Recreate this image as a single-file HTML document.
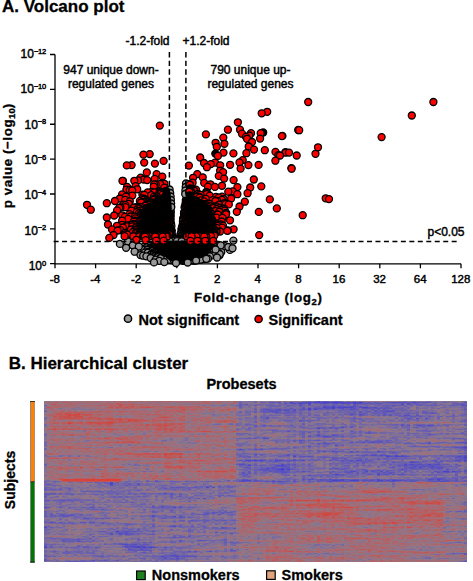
<!DOCTYPE html>
<html><head><meta charset="utf-8"><style>
html,body{margin:0;padding:0;background:#fff;overflow:hidden}
svg{display:block}
text{font-family:"Liberation Sans",sans-serif;fill:#000}
.r{stroke:#000;stroke-width:0.45px}
.b{font-weight:bold;stroke:#000;stroke-width:0.3px}
</style></head><body>
<svg width="473" height="581" viewBox="0 0 473 581">
<rect width="473" height="581" fill="#fff"/>
<text class="b" x="2" y="12.2" font-size="17">A. Volcano plot</text>
<path d="M55 54.5V263.8H461" fill="none" stroke="#000" stroke-width="1.3"/><path d="M50 54.5H55M50 89.37H55M50 124.24H55M50 159.11H55M50 193.98H55M50 228.85H55M50 263.72H55M55 263.8V268.3M95.6 263.8V268.3M136.2 263.8V268.3M176.8 263.8V268.3M217.4 263.8V268.3M258 263.8V268.3M298.6 263.8V268.3M339.2 263.8V268.3M379.8 263.8V268.3M420.4 263.8V268.3M461 263.8V268.3" stroke="#000" stroke-width="1.3" fill="none"/>
<g fill="#999999" stroke="#000" stroke-width="1.3"><circle cx="184.2" cy="212.1" r="3.5"/><circle cx="170.3" cy="212.2" r="3.5"/><circle cx="185.3" cy="212.2" r="3.5"/><circle cx="169.6" cy="212.3" r="3.5"/><circle cx="170.6" cy="212.3" r="3.5"/><circle cx="184.9" cy="212.3" r="3.5"/><circle cx="184.6" cy="212.4" r="3.5"/><circle cx="185.1" cy="212.7" r="3.5"/><circle cx="169.3" cy="213.5" r="3.5"/><circle cx="185" cy="213.6" r="3.5"/><circle cx="184.1" cy="213.6" r="3.5"/><circle cx="184" cy="213.6" r="3.5"/><circle cx="184.2" cy="214.1" r="3.5"/><circle cx="170.6" cy="214.4" r="3.5"/><circle cx="186.1" cy="214.6" r="3.5"/><circle cx="185.3" cy="214.8" r="3.5"/><circle cx="184.7" cy="215" r="3.5"/><circle cx="169.4" cy="215.5" r="3.5"/><circle cx="169.7" cy="215.9" r="3.5"/><circle cx="185.6" cy="215.9" r="3.5"/><circle cx="170.1" cy="216.1" r="3.5"/><circle cx="184.3" cy="216.3" r="3.5"/><circle cx="170.4" cy="216.4" r="3.5"/><circle cx="170.3" cy="216.5" r="3.5"/><circle cx="169.4" cy="216.8" r="3.5"/><circle cx="184.9" cy="217" r="3.5"/><circle cx="169.5" cy="217.1" r="3.5"/><circle cx="184.1" cy="217.2" r="3.5"/><circle cx="185.8" cy="217.7" r="3.5"/><circle cx="185" cy="217.9" r="3.5"/><circle cx="183.2" cy="218.4" r="3.5"/><circle cx="184" cy="218.6" r="3.5"/><circle cx="170.4" cy="218.7" r="3.5"/><circle cx="169.6" cy="218.9" r="3.5"/><circle cx="183.2" cy="219" r="3.5"/><circle cx="185.4" cy="219.3" r="3.5"/><circle cx="183.9" cy="219.3" r="3.5"/><circle cx="184.7" cy="219.4" r="3.5"/><circle cx="170.4" cy="219.4" r="3.5"/><circle cx="184.1" cy="219.7" r="3.5"/><circle cx="184.3" cy="219.7" r="3.5"/><circle cx="170.2" cy="220.3" r="3.5"/><circle cx="185.5" cy="220.3" r="3.5"/><circle cx="184.2" cy="221" r="3.5"/><circle cx="184.5" cy="221.1" r="3.5"/><circle cx="186.1" cy="221.2" r="3.5"/><circle cx="170.1" cy="221.5" r="3.5"/><circle cx="182.9" cy="221.5" r="3.5"/><circle cx="184.8" cy="222" r="3.5"/><circle cx="170.3" cy="222.4" r="3.5"/><circle cx="183.7" cy="223" r="3.5"/><circle cx="185.8" cy="223.4" r="3.5"/><circle cx="184.3" cy="223.5" r="3.5"/><circle cx="170.9" cy="223.5" r="3.5"/><circle cx="170.1" cy="223.6" r="3.5"/><circle cx="183" cy="223.9" r="3.5"/><circle cx="183.9" cy="223.9" r="3.5"/><circle cx="171.1" cy="224.1" r="3.5"/><circle cx="170.6" cy="224.2" r="3.5"/><circle cx="183.6" cy="224.7" r="3.5"/><circle cx="183.8" cy="224.8" r="3.5"/><circle cx="182.8" cy="224.8" r="3.5"/><circle cx="170.5" cy="224.9" r="3.5"/><circle cx="183.5" cy="225.1" r="3.5"/><circle cx="183.9" cy="225.3" r="3.5"/><circle cx="185.9" cy="225.5" r="3.5"/><circle cx="182.7" cy="226.1" r="3.5"/><circle cx="169.9" cy="226.2" r="3.5"/><circle cx="171.4" cy="226.2" r="3.5"/><circle cx="183.7" cy="226.4" r="3.5"/><circle cx="169.6" cy="226.8" r="3.5"/><circle cx="182.2" cy="227" r="3.5"/><circle cx="169.9" cy="227.1" r="3.5"/><circle cx="183.7" cy="227.2" r="3.5"/><circle cx="183" cy="227.3" r="3.5"/><circle cx="170.1" cy="227.5" r="3.5"/><circle cx="181.9" cy="227.8" r="3.5"/><circle cx="183.7" cy="227.9" r="3.5"/><circle cx="185.6" cy="228.6" r="3.5"/><circle cx="184" cy="228.7" r="3.5"/><circle cx="183.5" cy="228.7" r="3.5"/><circle cx="184.7" cy="228.9" r="3.5"/><circle cx="182.6" cy="228.9" r="3.5"/><circle cx="169.8" cy="229.1" r="3.5"/><circle cx="170.5" cy="229.1" r="3.5"/><circle cx="182.2" cy="229.2" r="3.5"/><circle cx="184.3" cy="229.5" r="3.5"/><circle cx="181.4" cy="229.5" r="3.5"/><circle cx="182.1" cy="229.6" r="3.5"/><circle cx="184" cy="229.7" r="3.5"/><circle cx="169.7" cy="229.9" r="3.5"/><circle cx="170.2" cy="230" r="3.5"/><circle cx="184.2" cy="230.1" r="3.5"/><circle cx="182.6" cy="230.1" r="3.5"/><circle cx="170.8" cy="230.3" r="3.5"/><circle cx="170.1" cy="230.5" r="3.5"/><circle cx="171.8" cy="230.8" r="3.5"/><circle cx="182.4" cy="230.9" r="3.5"/><circle cx="171.2" cy="231.2" r="3.5"/><circle cx="183.6" cy="231.3" r="3.5"/><circle cx="183.2" cy="231.5" r="3.5"/><circle cx="182.2" cy="231.6" r="3.5"/><circle cx="182.4" cy="231.7" r="3.5"/><circle cx="170.9" cy="231.9" r="3.5"/><circle cx="170.2" cy="232" r="3.5"/><circle cx="182.1" cy="232" r="3.5"/><circle cx="183.1" cy="232.2" r="3.5"/><circle cx="183.7" cy="232.2" r="3.5"/><circle cx="183.7" cy="232.3" r="3.5"/><circle cx="181.5" cy="232.4" r="3.5"/><circle cx="184.1" cy="232.5" r="3.5"/><circle cx="184.7" cy="233.1" r="3.5"/><circle cx="181.3" cy="233.3" r="3.5"/><circle cx="184.3" cy="233.3" r="3.5"/><circle cx="170.9" cy="233.4" r="3.5"/><circle cx="185" cy="233.5" r="3.5"/><circle cx="182.5" cy="233.5" r="3.5"/><circle cx="183.1" cy="233.8" r="3.5"/><circle cx="185.4" cy="233.9" r="3.5"/><circle cx="171.5" cy="233.9" r="3.5"/><circle cx="180.8" cy="234.1" r="3.5"/><circle cx="182.7" cy="234.2" r="3.5"/><circle cx="182.3" cy="234.2" r="3.5"/><circle cx="170" cy="234.2" r="3.5"/><circle cx="180.5" cy="234.4" r="3.5"/><circle cx="169.4" cy="234.5" r="3.5"/><circle cx="171.9" cy="235" r="3.5"/><circle cx="186" cy="235.2" r="3.5"/><circle cx="171.8" cy="235.3" r="3.5"/><circle cx="181.7" cy="235.3" r="3.5"/><circle cx="184.4" cy="235.7" r="3.5"/><circle cx="181.5" cy="235.7" r="3.5"/><circle cx="182.2" cy="235.7" r="3.5"/><circle cx="184" cy="235.9" r="3.5"/><circle cx="184" cy="236.1" r="3.5"/><circle cx="181.1" cy="236.2" r="3.5"/><circle cx="186" cy="236.3" r="3.5"/><circle cx="180.4" cy="236.7" r="3.5"/><circle cx="170.8" cy="236.7" r="3.5"/><circle cx="170.4" cy="236.7" r="3.5"/><circle cx="180.6" cy="236.7" r="3.5"/><circle cx="169.8" cy="236.7" r="3.5"/><circle cx="185.1" cy="237" r="3.5"/><circle cx="171.9" cy="237" r="3.5"/><circle cx="169.5" cy="237.1" r="3.5"/><circle cx="180.3" cy="237.1" r="3.5"/><circle cx="180.2" cy="237.3" r="3.5"/><circle cx="172.2" cy="237.7" r="3.5"/><circle cx="185.2" cy="237.8" r="3.5"/><circle cx="169.5" cy="237.8" r="3.5"/><circle cx="183.6" cy="237.9" r="3.5"/><circle cx="184" cy="237.9" r="3.5"/><circle cx="185.1" cy="238.1" r="3.5"/><circle cx="169.5" cy="238.2" r="3.5"/><circle cx="184.8" cy="238.3" r="3.5"/><circle cx="173.5" cy="238.3" r="3.5"/><circle cx="173.1" cy="238.4" r="3.5"/><circle cx="171.7" cy="238.4" r="3.5"/><circle cx="184.5" cy="238.4" r="3.5"/><circle cx="179.8" cy="238.5" r="3.5"/><circle cx="184.3" cy="238.5" r="3.5"/><circle cx="184.7" cy="238.5" r="3.5"/><circle cx="169.8" cy="238.6" r="3.5"/><circle cx="184.8" cy="238.8" r="3.5"/><circle cx="181.1" cy="238.8" r="3.5"/><circle cx="178.8" cy="238.9" r="3.5"/><circle cx="181.3" cy="239" r="3.5"/><circle cx="179.8" cy="239" r="3.5"/><circle cx="169.7" cy="239" r="3.5"/><circle cx="171.3" cy="239.2" r="3.5"/><circle cx="174.9" cy="239.2" r="3.5"/><circle cx="178.2" cy="239.4" r="3.5"/><circle cx="171.2" cy="239.4" r="3.5"/><circle cx="177.7" cy="239.6" r="3.5"/><circle cx="182.2" cy="239.6" r="3.5"/><circle cx="175.5" cy="239.7" r="3.5"/><circle cx="173.9" cy="239.7" r="3.5"/><circle cx="177.5" cy="239.9" r="3.5"/><circle cx="176.8" cy="240.1" r="3.5"/><circle cx="183.4" cy="240.1" r="3.5"/><circle cx="184.1" cy="240.2" r="3.5"/><circle cx="178.1" cy="240.2" r="3.5"/><circle cx="175.7" cy="240.3" r="3.5"/><circle cx="175.3" cy="240.3" r="3.5"/><circle cx="175.9" cy="240.4" r="3.5"/><circle cx="175.9" cy="240.5" r="3.5"/><circle cx="185" cy="240.5" r="3.5"/><circle cx="181.7" cy="240.5" r="3.5"/><circle cx="180.9" cy="240.7" r="3.5"/><circle cx="179" cy="240.7" r="3.5"/><circle cx="182" cy="240.8" r="3.5"/><circle cx="177.5" cy="240.9" r="3.5"/><circle cx="179.2" cy="240.9" r="3.5"/><circle cx="172.6" cy="241" r="3.5"/><circle cx="185.4" cy="241" r="3.5"/><circle cx="181.6" cy="241" r="3.5"/><circle cx="184" cy="241" r="3.5"/><circle cx="177" cy="241.1" r="3.5"/><circle cx="184.9" cy="241.2" r="3.5"/><circle cx="169.6" cy="241.2" r="3.5"/><circle cx="181.6" cy="241.3" r="3.5"/><circle cx="185.7" cy="211.8" r="3.5"/><circle cx="185.8" cy="210.2" r="3.5"/><circle cx="185.8" cy="209.2" r="3.5"/><circle cx="185.7" cy="209.2" r="3.5"/><circle cx="186" cy="206.6" r="3.5"/><circle cx="169.5" cy="211.4" r="3.5"/><circle cx="169.6" cy="207.7" r="3.5"/><circle cx="186.1" cy="202.7" r="3.5"/><circle cx="185.7" cy="205.9" r="3.5"/><circle cx="184.7" cy="211.9" r="3.5"/><circle cx="169.9" cy="208.1" r="3.5"/><circle cx="185.8" cy="203.4" r="3.5"/><circle cx="169.5" cy="204.4" r="3.5"/><circle cx="185.7" cy="203.3" r="3.5"/><circle cx="169.8" cy="205.7" r="3.5"/><circle cx="170.1" cy="209.8" r="3.5"/><circle cx="185" cy="208.3" r="3.5"/><circle cx="185" cy="207.8" r="3.5"/><circle cx="185.8" cy="200.3" r="3.5"/><circle cx="169.8" cy="203.8" r="3.5"/><circle cx="170.3" cy="206.5" r="3.5"/><circle cx="170.3" cy="206.7" r="3.5"/><circle cx="184.7" cy="207.8" r="3.5"/><circle cx="170.6" cy="210.9" r="3.5"/><circle cx="184.8" cy="206.4" r="3.5"/><circle cx="149.6" cy="245.4" r="3.5"/><circle cx="151.7" cy="245.2" r="3.5"/><circle cx="198.8" cy="245.6" r="3.5"/><circle cx="186.3" cy="245.6" r="3.5"/><circle cx="181.4" cy="244.9" r="3.5"/><circle cx="128.6" cy="244.9" r="3.5"/><circle cx="176" cy="245" r="3.5"/><circle cx="187" cy="245.6" r="3.5"/><circle cx="160.9" cy="245.5" r="3.5"/><circle cx="159" cy="245.7" r="3.5"/><circle cx="206.1" cy="245.4" r="3.5"/><circle cx="210.8" cy="245.4" r="3.5"/><circle cx="196.4" cy="245.4" r="3.5"/><circle cx="179.7" cy="245.2" r="3.5"/><circle cx="171.2" cy="244.8" r="3.5"/><circle cx="174.4" cy="245.3" r="3.5"/><circle cx="155.1" cy="244.8" r="3.5"/><circle cx="166.8" cy="245.5" r="3.5"/><circle cx="174.3" cy="245.5" r="3.5"/><circle cx="219.4" cy="245.1" r="3.5"/><circle cx="165.5" cy="245" r="3.5"/><circle cx="169.2" cy="245" r="3.5"/><circle cx="177.5" cy="246.7" r="3.5"/><circle cx="181.3" cy="245.1" r="3.5"/><circle cx="190.8" cy="245.4" r="3.5"/><circle cx="161.6" cy="244.9" r="3.5"/><circle cx="190.5" cy="244.9" r="3.5"/><circle cx="171.6" cy="245.7" r="3.5"/><circle cx="178.4" cy="245.7" r="3.5"/><circle cx="183.3" cy="245.3" r="3.5"/><circle cx="199.2" cy="246.3" r="3.5"/><circle cx="137.7" cy="245.9" r="3.5"/><circle cx="171.7" cy="246.3" r="3.5"/><circle cx="154.4" cy="245.7" r="3.5"/><circle cx="177.3" cy="245" r="3.5"/><circle cx="198.9" cy="245.3" r="3.5"/><circle cx="165" cy="246.3" r="3.5"/><circle cx="177.4" cy="245.9" r="3.5"/><circle cx="152" cy="245.7" r="3.5"/><circle cx="159.6" cy="245" r="3.5"/><circle cx="165.4" cy="245.9" r="3.5"/><circle cx="183.1" cy="246.4" r="3.5"/><circle cx="175.7" cy="245.1" r="3.5"/><circle cx="174.9" cy="246.6" r="3.5"/><circle cx="166.4" cy="246.2" r="3.5"/><circle cx="168.2" cy="244.9" r="3.5"/><circle cx="185.7" cy="246.7" r="3.5"/><circle cx="195.5" cy="245.9" r="3.5"/><circle cx="152.3" cy="246" r="3.5"/><circle cx="151.7" cy="246.2" r="3.5"/><circle cx="179.4" cy="245" r="3.5"/><circle cx="184.3" cy="245.4" r="3.5"/><circle cx="158.2" cy="246" r="3.5"/><circle cx="180.3" cy="245.5" r="3.5"/><circle cx="183.3" cy="245.6" r="3.5"/><circle cx="194.2" cy="247" r="3.5"/><circle cx="196.8" cy="245.3" r="3.5"/><circle cx="172.8" cy="245.5" r="3.5"/><circle cx="187.4" cy="245.9" r="3.5"/><circle cx="163.3" cy="245.3" r="3.5"/><circle cx="184.8" cy="245.2" r="3.5"/><circle cx="181.6" cy="245.5" r="3.5"/><circle cx="198" cy="247.3" r="3.5"/><circle cx="207.7" cy="246.1" r="3.5"/><circle cx="161.6" cy="245.2" r="3.5"/><circle cx="162.2" cy="245.7" r="3.5"/><circle cx="175.3" cy="245.2" r="3.5"/><circle cx="203.6" cy="245.6" r="3.5"/><circle cx="179.6" cy="246.2" r="3.5"/><circle cx="159.7" cy="246.6" r="3.5"/><circle cx="148.2" cy="246.1" r="3.5"/><circle cx="183.1" cy="245.6" r="3.5"/><circle cx="170.3" cy="246" r="3.5"/><circle cx="180.6" cy="245.7" r="3.5"/><circle cx="170.4" cy="246.9" r="3.5"/><circle cx="189.4" cy="245.2" r="3.5"/><circle cx="176.2" cy="247.9" r="3.5"/><circle cx="150.3" cy="246.5" r="3.5"/><circle cx="172.4" cy="245" r="3.5"/><circle cx="161.8" cy="246.8" r="3.5"/><circle cx="167.5" cy="245.6" r="3.5"/><circle cx="172" cy="246.5" r="3.5"/><circle cx="183.7" cy="246.7" r="3.5"/><circle cx="159.4" cy="246.6" r="3.5"/><circle cx="207.8" cy="247.1" r="3.5"/><circle cx="169.1" cy="246.3" r="3.5"/><circle cx="175.2" cy="245.3" r="3.5"/><circle cx="186" cy="247" r="3.5"/><circle cx="174.6" cy="247" r="3.5"/><circle cx="167.6" cy="247.4" r="3.5"/><circle cx="206.8" cy="246.8" r="3.5"/><circle cx="193.2" cy="245.2" r="3.5"/><circle cx="159.5" cy="247.2" r="3.5"/><circle cx="163.1" cy="246" r="3.5"/><circle cx="138.2" cy="246.6" r="3.5"/><circle cx="204.3" cy="248.6" r="3.5"/><circle cx="193.9" cy="247" r="3.5"/><circle cx="173.1" cy="246.1" r="3.5"/><circle cx="156.9" cy="246.3" r="3.5"/><circle cx="177.5" cy="246" r="3.5"/><circle cx="173.6" cy="244.9" r="3.5"/><circle cx="160.9" cy="246.9" r="3.5"/><circle cx="151.7" cy="245.5" r="3.5"/><circle cx="174.1" cy="247" r="3.5"/><circle cx="166.5" cy="245" r="3.5"/><circle cx="164.5" cy="248.9" r="3.5"/><circle cx="170.5" cy="245.2" r="3.5"/><circle cx="182.7" cy="245.2" r="3.5"/><circle cx="189.1" cy="246" r="3.5"/><circle cx="202.7" cy="246" r="3.5"/><circle cx="181.5" cy="246" r="3.5"/><circle cx="192.4" cy="248" r="3.5"/><circle cx="161.4" cy="246.4" r="3.5"/><circle cx="152.8" cy="246.9" r="3.5"/><circle cx="195.3" cy="246" r="3.5"/><circle cx="203" cy="245.3" r="3.5"/><circle cx="172.9" cy="246.8" r="3.5"/><circle cx="157.9" cy="246.4" r="3.5"/><circle cx="208.9" cy="246.8" r="3.5"/><circle cx="154.7" cy="246.6" r="3.5"/><circle cx="163.5" cy="246.9" r="3.5"/><circle cx="182.9" cy="247.3" r="3.5"/><circle cx="173.4" cy="246.4" r="3.5"/><circle cx="154.5" cy="244.9" r="3.5"/><circle cx="152.7" cy="246.3" r="3.5"/><circle cx="192.1" cy="246.5" r="3.5"/><circle cx="176.3" cy="246.5" r="3.5"/><circle cx="183.5" cy="246.1" r="3.5"/><circle cx="187.7" cy="247.5" r="3.5"/><circle cx="182.9" cy="246.6" r="3.5"/><circle cx="187.9" cy="246.1" r="3.5"/><circle cx="174.6" cy="246" r="3.5"/><circle cx="188" cy="247" r="3.5"/><circle cx="153.2" cy="246.7" r="3.5"/><circle cx="180.3" cy="247.7" r="3.5"/><circle cx="173.6" cy="247.4" r="3.5"/><circle cx="171.4" cy="245.5" r="3.5"/><circle cx="161.1" cy="245.9" r="3.5"/><circle cx="172.6" cy="246.1" r="3.5"/><circle cx="192.2" cy="246.8" r="3.5"/><circle cx="180.3" cy="247.9" r="3.5"/><circle cx="165" cy="245.9" r="3.5"/><circle cx="222.2" cy="247" r="3.5"/><circle cx="175" cy="247.3" r="3.5"/><circle cx="175.1" cy="246.3" r="3.5"/><circle cx="155.5" cy="245.9" r="3.5"/><circle cx="182.3" cy="247" r="3.5"/><circle cx="189.8" cy="246.6" r="3.5"/><circle cx="194" cy="245.6" r="3.5"/><circle cx="152.9" cy="247.7" r="3.5"/><circle cx="177.2" cy="246.1" r="3.5"/><circle cx="195.8" cy="246.8" r="3.5"/><circle cx="179.8" cy="246.5" r="3.5"/><circle cx="204.7" cy="246.2" r="3.5"/><circle cx="171.9" cy="248" r="3.5"/><circle cx="183.7" cy="246.7" r="3.5"/><circle cx="176.1" cy="245.9" r="3.5"/><circle cx="213.6" cy="247.6" r="3.5"/><circle cx="171.4" cy="247.7" r="3.5"/><circle cx="182.3" cy="246.9" r="3.5"/><circle cx="162.8" cy="246.5" r="3.5"/><circle cx="194.5" cy="245.6" r="3.5"/><circle cx="203" cy="247.9" r="3.5"/><circle cx="139.6" cy="247.6" r="3.5"/><circle cx="179.6" cy="246.4" r="3.5"/><circle cx="162.4" cy="247.6" r="3.5"/><circle cx="161.2" cy="249.3" r="3.5"/><circle cx="174.4" cy="245.3" r="3.5"/><circle cx="151.1" cy="247" r="3.5"/><circle cx="177.3" cy="247.7" r="3.5"/><circle cx="168.2" cy="246.6" r="3.5"/><circle cx="175.2" cy="248" r="3.5"/><circle cx="178.8" cy="247.8" r="3.5"/><circle cx="182.9" cy="247.3" r="3.5"/><circle cx="174.6" cy="248.9" r="3.5"/><circle cx="182.8" cy="247.5" r="3.5"/><circle cx="160.1" cy="248.9" r="3.5"/><circle cx="161.7" cy="246.6" r="3.5"/><circle cx="173.3" cy="247.2" r="3.5"/><circle cx="199.8" cy="248.2" r="3.5"/><circle cx="201.3" cy="247.9" r="3.5"/><circle cx="165.3" cy="246.1" r="3.5"/><circle cx="153.1" cy="248" r="3.5"/><circle cx="225" cy="246.2" r="3.5"/><circle cx="161.2" cy="246.4" r="3.5"/><circle cx="229.9" cy="249.9" r="3.5"/><circle cx="190.1" cy="249.6" r="3.5"/><circle cx="170" cy="247" r="3.5"/><circle cx="189.3" cy="247.6" r="3.5"/><circle cx="201.3" cy="246" r="3.5"/><circle cx="172.5" cy="247.7" r="3.5"/><circle cx="167.2" cy="247.8" r="3.5"/><circle cx="188.8" cy="246.6" r="3.5"/><circle cx="191.2" cy="247.3" r="3.5"/><circle cx="177.6" cy="246.1" r="3.5"/><circle cx="159.7" cy="248.6" r="3.5"/><circle cx="151.5" cy="246.5" r="3.5"/><circle cx="187.5" cy="246.4" r="3.5"/><circle cx="181.4" cy="247.8" r="3.5"/><circle cx="187" cy="247.1" r="3.5"/><circle cx="164" cy="247.7" r="3.5"/><circle cx="209" cy="247.9" r="3.5"/><circle cx="167.2" cy="249" r="3.5"/><circle cx="180.7" cy="248.5" r="3.5"/><circle cx="200.1" cy="246.6" r="3.5"/><circle cx="168.8" cy="246.8" r="3.5"/><circle cx="173.9" cy="247.9" r="3.5"/><circle cx="166.7" cy="247.9" r="3.5"/><circle cx="182.6" cy="246.8" r="3.5"/><circle cx="161.1" cy="248.2" r="3.5"/><circle cx="191.1" cy="247.4" r="3.5"/><circle cx="174" cy="246.9" r="3.5"/><circle cx="171.4" cy="245.7" r="3.5"/><circle cx="167" cy="245.9" r="3.5"/><circle cx="160.8" cy="249.6" r="3.5"/><circle cx="169.3" cy="247.4" r="3.5"/><circle cx="171.5" cy="248.4" r="3.5"/><circle cx="168.9" cy="246.7" r="3.5"/><circle cx="144" cy="246.9" r="3.5"/><circle cx="209.2" cy="247.6" r="3.5"/><circle cx="157.5" cy="249" r="3.5"/><circle cx="169.6" cy="247.1" r="3.5"/><circle cx="186.5" cy="248.2" r="3.5"/><circle cx="213.9" cy="246.2" r="3.5"/><circle cx="209.1" cy="247.1" r="3.5"/><circle cx="203.8" cy="249.1" r="3.5"/><circle cx="203.2" cy="249.2" r="3.5"/><circle cx="171.2" cy="247.1" r="3.5"/><circle cx="194.7" cy="247.1" r="3.5"/><circle cx="181.6" cy="248.3" r="3.5"/><circle cx="161.1" cy="248.3" r="3.5"/><circle cx="207.4" cy="249" r="3.5"/><circle cx="182.1" cy="248.5" r="3.5"/><circle cx="188.2" cy="248" r="3.5"/><circle cx="191.2" cy="247.8" r="3.5"/><circle cx="164.7" cy="245.8" r="3.5"/><circle cx="170.8" cy="244.9" r="3.5"/><circle cx="147.5" cy="248.9" r="3.5"/><circle cx="164.4" cy="247.7" r="3.5"/><circle cx="172.5" cy="249.3" r="3.5"/><circle cx="181" cy="245.6" r="3.5"/><circle cx="178.6" cy="249.6" r="3.5"/><circle cx="173.1" cy="246.9" r="3.5"/><circle cx="200.1" cy="247.3" r="3.5"/><circle cx="186.3" cy="248.8" r="3.5"/><circle cx="170.1" cy="248.5" r="3.5"/><circle cx="190.9" cy="248" r="3.5"/><circle cx="194.1" cy="248.2" r="3.5"/><circle cx="180" cy="247.6" r="3.5"/><circle cx="200.3" cy="247.4" r="3.5"/><circle cx="190.5" cy="248.4" r="3.5"/><circle cx="152" cy="247.4" r="3.5"/><circle cx="186.9" cy="248.1" r="3.5"/><circle cx="160.1" cy="247.9" r="3.5"/><circle cx="202.4" cy="248" r="3.5"/><circle cx="166" cy="249" r="3.5"/><circle cx="190.2" cy="248.2" r="3.5"/><circle cx="174.8" cy="247.5" r="3.5"/><circle cx="183.5" cy="248.1" r="3.5"/><circle cx="193.5" cy="247.5" r="3.5"/><circle cx="182.7" cy="247.9" r="3.5"/><circle cx="167.9" cy="248.5" r="3.5"/><circle cx="176.4" cy="248.7" r="3.5"/><circle cx="177.9" cy="248.4" r="3.5"/><circle cx="164.6" cy="249.7" r="3.5"/><circle cx="165.1" cy="249" r="3.5"/><circle cx="170.1" cy="248.4" r="3.5"/><circle cx="164" cy="249.1" r="3.5"/><circle cx="162.3" cy="248" r="3.5"/><circle cx="194.2" cy="246.1" r="3.5"/><circle cx="162.8" cy="249.1" r="3.5"/><circle cx="159.1" cy="248.7" r="3.5"/><circle cx="160.1" cy="247.9" r="3.5"/><circle cx="185" cy="248.9" r="3.5"/><circle cx="149.6" cy="245.9" r="3.5"/><circle cx="166.6" cy="249.3" r="3.5"/><circle cx="202.9" cy="248.6" r="3.5"/><circle cx="185.8" cy="247.4" r="3.5"/><circle cx="193.7" cy="249.4" r="3.5"/><circle cx="179.7" cy="247.7" r="3.5"/><circle cx="146" cy="248.6" r="3.5"/><circle cx="179" cy="249.3" r="3.5"/><circle cx="146.5" cy="247.4" r="3.5"/><circle cx="197.4" cy="249.1" r="3.5"/><circle cx="141" cy="248.9" r="3.5"/><circle cx="183.3" cy="249.1" r="3.5"/><circle cx="192.5" cy="247.4" r="3.5"/><circle cx="201.8" cy="248.8" r="3.5"/><circle cx="186.6" cy="248.1" r="3.5"/><circle cx="193.8" cy="248.2" r="3.5"/><circle cx="158.8" cy="248.8" r="3.5"/><circle cx="197.7" cy="249.7" r="3.5"/><circle cx="177.8" cy="248.6" r="3.5"/><circle cx="161.1" cy="246.5" r="3.5"/><circle cx="161.1" cy="250.8" r="3.5"/><circle cx="193.4" cy="247.7" r="3.5"/><circle cx="168" cy="248.8" r="3.5"/><circle cx="187.5" cy="248.3" r="3.5"/><circle cx="150.8" cy="247.5" r="3.5"/><circle cx="193.2" cy="246.6" r="3.5"/><circle cx="160.8" cy="248.6" r="3.5"/><circle cx="180" cy="248.2" r="3.5"/><circle cx="169.3" cy="250.1" r="3.5"/><circle cx="181.5" cy="248.6" r="3.5"/><circle cx="197.2" cy="248.9" r="3.5"/><circle cx="190.2" cy="249.2" r="3.5"/><circle cx="182" cy="249.7" r="3.5"/><circle cx="174.2" cy="248" r="3.5"/><circle cx="187.4" cy="250.9" r="3.5"/><circle cx="149.3" cy="248.7" r="3.5"/><circle cx="160.9" cy="247.8" r="3.5"/><circle cx="197.3" cy="249" r="3.5"/><circle cx="184.2" cy="247.3" r="3.5"/><circle cx="181.8" cy="249.5" r="3.5"/><circle cx="158.6" cy="248.8" r="3.5"/><circle cx="203.4" cy="248.9" r="3.5"/><circle cx="183.5" cy="248.9" r="3.5"/><circle cx="164.8" cy="249.7" r="3.5"/><circle cx="202.2" cy="250.1" r="3.5"/><circle cx="186.7" cy="248.6" r="3.5"/><circle cx="197.9" cy="248.1" r="3.5"/><circle cx="166.1" cy="247.8" r="3.5"/><circle cx="179.2" cy="250.1" r="3.5"/><circle cx="174.5" cy="250.1" r="3.5"/><circle cx="170.2" cy="249.5" r="3.5"/><circle cx="171.3" cy="248.7" r="3.5"/><circle cx="176.5" cy="250.3" r="3.5"/><circle cx="173.3" cy="249.5" r="3.5"/><circle cx="174.4" cy="248.6" r="3.5"/><circle cx="179.1" cy="250.2" r="3.5"/><circle cx="168.4" cy="248.8" r="3.5"/><circle cx="166.4" cy="248.9" r="3.5"/><circle cx="185.1" cy="247.2" r="3.5"/><circle cx="193.3" cy="251.1" r="3.5"/><circle cx="183.2" cy="250.5" r="3.5"/><circle cx="171.5" cy="249.1" r="3.5"/><circle cx="193" cy="248.9" r="3.5"/><circle cx="150.6" cy="248.2" r="3.5"/><circle cx="194.3" cy="250.2" r="3.5"/><circle cx="168.9" cy="248.3" r="3.5"/><circle cx="171.6" cy="249.6" r="3.5"/><circle cx="169.1" cy="250.9" r="3.5"/><circle cx="162" cy="248.2" r="3.5"/><circle cx="186.5" cy="246.8" r="3.5"/><circle cx="192.2" cy="250.2" r="3.5"/><circle cx="183.5" cy="249.4" r="3.5"/><circle cx="167.3" cy="249.3" r="3.5"/><circle cx="165.1" cy="250.2" r="3.5"/><circle cx="167.7" cy="250" r="3.5"/><circle cx="184.6" cy="248.1" r="3.5"/><circle cx="173.2" cy="249.6" r="3.5"/><circle cx="156.9" cy="248.6" r="3.5"/><circle cx="182.2" cy="250.1" r="3.5"/><circle cx="158.9" cy="249.1" r="3.5"/><circle cx="198.2" cy="250.9" r="3.5"/><circle cx="181.7" cy="247.4" r="3.5"/><circle cx="137.9" cy="249.9" r="3.5"/><circle cx="194.3" cy="248.7" r="3.5"/><circle cx="154.1" cy="250" r="3.5"/><circle cx="165.8" cy="250.3" r="3.5"/><circle cx="187.6" cy="249.3" r="3.5"/><circle cx="188.9" cy="250" r="3.5"/><circle cx="190" cy="248.6" r="3.5"/><circle cx="148.6" cy="250.1" r="3.5"/><circle cx="168.6" cy="248.4" r="3.5"/><circle cx="173.3" cy="250.7" r="3.5"/><circle cx="185.2" cy="247.3" r="3.5"/><circle cx="174.8" cy="250.5" r="3.5"/><circle cx="172.3" cy="248.4" r="3.5"/><circle cx="184" cy="251.2" r="3.5"/><circle cx="176.2" cy="251.9" r="3.5"/><circle cx="195.7" cy="250.1" r="3.5"/><circle cx="139.1" cy="248.9" r="3.5"/><circle cx="181" cy="249.2" r="3.5"/><circle cx="151.4" cy="249" r="3.5"/><circle cx="170.1" cy="248.6" r="3.5"/><circle cx="180.5" cy="251" r="3.5"/><circle cx="178.3" cy="247.9" r="3.5"/><circle cx="177.3" cy="248.9" r="3.5"/><circle cx="171.4" cy="249.6" r="3.5"/><circle cx="179.8" cy="247.7" r="3.5"/><circle cx="163.6" cy="250.7" r="3.5"/><circle cx="164.8" cy="247.7" r="3.5"/><circle cx="189.3" cy="249.8" r="3.5"/><circle cx="181.2" cy="250.8" r="3.5"/><circle cx="199.3" cy="249.9" r="3.5"/><circle cx="181.3" cy="249.6" r="3.5"/><circle cx="182.3" cy="250.3" r="3.5"/><circle cx="181.3" cy="249.7" r="3.5"/><circle cx="184.5" cy="250.5" r="3.5"/><circle cx="187.9" cy="249.9" r="3.5"/><circle cx="172.2" cy="249.8" r="3.5"/><circle cx="189.2" cy="249.5" r="3.5"/><circle cx="189.7" cy="249.7" r="3.5"/><circle cx="209.7" cy="249.6" r="3.5"/><circle cx="201" cy="249.4" r="3.5"/><circle cx="192.9" cy="250.8" r="3.5"/><circle cx="187.7" cy="249.4" r="3.5"/><circle cx="189.3" cy="249.1" r="3.5"/><circle cx="182.5" cy="250.5" r="3.5"/><circle cx="196.8" cy="251.7" r="3.5"/><circle cx="162.4" cy="250.4" r="3.5"/><circle cx="175.1" cy="249.3" r="3.5"/><circle cx="186.3" cy="249.5" r="3.5"/><circle cx="172.4" cy="250.6" r="3.5"/><circle cx="196" cy="250.1" r="3.5"/><circle cx="162.5" cy="247.4" r="3.5"/><circle cx="162.6" cy="249.8" r="3.5"/><circle cx="174" cy="250.7" r="3.5"/><circle cx="192.6" cy="250.6" r="3.5"/><circle cx="192.9" cy="248.9" r="3.5"/><circle cx="149.4" cy="251.2" r="3.5"/><circle cx="173" cy="250.5" r="3.5"/><circle cx="163.2" cy="250.7" r="3.5"/><circle cx="179" cy="250.3" r="3.5"/><circle cx="161.9" cy="250.1" r="3.5"/><circle cx="206.1" cy="249" r="3.5"/><circle cx="191.5" cy="249.3" r="3.5"/><circle cx="184.5" cy="248.6" r="3.5"/><circle cx="186.6" cy="251.2" r="3.5"/><circle cx="164.2" cy="249.4" r="3.5"/><circle cx="155.1" cy="250.7" r="3.5"/><circle cx="175.2" cy="249.8" r="3.5"/><circle cx="184.6" cy="251.9" r="3.5"/><circle cx="162.9" cy="249.5" r="3.5"/><circle cx="167.8" cy="251.1" r="3.5"/><circle cx="174.6" cy="250.2" r="3.5"/><circle cx="169.5" cy="249.1" r="3.5"/><circle cx="158.9" cy="251.5" r="3.5"/><circle cx="136.5" cy="249.3" r="3.5"/><circle cx="183.2" cy="252.2" r="3.5"/><circle cx="194.6" cy="249.3" r="3.5"/><circle cx="191.6" cy="249.4" r="3.5"/><circle cx="195.1" cy="250.4" r="3.5"/><circle cx="149.7" cy="250.9" r="3.5"/><circle cx="151" cy="251.8" r="3.5"/><circle cx="181.5" cy="251.6" r="3.5"/><circle cx="157.4" cy="251.7" r="3.5"/><circle cx="193.1" cy="250" r="3.5"/><circle cx="200.5" cy="248.7" r="3.5"/><circle cx="156.4" cy="251" r="3.5"/><circle cx="147.8" cy="252.7" r="3.5"/><circle cx="151" cy="250" r="3.5"/><circle cx="151.3" cy="250.8" r="3.5"/><circle cx="184.9" cy="250.8" r="3.5"/><circle cx="163.6" cy="251.4" r="3.5"/><circle cx="190.2" cy="250.3" r="3.5"/><circle cx="162.6" cy="248.8" r="3.5"/><circle cx="212.4" cy="251.4" r="3.5"/><circle cx="194.5" cy="250" r="3.5"/><circle cx="138.4" cy="250" r="3.5"/><circle cx="214.2" cy="252.7" r="3.5"/><circle cx="170" cy="249.4" r="3.5"/><circle cx="144.5" cy="249.4" r="3.5"/><circle cx="163.2" cy="249.7" r="3.5"/><circle cx="179.4" cy="248.8" r="3.5"/><circle cx="213.4" cy="250.5" r="3.5"/><circle cx="177.3" cy="250.8" r="3.5"/><circle cx="167.6" cy="251" r="3.5"/><circle cx="192.4" cy="248.5" r="3.5"/><circle cx="159.7" cy="250.5" r="3.5"/><circle cx="216.8" cy="248.5" r="3.5"/><circle cx="179.8" cy="251.2" r="3.5"/><circle cx="175.6" cy="250" r="3.5"/><circle cx="153.7" cy="251.4" r="3.5"/><circle cx="153.6" cy="252.1" r="3.5"/><circle cx="169.9" cy="250.8" r="3.5"/><circle cx="200.6" cy="249.6" r="3.5"/><circle cx="200.3" cy="251.3" r="3.5"/><circle cx="187.4" cy="251.1" r="3.5"/><circle cx="144.2" cy="249.8" r="3.5"/><circle cx="193.4" cy="251.5" r="3.5"/><circle cx="188.7" cy="250.8" r="3.5"/><circle cx="157.4" cy="250.6" r="3.5"/><circle cx="174.2" cy="249.8" r="3.5"/><circle cx="169.8" cy="250.8" r="3.5"/><circle cx="191.3" cy="250.3" r="3.5"/><circle cx="174.2" cy="250.6" r="3.5"/><circle cx="170.6" cy="250.6" r="3.5"/><circle cx="158.8" cy="251" r="3.5"/><circle cx="188" cy="250.9" r="3.5"/><circle cx="175.9" cy="252" r="3.5"/><circle cx="148.2" cy="251.5" r="3.5"/><circle cx="205" cy="251.5" r="3.5"/><circle cx="173.2" cy="250.7" r="3.5"/><circle cx="166.5" cy="249.7" r="3.5"/><circle cx="190.9" cy="251.5" r="3.5"/><circle cx="177.5" cy="250.3" r="3.5"/><circle cx="177.9" cy="251.3" r="3.5"/><circle cx="190.1" cy="251.5" r="3.5"/><circle cx="175" cy="250.5" r="3.5"/><circle cx="184.7" cy="250.3" r="3.5"/><circle cx="191.2" cy="250.3" r="3.5"/><circle cx="151.5" cy="251.3" r="3.5"/><circle cx="189.6" cy="252.5" r="3.5"/><circle cx="187.7" cy="251.2" r="3.5"/><circle cx="183.9" cy="251.3" r="3.5"/><circle cx="162" cy="251.1" r="3.5"/><circle cx="203.2" cy="250.7" r="3.5"/><circle cx="192.3" cy="252.4" r="3.5"/><circle cx="188.1" cy="249.4" r="3.5"/><circle cx="149.4" cy="252.6" r="3.5"/><circle cx="173.2" cy="249.9" r="3.5"/><circle cx="161.2" cy="251.7" r="3.5"/><circle cx="182.6" cy="251" r="3.5"/><circle cx="182.1" cy="250.4" r="3.5"/><circle cx="187.6" cy="250" r="3.5"/><circle cx="190.2" cy="251.1" r="3.5"/><circle cx="185.5" cy="249.5" r="3.5"/><circle cx="153.2" cy="249.5" r="3.5"/><circle cx="165.6" cy="250" r="3.5"/><circle cx="168.7" cy="251.5" r="3.5"/><circle cx="168.5" cy="251.5" r="3.5"/><circle cx="184.6" cy="251.4" r="3.5"/><circle cx="171.9" cy="249.7" r="3.5"/><circle cx="174.4" cy="249.9" r="3.5"/><circle cx="175.8" cy="251.6" r="3.5"/><circle cx="167.4" cy="251" r="3.5"/><circle cx="206.5" cy="251.5" r="3.5"/><circle cx="155.1" cy="253.4" r="3.5"/><circle cx="209" cy="250.9" r="3.5"/><circle cx="169.4" cy="252.3" r="3.5"/><circle cx="149.3" cy="253.5" r="3.5"/><circle cx="159" cy="251.2" r="3.5"/><circle cx="150.3" cy="251.4" r="3.5"/><circle cx="184.5" cy="251.9" r="3.5"/><circle cx="168.9" cy="252.3" r="3.5"/><circle cx="166.7" cy="251.2" r="3.5"/><circle cx="163.3" cy="251.1" r="3.5"/><circle cx="182.6" cy="252.9" r="3.5"/><circle cx="191.7" cy="251.3" r="3.5"/><circle cx="195" cy="252.9" r="3.5"/><circle cx="167.7" cy="251" r="3.5"/><circle cx="149.3" cy="251.4" r="3.5"/><circle cx="178.9" cy="251.7" r="3.5"/><circle cx="161.7" cy="251" r="3.5"/><circle cx="171.7" cy="252.6" r="3.5"/><circle cx="184.5" cy="250.9" r="3.5"/><circle cx="205.2" cy="251.7" r="3.5"/><circle cx="208.1" cy="252.1" r="3.5"/><circle cx="175.9" cy="252" r="3.5"/><circle cx="147.3" cy="250" r="3.5"/><circle cx="159.4" cy="251.7" r="3.5"/><circle cx="186.5" cy="250.2" r="3.5"/><circle cx="171.2" cy="252.4" r="3.5"/><circle cx="186.2" cy="252" r="3.5"/><circle cx="178.4" cy="252.4" r="3.5"/><circle cx="153.5" cy="250.7" r="3.5"/><circle cx="178.2" cy="251.3" r="3.5"/><circle cx="193.9" cy="250.1" r="3.5"/><circle cx="180.2" cy="250.8" r="3.5"/><circle cx="187.6" cy="253.1" r="3.5"/><circle cx="184.5" cy="253.4" r="3.5"/><circle cx="198.2" cy="252.3" r="3.5"/><circle cx="160.7" cy="251.5" r="3.5"/><circle cx="169.6" cy="253.5" r="3.5"/><circle cx="214" cy="252" r="3.5"/><circle cx="176.7" cy="251.4" r="3.5"/><circle cx="196.6" cy="251.6" r="3.5"/><circle cx="166.6" cy="251.3" r="3.5"/><circle cx="179" cy="251.7" r="3.5"/><circle cx="168.5" cy="251.8" r="3.5"/><circle cx="196.5" cy="250.9" r="3.5"/><circle cx="173.2" cy="252.7" r="3.5"/><circle cx="178.6" cy="249.7" r="3.5"/><circle cx="191.4" cy="252.3" r="3.5"/><circle cx="198.2" cy="250.6" r="3.5"/><circle cx="170.8" cy="251.7" r="3.5"/><circle cx="191.6" cy="251.8" r="3.5"/><circle cx="159.3" cy="251.6" r="3.5"/><circle cx="204.3" cy="250.8" r="3.5"/><circle cx="187.8" cy="251.5" r="3.5"/><circle cx="162.8" cy="254" r="3.5"/><circle cx="198.3" cy="250.5" r="3.5"/><circle cx="177.6" cy="252.2" r="3.5"/><circle cx="205.5" cy="251.6" r="3.5"/><circle cx="180.3" cy="253" r="3.5"/><circle cx="168.2" cy="251.4" r="3.5"/><circle cx="198.6" cy="252.4" r="3.5"/><circle cx="171.1" cy="251.8" r="3.5"/><circle cx="166.7" cy="252.7" r="3.5"/><circle cx="194.7" cy="251" r="3.5"/><circle cx="181.1" cy="251.5" r="3.5"/><circle cx="169.4" cy="251.8" r="3.5"/><circle cx="183.9" cy="251.4" r="3.5"/><circle cx="156.1" cy="252" r="3.5"/><circle cx="177.1" cy="252.6" r="3.5"/><circle cx="176.3" cy="252.9" r="3.5"/><circle cx="163.2" cy="251" r="3.5"/><circle cx="188" cy="253.6" r="3.5"/><circle cx="173.8" cy="250.7" r="3.5"/><circle cx="175.6" cy="252.8" r="3.5"/><circle cx="187.3" cy="252.7" r="3.5"/><circle cx="171.7" cy="252.1" r="3.5"/><circle cx="176.5" cy="253.1" r="3.5"/><circle cx="157.8" cy="251.8" r="3.5"/><circle cx="165" cy="254.7" r="3.5"/><circle cx="146.1" cy="252.4" r="3.5"/><circle cx="190.3" cy="252.1" r="3.5"/><circle cx="221.3" cy="252.1" r="3.5"/><circle cx="167.1" cy="251.2" r="3.5"/><circle cx="175.1" cy="251.6" r="3.5"/><circle cx="190.6" cy="249.4" r="3.5"/><circle cx="178.4" cy="253.3" r="3.5"/><circle cx="196.6" cy="249.7" r="3.5"/><circle cx="174.3" cy="252.2" r="3.5"/><circle cx="183.8" cy="252.2" r="3.5"/><circle cx="156.1" cy="252.7" r="3.5"/><circle cx="171.6" cy="252.6" r="3.5"/><circle cx="180.8" cy="252.6" r="3.5"/><circle cx="187.3" cy="253.3" r="3.5"/><circle cx="217" cy="252" r="3.5"/><circle cx="162.3" cy="252.1" r="3.5"/><circle cx="154.3" cy="253" r="3.5"/><circle cx="182.5" cy="253.3" r="3.5"/><circle cx="180.5" cy="251.7" r="3.5"/><circle cx="164.7" cy="251.5" r="3.5"/><circle cx="164.9" cy="252.9" r="3.5"/><circle cx="211.6" cy="251.1" r="3.5"/><circle cx="172.5" cy="252.6" r="3.5"/><circle cx="154.6" cy="252.3" r="3.5"/><circle cx="151.6" cy="253.3" r="3.5"/><circle cx="197.9" cy="255.3" r="3.5"/><circle cx="185.9" cy="253.2" r="3.5"/><circle cx="167.8" cy="253.2" r="3.5"/><circle cx="173.7" cy="253" r="3.5"/><circle cx="174.1" cy="253.7" r="3.5"/><circle cx="152.1" cy="252.9" r="3.5"/><circle cx="165.6" cy="253.7" r="3.5"/><circle cx="155" cy="252.7" r="3.5"/><circle cx="178.8" cy="253.1" r="3.5"/><circle cx="183.4" cy="253.6" r="3.5"/><circle cx="175.1" cy="253" r="3.5"/><circle cx="195.6" cy="252.2" r="3.5"/><circle cx="180.7" cy="253.3" r="3.5"/><circle cx="151.7" cy="251.2" r="3.5"/><circle cx="155.8" cy="253.4" r="3.5"/><circle cx="148.2" cy="252.3" r="3.5"/><circle cx="148.9" cy="251.8" r="3.5"/><circle cx="167.2" cy="251.6" r="3.5"/><circle cx="173.8" cy="252.7" r="3.5"/><circle cx="173.4" cy="253.2" r="3.5"/><circle cx="176.9" cy="252.2" r="3.5"/><circle cx="191.3" cy="254.9" r="3.5"/><circle cx="165.7" cy="251" r="3.5"/><circle cx="172.3" cy="254.5" r="3.5"/><circle cx="190.3" cy="254.2" r="3.5"/><circle cx="165.8" cy="253.6" r="3.5"/><circle cx="164.7" cy="252.2" r="3.5"/><circle cx="208.2" cy="254.1" r="3.5"/><circle cx="166.5" cy="250.5" r="3.5"/><circle cx="144.8" cy="252.6" r="3.5"/><circle cx="170.2" cy="252.4" r="3.5"/><circle cx="155" cy="252.5" r="3.5"/><circle cx="204.5" cy="253.7" r="3.5"/><circle cx="147.9" cy="253" r="3.5"/><circle cx="157.9" cy="254.2" r="3.5"/><circle cx="178.3" cy="253.1" r="3.5"/><circle cx="174.5" cy="253.5" r="3.5"/><circle cx="176" cy="252.3" r="3.5"/><circle cx="187.8" cy="253.6" r="3.5"/><circle cx="163.8" cy="252.9" r="3.5"/><circle cx="179.3" cy="251.8" r="3.5"/><circle cx="177.4" cy="253.5" r="3.5"/><circle cx="180" cy="252.3" r="3.5"/><circle cx="186.3" cy="254.9" r="3.5"/><circle cx="181.3" cy="252" r="3.5"/><circle cx="172.8" cy="253.3" r="3.5"/><circle cx="180" cy="254" r="3.5"/><circle cx="168.9" cy="254.2" r="3.5"/><circle cx="183" cy="255.8" r="3.5"/><circle cx="201.7" cy="253.4" r="3.5"/><circle cx="175.9" cy="253.8" r="3.5"/><circle cx="159.6" cy="252.8" r="3.5"/><circle cx="198.3" cy="251.4" r="3.5"/><circle cx="175.1" cy="251.9" r="3.5"/><circle cx="174.1" cy="251" r="3.5"/><circle cx="169.2" cy="250.9" r="3.5"/><circle cx="179.6" cy="254.3" r="3.5"/><circle cx="169.4" cy="253.4" r="3.5"/><circle cx="157.1" cy="253.3" r="3.5"/><circle cx="168.7" cy="254.8" r="3.5"/><circle cx="195.6" cy="252.6" r="3.5"/><circle cx="186.5" cy="254.4" r="3.5"/><circle cx="180.8" cy="254" r="3.5"/><circle cx="172" cy="253.6" r="3.5"/><circle cx="186.9" cy="254.3" r="3.5"/><circle cx="184" cy="254.2" r="3.5"/><circle cx="147.8" cy="252.9" r="3.5"/><circle cx="164.1" cy="252.8" r="3.5"/><circle cx="175.2" cy="254.5" r="3.5"/><circle cx="197.5" cy="252.6" r="3.5"/><circle cx="197.8" cy="254.1" r="3.5"/><circle cx="199.9" cy="254.8" r="3.5"/><circle cx="152" cy="255.1" r="3.5"/><circle cx="152.1" cy="253.9" r="3.5"/><circle cx="187.8" cy="253.1" r="3.5"/><circle cx="189.8" cy="253" r="3.5"/><circle cx="175.1" cy="253.7" r="3.5"/><circle cx="199.7" cy="252.7" r="3.5"/><circle cx="165.1" cy="253" r="3.5"/><circle cx="199.7" cy="252.5" r="3.5"/><circle cx="156.7" cy="255.1" r="3.5"/><circle cx="179.2" cy="254.1" r="3.5"/><circle cx="165.2" cy="254.5" r="3.5"/><circle cx="163.3" cy="254.3" r="3.5"/><circle cx="203.9" cy="253.6" r="3.5"/><circle cx="175.3" cy="254.2" r="3.5"/><circle cx="188.1" cy="253.6" r="3.5"/><circle cx="173.9" cy="254.8" r="3.5"/><circle cx="167.9" cy="256" r="3.5"/><circle cx="169.3" cy="253.7" r="3.5"/><circle cx="189.1" cy="254" r="3.5"/><circle cx="200.4" cy="254.9" r="3.5"/><circle cx="179.6" cy="252.9" r="3.5"/><circle cx="180.5" cy="253.6" r="3.5"/><circle cx="170.6" cy="254.4" r="3.5"/><circle cx="182.9" cy="254.8" r="3.5"/><circle cx="166.4" cy="254.7" r="3.5"/><circle cx="187.4" cy="253.2" r="3.5"/><circle cx="162" cy="254" r="3.5"/><circle cx="158.5" cy="253.5" r="3.5"/><circle cx="181.8" cy="254.7" r="3.5"/><circle cx="171" cy="254.6" r="3.5"/><circle cx="181.4" cy="254.3" r="3.5"/><circle cx="181.8" cy="254.6" r="3.5"/><circle cx="189.8" cy="253.9" r="3.5"/><circle cx="183.9" cy="255.8" r="3.5"/><circle cx="159.3" cy="252.9" r="3.5"/><circle cx="182.8" cy="254.6" r="3.5"/><circle cx="195.9" cy="255.1" r="3.5"/><circle cx="192" cy="252.5" r="3.5"/><circle cx="167.6" cy="253.5" r="3.5"/><circle cx="188.3" cy="253.5" r="3.5"/><circle cx="176.2" cy="252.7" r="3.5"/><circle cx="186.6" cy="253.9" r="3.5"/><circle cx="189.5" cy="253.7" r="3.5"/><circle cx="185.9" cy="255" r="3.5"/><circle cx="181.3" cy="254.3" r="3.5"/><circle cx="171" cy="253.2" r="3.5"/><circle cx="192.3" cy="255.2" r="3.5"/><circle cx="155" cy="255.1" r="3.5"/><circle cx="182.6" cy="253.6" r="3.5"/><circle cx="168.6" cy="253.3" r="3.5"/><circle cx="200.6" cy="253.7" r="3.5"/><circle cx="165.2" cy="255.2" r="3.5"/><circle cx="177.4" cy="254.2" r="3.5"/><circle cx="199" cy="255.8" r="3.5"/><circle cx="168.7" cy="252.8" r="3.5"/><circle cx="160.8" cy="253.2" r="3.5"/><circle cx="202.9" cy="253.3" r="3.5"/><circle cx="184.4" cy="253.8" r="3.5"/><circle cx="166.2" cy="253.7" r="3.5"/><circle cx="150.6" cy="254.6" r="3.5"/><circle cx="157.4" cy="254.5" r="3.5"/><circle cx="172.7" cy="254.5" r="3.5"/><circle cx="174.5" cy="254.6" r="3.5"/><circle cx="197.4" cy="254.6" r="3.5"/><circle cx="195.1" cy="253.5" r="3.5"/><circle cx="178.5" cy="253.4" r="3.5"/><circle cx="178.4" cy="255.7" r="3.5"/><circle cx="167.5" cy="253.9" r="3.5"/><circle cx="163.4" cy="254.1" r="3.5"/><circle cx="165.5" cy="254.5" r="3.5"/><circle cx="218.2" cy="253.9" r="3.5"/><circle cx="181.8" cy="252.4" r="3.5"/><circle cx="208" cy="256.2" r="3.5"/><circle cx="159.6" cy="254.8" r="3.5"/><circle cx="179.1" cy="255.2" r="3.5"/><circle cx="156.6" cy="251.8" r="3.5"/><circle cx="164" cy="254.7" r="3.5"/><circle cx="188.8" cy="253.8" r="3.5"/><circle cx="171.2" cy="255.5" r="3.5"/><circle cx="166.2" cy="253.5" r="3.5"/><circle cx="172.4" cy="254.6" r="3.5"/><circle cx="188.3" cy="253.7" r="3.5"/><circle cx="164.8" cy="254.4" r="3.5"/><circle cx="172.7" cy="254.7" r="3.5"/><circle cx="167.1" cy="255.2" r="3.5"/><circle cx="168.4" cy="253.9" r="3.5"/><circle cx="165.6" cy="254.8" r="3.5"/><circle cx="190.8" cy="255.3" r="3.5"/><circle cx="176.6" cy="250.7" r="3.5"/><circle cx="169.6" cy="255.9" r="3.5"/><circle cx="164.7" cy="254.1" r="3.5"/><circle cx="194.1" cy="255.7" r="3.5"/><circle cx="185.2" cy="255.8" r="3.5"/><circle cx="170.1" cy="255.5" r="3.5"/><circle cx="160.2" cy="254.4" r="3.5"/><circle cx="178" cy="255.6" r="3.5"/><circle cx="193.7" cy="253.5" r="3.5"/><circle cx="172.9" cy="254.5" r="3.5"/><circle cx="155.7" cy="254.4" r="3.5"/><circle cx="151.2" cy="254.4" r="3.5"/><circle cx="203.2" cy="254.6" r="3.5"/><circle cx="192.8" cy="255.2" r="3.5"/><circle cx="184.5" cy="256.7" r="3.5"/><circle cx="208.5" cy="255.6" r="3.5"/><circle cx="155.1" cy="255" r="3.5"/><circle cx="195.1" cy="253.8" r="3.5"/><circle cx="194.1" cy="256.3" r="3.5"/><circle cx="192.2" cy="253.6" r="3.5"/><circle cx="166.5" cy="256.3" r="3.5"/><circle cx="168.1" cy="254.6" r="3.5"/><circle cx="183.9" cy="255" r="3.5"/><circle cx="163.5" cy="256.2" r="3.5"/><circle cx="154.9" cy="255.1" r="3.5"/><circle cx="162.1" cy="256" r="3.5"/><circle cx="205.8" cy="254.5" r="3.5"/><circle cx="184.6" cy="255.9" r="3.5"/><circle cx="193.7" cy="254.1" r="3.5"/><circle cx="175.9" cy="256.3" r="3.5"/><circle cx="155.8" cy="255.4" r="3.5"/><circle cx="205.6" cy="256.3" r="3.5"/><circle cx="188.3" cy="256.1" r="3.5"/><circle cx="173.4" cy="255.9" r="3.5"/><circle cx="195.1" cy="255.9" r="3.5"/><circle cx="194.2" cy="255" r="3.5"/><circle cx="197.8" cy="253.9" r="3.5"/><circle cx="187" cy="254.4" r="3.5"/><circle cx="207.1" cy="255.2" r="3.5"/><circle cx="179.4" cy="256.5" r="3.5"/><circle cx="168.9" cy="255" r="3.5"/><circle cx="179.5" cy="254.2" r="3.5"/><circle cx="175.9" cy="255.5" r="3.5"/><circle cx="196.5" cy="255.7" r="3.5"/><circle cx="151.6" cy="254.5" r="3.5"/><circle cx="160" cy="255.8" r="3.5"/><circle cx="184.4" cy="255.8" r="3.5"/><circle cx="166" cy="255.2" r="3.5"/><circle cx="157.2" cy="256.2" r="3.5"/><circle cx="194.4" cy="256.5" r="3.5"/><circle cx="165.3" cy="256.4" r="3.5"/><circle cx="175.9" cy="255.2" r="3.5"/><circle cx="194.9" cy="255.7" r="3.5"/><circle cx="200" cy="254.6" r="3.5"/><circle cx="176.3" cy="255.2" r="3.5"/><circle cx="219.5" cy="255.4" r="3.5"/><circle cx="162.9" cy="255.6" r="3.5"/><circle cx="206.3" cy="255.6" r="3.5"/><circle cx="177.8" cy="256.3" r="3.5"/><circle cx="194.2" cy="254.9" r="3.5"/><circle cx="187.8" cy="256" r="3.5"/><circle cx="177.2" cy="255.3" r="3.5"/><circle cx="192.4" cy="255.9" r="3.5"/><circle cx="201" cy="255.9" r="3.5"/><circle cx="159.4" cy="257.2" r="3.5"/><circle cx="187.9" cy="255.9" r="3.5"/><circle cx="152.8" cy="255.4" r="3.5"/><circle cx="201.6" cy="255.3" r="3.5"/><circle cx="179.9" cy="255.7" r="3.5"/><circle cx="179.2" cy="254.1" r="3.5"/><circle cx="163.3" cy="254.4" r="3.5"/><circle cx="213.4" cy="254.8" r="3.5"/><circle cx="188.8" cy="255" r="3.5"/><circle cx="203.2" cy="257" r="3.5"/><circle cx="214.5" cy="255.1" r="3.5"/><circle cx="154" cy="254.5" r="3.5"/><circle cx="172.9" cy="254.9" r="3.5"/><circle cx="181.1" cy="254.4" r="3.5"/><circle cx="160.3" cy="257.2" r="3.5"/><circle cx="187.6" cy="254.4" r="3.5"/><circle cx="199.7" cy="255.4" r="3.5"/><circle cx="175.2" cy="255.7" r="3.5"/><circle cx="184.6" cy="256.9" r="3.5"/><circle cx="187.9" cy="256.6" r="3.5"/><circle cx="166.2" cy="255.1" r="3.5"/><circle cx="162" cy="253.9" r="3.5"/><circle cx="182.9" cy="255.1" r="3.5"/><circle cx="165.8" cy="256.7" r="3.5"/><circle cx="199.5" cy="254.6" r="3.5"/><circle cx="158.3" cy="254.7" r="3.5"/><circle cx="180.8" cy="255.7" r="3.5"/><circle cx="199.8" cy="257.1" r="3.5"/><circle cx="159.9" cy="255.6" r="3.5"/><circle cx="160" cy="255.2" r="3.5"/><circle cx="181.7" cy="256.4" r="3.5"/><circle cx="191.3" cy="257.6" r="3.5"/><circle cx="168.3" cy="257.3" r="3.5"/><circle cx="192.1" cy="254.8" r="3.5"/><circle cx="197.9" cy="256.2" r="3.5"/><circle cx="175.6" cy="256.5" r="3.5"/><circle cx="190.8" cy="257.4" r="3.5"/><circle cx="191.9" cy="256.1" r="3.5"/><circle cx="204.6" cy="255.2" r="3.5"/><circle cx="161.4" cy="256.5" r="3.5"/><circle cx="179.2" cy="257" r="3.5"/><circle cx="191" cy="256.2" r="3.5"/><circle cx="167.9" cy="257" r="3.5"/><circle cx="168.1" cy="257.3" r="3.5"/><circle cx="196.4" cy="256.5" r="3.5"/><circle cx="204.1" cy="257.6" r="3.5"/><circle cx="186.2" cy="255" r="3.5"/><circle cx="186.7" cy="255.9" r="3.5"/><circle cx="185.2" cy="256.1" r="3.5"/><circle cx="177.4" cy="256.7" r="3.5"/><circle cx="187.8" cy="256.7" r="3.5"/><circle cx="155.2" cy="255.3" r="3.5"/><circle cx="176.3" cy="256.5" r="3.5"/><circle cx="205.9" cy="256.3" r="3.5"/><circle cx="192.3" cy="255.1" r="3.5"/><circle cx="180.7" cy="256.7" r="3.5"/><circle cx="196.2" cy="256.7" r="3.5"/><circle cx="194.6" cy="256.4" r="3.5"/><circle cx="176.6" cy="257" r="3.5"/><circle cx="195.4" cy="259" r="3.5"/><circle cx="162.3" cy="256.7" r="3.5"/><circle cx="173.9" cy="256.8" r="3.5"/><circle cx="199.6" cy="256.8" r="3.5"/><circle cx="161.2" cy="255.9" r="3.5"/><circle cx="177.6" cy="255.4" r="3.5"/><circle cx="177.4" cy="255.7" r="3.5"/><circle cx="171.5" cy="256.7" r="3.5"/><circle cx="165.9" cy="257.3" r="3.5"/><circle cx="175.2" cy="257.2" r="3.5"/><circle cx="182.6" cy="256.2" r="3.5"/><circle cx="183.2" cy="257.7" r="3.5"/><circle cx="160.1" cy="257.1" r="3.5"/><circle cx="182.9" cy="256.9" r="3.5"/><circle cx="219.7" cy="254" r="3.5"/><circle cx="155.5" cy="256" r="3.5"/><circle cx="201.5" cy="257.9" r="3.5"/><circle cx="186.7" cy="256.7" r="3.5"/><circle cx="182" cy="257.5" r="3.5"/><circle cx="190.1" cy="257.2" r="3.5"/><circle cx="164.4" cy="257.2" r="3.5"/><circle cx="162.7" cy="256.5" r="3.5"/><circle cx="198.9" cy="257.9" r="3.5"/><circle cx="182.4" cy="255.3" r="3.5"/><circle cx="189.5" cy="255.4" r="3.5"/><circle cx="172.7" cy="255.3" r="3.5"/><circle cx="165.3" cy="255.7" r="3.5"/><circle cx="191.1" cy="257.2" r="3.5"/><circle cx="164.1" cy="258.3" r="3.5"/><circle cx="172.8" cy="258.3" r="3.5"/><circle cx="206.9" cy="255.5" r="3.5"/><circle cx="157" cy="256.6" r="3.5"/><circle cx="160" cy="256.5" r="3.5"/><circle cx="170.3" cy="257.4" r="3.5"/><circle cx="165.6" cy="256.2" r="3.5"/><circle cx="188.8" cy="257.9" r="3.5"/><circle cx="161.7" cy="255.7" r="3.5"/><circle cx="195" cy="254.2" r="3.5"/><circle cx="183" cy="256" r="3.5"/><circle cx="185.6" cy="257.1" r="3.5"/><circle cx="209.9" cy="256.4" r="3.5"/><circle cx="187.9" cy="257" r="3.5"/><circle cx="175.1" cy="256.1" r="3.5"/><circle cx="182.1" cy="257.9" r="3.5"/><circle cx="171.7" cy="257.4" r="3.5"/><circle cx="172.3" cy="258.5" r="3.5"/><circle cx="181.2" cy="257.4" r="3.5"/><circle cx="195.5" cy="256.6" r="3.5"/><circle cx="178.5" cy="255.9" r="3.5"/><circle cx="185.2" cy="254.6" r="3.5"/><circle cx="185.8" cy="255.4" r="3.5"/><circle cx="164.7" cy="254.9" r="3.5"/><circle cx="178.2" cy="257.9" r="3.5"/><circle cx="165.7" cy="255.7" r="3.5"/><circle cx="183.2" cy="259" r="3.5"/><circle cx="193.7" cy="259.4" r="3.5"/><circle cx="186.2" cy="257.6" r="3.5"/><circle cx="161.5" cy="256.7" r="3.5"/><circle cx="194" cy="256" r="3.5"/><circle cx="208" cy="258.6" r="3.5"/><circle cx="190.8" cy="255.9" r="3.5"/><circle cx="158.1" cy="257" r="3.5"/><circle cx="179.5" cy="259.4" r="3.5"/><circle cx="163.3" cy="257" r="3.5"/><circle cx="181.1" cy="256.6" r="3.5"/><circle cx="182.1" cy="258.9" r="3.5"/><circle cx="189.3" cy="258.8" r="3.5"/><circle cx="172" cy="257.8" r="3.5"/><circle cx="165.8" cy="258.9" r="3.5"/><circle cx="204.5" cy="257" r="3.5"/><circle cx="199.4" cy="257.8" r="3.5"/><circle cx="187.7" cy="255.6" r="3.5"/><circle cx="183.4" cy="257.7" r="3.5"/><circle cx="164.6" cy="257.7" r="3.5"/><circle cx="183.1" cy="256.8" r="3.5"/><circle cx="196.1" cy="257.5" r="3.5"/><circle cx="173.5" cy="257.9" r="3.5"/><circle cx="159.8" cy="257.5" r="3.5"/><circle cx="186.6" cy="258.7" r="3.5"/><circle cx="165.9" cy="258.6" r="3.5"/><circle cx="159.5" cy="256" r="3.5"/><circle cx="171.5" cy="256.5" r="3.5"/><circle cx="190.8" cy="260.2" r="3.5"/><circle cx="171.8" cy="256.8" r="3.5"/><circle cx="161.4" cy="256.5" r="3.5"/><circle cx="171.8" cy="258.5" r="3.5"/><circle cx="184.5" cy="256.2" r="3.5"/><circle cx="183.4" cy="257.3" r="3.5"/><circle cx="167.4" cy="257.2" r="3.5"/><circle cx="193.2" cy="256.4" r="3.5"/><circle cx="175.8" cy="257.6" r="3.5"/><circle cx="189" cy="258.9" r="3.5"/><circle cx="194.1" cy="258.1" r="3.5"/><circle cx="170.7" cy="258.5" r="3.5"/><circle cx="204.6" cy="259.1" r="3.5"/><circle cx="179.5" cy="257.4" r="3.5"/><circle cx="186.4" cy="259.5" r="3.5"/><circle cx="166.5" cy="258.2" r="3.5"/><circle cx="164.1" cy="258.7" r="3.5"/><circle cx="196.2" cy="257.4" r="3.5"/><circle cx="164.7" cy="259.2" r="3.5"/><circle cx="170.8" cy="259.5" r="3.5"/><circle cx="189.1" cy="257" r="3.5"/><circle cx="170" cy="258.5" r="3.5"/><circle cx="163.7" cy="256.7" r="3.5"/><circle cx="186.5" cy="257.7" r="3.5"/><circle cx="170.1" cy="256.6" r="3.5"/><circle cx="196" cy="256.4" r="3.5"/><circle cx="186.3" cy="258" r="3.5"/><circle cx="179.8" cy="257.5" r="3.5"/><circle cx="181.7" cy="257" r="3.5"/><circle cx="179.6" cy="257.2" r="3.5"/><circle cx="165.1" cy="258.9" r="3.5"/><circle cx="184.7" cy="258.4" r="3.5"/><circle cx="188.4" cy="258.3" r="3.5"/><circle cx="171.2" cy="256.8" r="3.5"/><circle cx="177.6" cy="258.6" r="3.5"/><circle cx="198.1" cy="258.2" r="3.5"/><circle cx="178.1" cy="258.9" r="3.5"/><circle cx="198.7" cy="258.7" r="3.5"/><circle cx="196.3" cy="259.6" r="3.5"/><circle cx="169.2" cy="259" r="3.5"/><circle cx="183.7" cy="259.4" r="3.5"/><circle cx="172.5" cy="257.6" r="3.5"/><circle cx="192.5" cy="258.1" r="3.5"/><circle cx="194.2" cy="259.6" r="3.5"/><circle cx="166.2" cy="259.2" r="3.5"/><circle cx="195.1" cy="257.5" r="3.5"/><circle cx="171.2" cy="259.1" r="3.5"/><circle cx="169.2" cy="257.2" r="3.5"/><circle cx="174.4" cy="258.8" r="3.5"/><circle cx="183.3" cy="260.8" r="3.5"/><circle cx="171.9" cy="258.5" r="3.5"/><circle cx="201.3" cy="257.7" r="3.5"/><circle cx="181.9" cy="259.7" r="3.5"/><circle cx="193.1" cy="259" r="3.5"/><circle cx="198" cy="258.6" r="3.5"/><circle cx="191" cy="257.5" r="3.5"/><circle cx="199.1" cy="257.5" r="3.5"/><circle cx="177.2" cy="258" r="3.5"/><circle cx="177.8" cy="259.4" r="3.5"/><circle cx="175.2" cy="257.9" r="3.5"/><circle cx="175.6" cy="257.6" r="3.5"/><circle cx="188.1" cy="257.6" r="3.5"/><circle cx="188.7" cy="257.7" r="3.5"/><circle cx="202.7" cy="258" r="3.5"/><circle cx="187.2" cy="259.3" r="3.5"/><circle cx="191.7" cy="258.1" r="3.5"/><circle cx="195" cy="257.8" r="3.5"/><circle cx="198.5" cy="259.4" r="3.5"/><circle cx="196" cy="259.7" r="3.5"/><circle cx="165.9" cy="257.6" r="3.5"/><circle cx="180.3" cy="257.3" r="3.5"/><circle cx="177.2" cy="258.8" r="3.5"/><circle cx="196.2" cy="258.9" r="3.5"/><circle cx="185" cy="259" r="3.5"/><circle cx="166.5" cy="257.9" r="3.5"/><circle cx="196.9" cy="259.2" r="3.5"/><circle cx="186.3" cy="257.6" r="3.5"/><circle cx="194.8" cy="259" r="3.5"/><circle cx="178.4" cy="256.1" r="3.5"/><circle cx="193.1" cy="258.7" r="3.5"/><circle cx="171.1" cy="256.7" r="3.5"/><circle cx="192.3" cy="258.2" r="3.5"/><circle cx="180.8" cy="258.8" r="3.5"/><circle cx="188.1" cy="260" r="3.5"/><circle cx="158.1" cy="257" r="3.5"/><circle cx="166.4" cy="256.6" r="3.5"/><circle cx="175.1" cy="259.2" r="3.5"/><circle cx="160.5" cy="257.8" r="3.5"/><circle cx="185.6" cy="259.5" r="3.5"/><circle cx="194.5" cy="259.5" r="3.5"/><circle cx="162.2" cy="257.5" r="3.5"/><circle cx="174.3" cy="259.5" r="3.5"/><circle cx="172.2" cy="258.1" r="3.5"/><circle cx="163.2" cy="258.6" r="3.5"/><circle cx="186.6" cy="259.5" r="3.5"/><circle cx="195.1" cy="259.4" r="3.5"/><circle cx="184" cy="258.6" r="3.5"/><circle cx="177.2" cy="259.1" r="3.5"/><circle cx="201.8" cy="259.2" r="3.5"/><circle cx="181.9" cy="257.9" r="3.5"/><circle cx="199.3" cy="258.1" r="3.5"/><circle cx="182.4" cy="257.8" r="3.5"/><circle cx="173.5" cy="259.9" r="3.5"/><circle cx="184.4" cy="258.7" r="3.5"/><circle cx="192.9" cy="260.1" r="3.5"/><circle cx="171.3" cy="256.9" r="3.5"/><circle cx="173" cy="259.2" r="3.5"/><circle cx="179.1" cy="259.6" r="3.5"/><circle cx="180.8" cy="259" r="3.5"/><circle cx="189.2" cy="258.4" r="3.5"/><circle cx="179.6" cy="258.8" r="3.5"/><circle cx="192.5" cy="258.7" r="3.5"/><circle cx="182.5" cy="258.4" r="3.5"/><circle cx="182.6" cy="259" r="3.5"/><circle cx="177.4" cy="259" r="3.5"/><circle cx="164.9" cy="259.3" r="3.5"/><circle cx="165.1" cy="258.4" r="3.5"/><circle cx="186.6" cy="259.6" r="3.5"/><circle cx="164.7" cy="257.9" r="3.5"/><circle cx="181.4" cy="258.6" r="3.5"/><circle cx="168.8" cy="259.4" r="3.5"/><circle cx="175.1" cy="259.2" r="3.5"/><circle cx="201.8" cy="259" r="3.5"/><circle cx="192.5" cy="259" r="3.5"/><circle cx="169.4" cy="258.9" r="3.5"/><circle cx="193.5" cy="257.8" r="3.5"/><circle cx="176.4" cy="259.7" r="3.5"/><circle cx="184.1" cy="259.9" r="3.5"/><circle cx="177.8" cy="260.2" r="3.5"/><circle cx="176" cy="259.4" r="3.5"/><circle cx="177.3" cy="259.3" r="3.5"/><circle cx="184.4" cy="260.7" r="3.5"/><circle cx="195.1" cy="260" r="3.5"/><circle cx="169.9" cy="259.5" r="3.5"/><circle cx="186.5" cy="260.4" r="3.5"/><circle cx="168.7" cy="259.8" r="3.5"/><circle cx="192.5" cy="257.6" r="3.5"/><circle cx="172.3" cy="259" r="3.5"/><circle cx="193.3" cy="259.9" r="3.5"/><circle cx="161" cy="258.1" r="3.5"/><circle cx="189.5" cy="258.7" r="3.5"/><circle cx="188.9" cy="259.6" r="3.5"/><circle cx="187.6" cy="260.3" r="3.5"/><circle cx="186.1" cy="260.6" r="3.5"/><circle cx="172.2" cy="258.8" r="3.5"/><circle cx="167.9" cy="259" r="3.5"/><circle cx="183.1" cy="260.2" r="3.5"/><circle cx="185.1" cy="260.2" r="3.5"/><circle cx="191.2" cy="258" r="3.5"/><circle cx="173" cy="260.4" r="3.5"/><circle cx="198.3" cy="259.9" r="3.5"/><circle cx="185" cy="260.7" r="3.5"/><circle cx="170.3" cy="259.9" r="3.5"/><circle cx="201.2" cy="258.5" r="3.5"/><circle cx="186.3" cy="258.6" r="3.5"/><circle cx="168.6" cy="258.9" r="3.5"/><circle cx="178.9" cy="259.8" r="3.5"/><circle cx="184.3" cy="260" r="3.5"/><circle cx="192.8" cy="258.9" r="3.5"/><circle cx="175.4" cy="259.2" r="3.5"/><circle cx="169.1" cy="258.5" r="3.5"/><circle cx="182.5" cy="259.9" r="3.5"/><circle cx="178.5" cy="258.1" r="3.5"/><circle cx="178.6" cy="260" r="3.5"/><circle cx="199.2" cy="258.4" r="3.5"/><circle cx="197.6" cy="259.7" r="3.5"/><circle cx="174.8" cy="260.6" r="3.5"/><circle cx="194.2" cy="258.7" r="3.5"/><circle cx="200.6" cy="259.6" r="3.5"/><circle cx="182.9" cy="260.1" r="3.5"/><circle cx="173.7" cy="259.3" r="3.5"/><circle cx="170" cy="259.4" r="3.5"/><circle cx="180.9" cy="259.7" r="3.5"/><circle cx="171.4" cy="260" r="3.5"/><circle cx="176.4" cy="260.7" r="3.5"/><circle cx="192.5" cy="259.3" r="3.5"/><circle cx="175" cy="259.3" r="3.5"/><circle cx="185.5" cy="260.3" r="3.5"/><circle cx="167.3" cy="258.8" r="3.5"/><circle cx="175.9" cy="259.4" r="3.5"/><circle cx="193.8" cy="260.4" r="3.5"/><circle cx="188.2" cy="259.4" r="3.5"/><circle cx="174.4" cy="260.5" r="3.5"/><circle cx="176.8" cy="260.8" r="3.5"/><circle cx="180.8" cy="260" r="3.5"/><circle cx="184.4" cy="260.4" r="3.5"/><circle cx="177.3" cy="260.2" r="3.5"/><circle cx="181.9" cy="258.8" r="3.5"/><circle cx="193.2" cy="260.5" r="3.5"/><circle cx="183.4" cy="259.1" r="3.5"/><circle cx="177.7" cy="259.2" r="3.5"/><circle cx="177.3" cy="260.4" r="3.5"/><circle cx="190.7" cy="259.9" r="3.5"/><circle cx="175.1" cy="260.2" r="3.5"/><circle cx="185.3" cy="259.5" r="3.5"/><circle cx="177.2" cy="259.3" r="3.5"/><circle cx="169.3" cy="259.7" r="3.5"/><circle cx="195.1" cy="260.3" r="3.5"/><circle cx="176.9" cy="260.3" r="3.5"/><circle cx="194.8" cy="258.8" r="3.5"/><circle cx="187.3" cy="260.2" r="3.5"/><circle cx="186.6" cy="259.4" r="3.5"/><circle cx="175.4" cy="260.7" r="3.5"/><circle cx="187.9" cy="258.9" r="3.5"/><circle cx="186.3" cy="260.1" r="3.5"/><circle cx="186.8" cy="259.9" r="3.5"/><circle cx="176.5" cy="260.5" r="3.5"/><circle cx="188.1" cy="260.4" r="3.5"/><circle cx="174" cy="260.3" r="3.5"/><circle cx="191.1" cy="260.1" r="3.5"/></g><g fill="#000"><circle cx="171.1" cy="251.8" r="4.1"/><circle cx="179.2" cy="250.7" r="4.1"/><circle cx="167.9" cy="251.7" r="4.1"/><circle cx="163.6" cy="250.3" r="4.1"/><circle cx="164.3" cy="252.5" r="4.1"/><circle cx="205.8" cy="244.6" r="4.1"/><circle cx="166.1" cy="244.6" r="4.1"/><circle cx="169.8" cy="250.7" r="4.1"/><circle cx="194.2" cy="245.3" r="4.1"/><circle cx="163.7" cy="250.4" r="4.1"/><circle cx="203.4" cy="251.5" r="4.1"/><circle cx="203.2" cy="247.6" r="4.1"/><circle cx="190" cy="257.2" r="4.1"/><circle cx="173" cy="246.8" r="4.1"/><circle cx="193.9" cy="252.2" r="4.1"/><circle cx="186.9" cy="251.5" r="4.1"/><circle cx="185.3" cy="255.4" r="4.1"/><circle cx="198.2" cy="248.7" r="4.1"/><circle cx="205.8" cy="250.1" r="4.1"/><circle cx="202.5" cy="244.6" r="4.1"/><circle cx="193.1" cy="248.6" r="4.1"/><circle cx="174.9" cy="255.9" r="4.1"/><circle cx="198.3" cy="245.8" r="4.1"/><circle cx="190.3" cy="255.5" r="4.1"/><circle cx="165.3" cy="244.9" r="4.1"/><circle cx="199.4" cy="246.7" r="4.1"/><circle cx="193.8" cy="247.2" r="4.1"/><circle cx="161.6" cy="245" r="4.1"/><circle cx="174.8" cy="249" r="4.1"/><circle cx="165.6" cy="250.4" r="4.1"/><circle cx="195.1" cy="248.9" r="4.1"/><circle cx="184.3" cy="253.6" r="4.1"/><circle cx="166.5" cy="247.2" r="4.1"/><circle cx="197.5" cy="246.1" r="4.1"/><circle cx="175.8" cy="248.4" r="4.1"/><circle cx="180.3" cy="254.3" r="4.1"/><circle cx="167.8" cy="252.4" r="4.1"/><circle cx="176.2" cy="255.3" r="4.1"/><circle cx="197.2" cy="247.6" r="4.1"/><circle cx="199.7" cy="253.3" r="4.1"/><circle cx="176.4" cy="255.7" r="4.1"/><circle cx="161.3" cy="245.3" r="4.1"/><circle cx="195.6" cy="252.2" r="4.1"/><circle cx="167.7" cy="245.5" r="4.1"/><circle cx="179.2" cy="252.2" r="4.1"/><circle cx="197.9" cy="252.2" r="4.1"/><circle cx="198.4" cy="248.8" r="4.1"/><circle cx="160.3" cy="244.5" r="4.1"/><circle cx="179.1" cy="256.8" r="4.1"/><circle cx="203.4" cy="249.8" r="4.1"/><circle cx="186.4" cy="249.1" r="4.1"/><circle cx="171.1" cy="249.2" r="4.1"/><circle cx="190.7" cy="256.4" r="4.1"/><circle cx="205.5" cy="245.6" r="4.1"/><circle cx="177.4" cy="246.5" r="4.1"/><circle cx="184" cy="246.8" r="4.1"/><circle cx="208.1" cy="247.2" r="4.1"/><circle cx="204.4" cy="249.9" r="4.1"/><circle cx="193.5" cy="255" r="4.1"/><circle cx="180.8" cy="255.5" r="4.1"/><circle cx="193" cy="248.7" r="4.1"/><circle cx="171.5" cy="252.7" r="4.1"/><circle cx="173.5" cy="248" r="4.1"/><circle cx="206.1" cy="247.1" r="4.1"/><circle cx="196.6" cy="253.8" r="4.1"/><circle cx="158.2" cy="246.5" r="4.1"/><circle cx="162.7" cy="251" r="4.1"/><circle cx="182.6" cy="244.7" r="4.1"/><circle cx="200" cy="251.6" r="4.1"/><circle cx="195.4" cy="255.1" r="4.1"/><circle cx="189.7" cy="249.1" r="4.1"/><circle cx="161.8" cy="247" r="4.1"/><circle cx="179.7" cy="256.9" r="4.1"/><circle cx="202.4" cy="248.4" r="4.1"/><circle cx="172.6" cy="256.6" r="4.1"/><circle cx="168.7" cy="251.3" r="4.1"/><circle cx="196.3" cy="252.9" r="4.1"/><circle cx="174.2" cy="248.3" r="4.1"/><circle cx="185.5" cy="245.8" r="4.1"/><circle cx="189" cy="252.1" r="4.1"/><circle cx="203" cy="249.7" r="4.1"/><circle cx="172.5" cy="250.4" r="4.1"/><circle cx="169.1" cy="252.3" r="4.1"/><circle cx="165.4" cy="249.1" r="4.1"/><circle cx="176.4" cy="251" r="4.1"/><circle cx="175.3" cy="249.1" r="4.1"/><circle cx="199.7" cy="254.2" r="4.1"/><circle cx="186.1" cy="248" r="4.1"/><circle cx="187.2" cy="246.2" r="4.1"/><circle cx="195.8" cy="254.4" r="4.1"/><circle cx="184.4" cy="246.1" r="4.1"/><circle cx="194.6" cy="245.9" r="4.1"/><circle cx="188.4" cy="255.7" r="4.1"/><circle cx="198.2" cy="245.6" r="4.1"/><circle cx="192.8" cy="251.9" r="4.1"/><circle cx="195" cy="249.9" r="4.1"/><circle cx="194.1" cy="249.5" r="4.1"/><circle cx="200.7" cy="246.4" r="4.1"/><circle cx="192.6" cy="249.8" r="4.1"/><circle cx="177.7" cy="245.4" r="4.1"/><circle cx="171.6" cy="247.5" r="4.1"/><circle cx="195" cy="248.7" r="4.1"/><circle cx="202.4" cy="252.6" r="4.1"/><circle cx="198.3" cy="251.5" r="4.1"/><circle cx="194.3" cy="251" r="4.1"/><circle cx="189.6" cy="248.6" r="4.1"/><circle cx="165.7" cy="252.6" r="4.1"/><circle cx="189.2" cy="252.7" r="4.1"/><circle cx="200.5" cy="250.2" r="4.1"/><circle cx="170.1" cy="252.6" r="4.1"/><circle cx="168.2" cy="253.3" r="4.1"/><circle cx="167" cy="245.4" r="4.1"/><circle cx="188.9" cy="247.9" r="4.1"/><circle cx="177.5" cy="254.7" r="4.1"/><circle cx="197.5" cy="250.6" r="4.1"/><circle cx="186.5" cy="247.9" r="4.1"/><circle cx="193.1" cy="252.2" r="4.1"/><circle cx="187.6" cy="248.5" r="4.1"/><circle cx="164.9" cy="250.4" r="4.1"/><circle cx="172.5" cy="247.9" r="4.1"/><circle cx="184.9" cy="246.9" r="4.1"/><circle cx="177.5" cy="252.9" r="4.1"/><circle cx="193.4" cy="249.7" r="4.1"/><circle cx="175.7" cy="245.1" r="4.1"/><circle cx="172.1" cy="251.9" r="4.1"/><circle cx="182.5" cy="253.7" r="4.1"/><circle cx="197" cy="252.9" r="4.1"/><circle cx="199.4" cy="254.2" r="4.1"/><circle cx="190.3" cy="247.2" r="4.1"/><circle cx="189.7" cy="257.2" r="4.1"/><circle cx="154.6" cy="244.5" r="4.1"/><circle cx="189.1" cy="251.6" r="4.1"/><circle cx="207.9" cy="245.5" r="4.1"/><circle cx="182" cy="246.4" r="4.1"/><circle cx="202" cy="249" r="4.1"/><circle cx="172.3" cy="257.3" r="4.1"/><circle cx="187.6" cy="250.8" r="4.1"/><circle cx="175" cy="250.4" r="4.1"/><circle cx="177.4" cy="257.6" r="4.1"/><circle cx="192.4" cy="254.4" r="4.1"/><circle cx="196.7" cy="251.8" r="4.1"/><circle cx="210.4" cy="244.8" r="4.1"/><circle cx="183.3" cy="255.6" r="4.1"/><circle cx="169.7" cy="255.3" r="4.1"/><circle cx="184.7" cy="249.7" r="4.1"/><circle cx="182.3" cy="245.6" r="4.1"/><circle cx="203.6" cy="248.2" r="4.1"/><circle cx="172.8" cy="249.8" r="4.1"/><circle cx="192.2" cy="245.2" r="4.1"/><circle cx="172" cy="257.1" r="4.1"/><circle cx="171.3" cy="249.9" r="4.1"/><circle cx="207.2" cy="248.2" r="4.1"/><circle cx="170.5" cy="245.2" r="4.1"/><circle cx="182.3" cy="249.5" r="4.1"/><circle cx="183.2" cy="253.4" r="4.1"/><circle cx="197.6" cy="248.1" r="4.1"/><circle cx="204.2" cy="248.1" r="4.1"/><circle cx="183" cy="254.3" r="4.1"/><circle cx="168.7" cy="252.4" r="4.1"/><circle cx="184.6" cy="255.7" r="4.1"/><circle cx="177.1" cy="246.1" r="4.1"/><circle cx="178.1" cy="250.2" r="4.1"/><circle cx="204" cy="246.4" r="4.1"/><circle cx="163.1" cy="246.6" r="4.1"/><circle cx="167.5" cy="251.9" r="4.1"/><circle cx="184.9" cy="245.4" r="4.1"/><circle cx="170.8" cy="254.7" r="4.1"/><circle cx="159.9" cy="245.8" r="4.1"/><circle cx="172.6" cy="249.1" r="4.1"/><circle cx="199.3" cy="249.3" r="4.1"/><circle cx="189.3" cy="255.6" r="4.1"/><circle cx="192.5" cy="252.1" r="4.1"/><circle cx="164.9" cy="246" r="4.1"/><circle cx="166.2" cy="245.5" r="4.1"/><circle cx="165.3" cy="248.3" r="4.1"/><circle cx="178.2" cy="257.9" r="4.1"/><circle cx="197.6" cy="251.8" r="4.1"/><circle cx="176.2" cy="250.4" r="4.1"/><circle cx="209.1" cy="246.2" r="4.1"/><circle cx="155.7" cy="245.3" r="4.1"/><circle cx="190.4" cy="251.1" r="4.1"/><circle cx="168.5" cy="251.5" r="4.1"/><circle cx="203.9" cy="248.6" r="4.1"/><circle cx="198.4" cy="248" r="4.1"/><circle cx="176.2" cy="255.5" r="4.1"/><circle cx="179.2" cy="250.4" r="4.1"/><circle cx="191.8" cy="256.1" r="4.1"/><circle cx="175.4" cy="248" r="4.1"/><circle cx="170.5" cy="255" r="4.1"/><circle cx="182.7" cy="257.5" r="4.1"/><circle cx="196.5" cy="254.3" r="4.1"/><circle cx="180.6" cy="257.2" r="4.1"/><circle cx="182.8" cy="256" r="4.1"/><circle cx="160.7" cy="248.9" r="4.1"/><circle cx="175" cy="256.9" r="4.1"/><circle cx="169.7" cy="255.1" r="4.1"/><circle cx="192.8" cy="253.2" r="4.1"/><circle cx="192.8" cy="246.9" r="4.1"/><circle cx="190.1" cy="245.7" r="4.1"/><circle cx="176.5" cy="252.3" r="4.1"/><circle cx="168.8" cy="248.7" r="4.1"/><circle cx="179.4" cy="254.5" r="4.1"/><circle cx="173" cy="250.2" r="4.1"/><circle cx="199.2" cy="249" r="4.1"/><circle cx="201.5" cy="247.6" r="4.1"/><circle cx="171.7" cy="247.3" r="4.1"/><circle cx="207.8" cy="247.7" r="4.1"/><circle cx="190.4" cy="245.7" r="4.1"/><circle cx="173.5" cy="245" r="4.1"/><circle cx="168.9" cy="247.4" r="4.1"/><circle cx="173.6" cy="245.8" r="4.1"/><circle cx="177.3" cy="252.2" r="4.1"/><circle cx="169.8" cy="246.8" r="4.1"/><circle cx="167.9" cy="249" r="4.1"/><circle cx="169.7" cy="252.1" r="4.1"/><circle cx="173.4" cy="245.6" r="4.1"/><circle cx="195.5" cy="255.6" r="4.1"/><circle cx="180" cy="252.8" r="4.1"/><circle cx="199.1" cy="254" r="4.1"/><circle cx="185.4" cy="256.1" r="4.1"/><circle cx="184.5" cy="245.9" r="4.1"/><circle cx="178.6" cy="253" r="4.1"/><circle cx="181.8" cy="248.2" r="4.1"/><circle cx="196" cy="246" r="4.1"/><circle cx="195.6" cy="248.2" r="4.1"/><circle cx="187.9" cy="253" r="4.1"/><circle cx="160.6" cy="248.2" r="4.1"/><circle cx="185.7" cy="247.2" r="4.1"/><circle cx="193.5" cy="250.5" r="4.1"/><circle cx="185.3" cy="254.7" r="4.1"/><circle cx="169.9" cy="247.3" r="4.1"/><circle cx="166.5" cy="250" r="4.1"/><circle cx="197.9" cy="253.9" r="4.1"/><circle cx="201" cy="250.5" r="4.1"/><circle cx="186.6" cy="249.9" r="4.1"/><circle cx="171.9" cy="246" r="4.1"/><circle cx="186.2" cy="257.2" r="4.1"/><circle cx="164.3" cy="251.1" r="4.1"/><circle cx="180" cy="255.5" r="4.1"/><circle cx="171.5" cy="250.5" r="4.1"/><circle cx="179.4" cy="254" r="4.1"/><circle cx="156.2" cy="246.1" r="4.1"/><circle cx="201.9" cy="246.4" r="4.1"/><circle cx="177.7" cy="256.6" r="4.1"/><circle cx="172.9" cy="246.6" r="4.1"/><circle cx="165.4" cy="250.7" r="4.1"/><circle cx="196.6" cy="248.3" r="4.1"/><circle cx="176.9" cy="254.9" r="4.1"/><circle cx="185.3" cy="251.9" r="4.1"/><circle cx="199.6" cy="245.1" r="4.1"/><circle cx="197" cy="251.3" r="4.1"/><circle cx="158.3" cy="246.3" r="4.1"/><circle cx="171.6" cy="253" r="4.1"/><circle cx="200.3" cy="245.1" r="4.1"/><circle cx="205.8" cy="248.5" r="4.1"/><circle cx="192.7" cy="251.8" r="4.1"/><circle cx="167.6" cy="245.6" r="4.1"/><circle cx="178.2" cy="256.1" r="4.1"/><circle cx="184.8" cy="254.8" r="4.1"/><circle cx="180.7" cy="255" r="4.1"/><circle cx="199.4" cy="254.2" r="4.1"/><circle cx="194.4" cy="254.5" r="4.1"/><circle cx="187" cy="248.2" r="4.1"/><circle cx="183.9" cy="248.4" r="4.1"/><circle cx="170.8" cy="252.7" r="4.1"/><circle cx="173" cy="251.2" r="4.1"/><circle cx="193.5" cy="245.2" r="4.1"/><circle cx="176.7" cy="257.4" r="4.1"/><circle cx="196.8" cy="254.6" r="4.1"/><circle cx="168.1" cy="248" r="4.1"/><circle cx="193.9" cy="254.7" r="4.1"/><circle cx="197" cy="254.1" r="4.1"/><circle cx="170.4" cy="246.4" r="4.1"/><circle cx="198.8" cy="252.7" r="4.1"/><circle cx="195.8" cy="253" r="4.1"/><circle cx="161.1" cy="246.6" r="4.1"/></g><g fill="#999999" stroke="#000" stroke-width="1.3"><circle cx="233.4" cy="240.6" r="3.5"/><circle cx="127.8" cy="241.4" r="3.5"/><circle cx="119.9" cy="243.9" r="3.5"/><circle cx="132.9" cy="245.3" r="3.5"/><circle cx="220.7" cy="245.3" r="3.5"/><circle cx="138.8" cy="246.6" r="3.5"/><circle cx="228.3" cy="247" r="3.5"/><circle cx="126.1" cy="247.8" r="3.5"/><circle cx="232.5" cy="248.3" r="3.5"/><circle cx="215.6" cy="249.5" r="3.5"/><circle cx="134.6" cy="251.7" r="3.5"/><circle cx="140.5" cy="255.1" r="3.5"/><circle cx="143.2" cy="255.7" r="3.5"/><circle cx="146.4" cy="256.3" r="3.5"/><circle cx="217" cy="257.5" r="3.5"/><circle cx="150.7" cy="258" r="3.5"/><circle cx="206.3" cy="258.8" r="3.5"/><circle cx="155.7" cy="259.7" r="3.5"/><circle cx="196.1" cy="260.5" r="3.5"/><circle cx="159.3" cy="260.8" r="3.5"/><circle cx="164.3" cy="262.1" r="3.5"/><circle cx="154" cy="262.4" r="3.5"/><circle cx="187.7" cy="262.5" r="3.5"/><circle cx="176" cy="263" r="3.5"/></g><g fill="#ff0000" stroke="#000" stroke-width="1.3"><circle cx="308.2" cy="102" r="3.5"/><circle cx="433.4" cy="102" r="3.5"/><circle cx="267.2" cy="111.8" r="3.5"/><circle cx="261.7" cy="113.3" r="3.5"/><circle cx="411.8" cy="115.5" r="3.5"/><circle cx="237.9" cy="122.3" r="3.5"/><circle cx="159.8" cy="125.6" r="3.5"/><circle cx="227.9" cy="129.7" r="3.5"/><circle cx="240" cy="129.7" r="3.5"/><circle cx="298.2" cy="130" r="3.5"/><circle cx="299.2" cy="130.2" r="3.5"/><circle cx="263.2" cy="132.5" r="3.5" fill="#000"/><circle cx="251" cy="133.2" r="3.5"/><circle cx="260.7" cy="133.2" r="3.5"/><circle cx="242" cy="133.7" r="3.5"/><circle cx="205.9" cy="134.4" r="3.5"/><circle cx="249.3" cy="135.5" r="3.5"/><circle cx="282.4" cy="135.9" r="3.5"/><circle cx="281.9" cy="136.1" r="3.5"/><circle cx="246" cy="136.9" r="3.5"/><circle cx="381.6" cy="137.1" r="3.5"/><circle cx="223.3" cy="137.6" r="3.5"/><circle cx="260.1" cy="138.6" r="3.5"/><circle cx="247" cy="138.8" r="3.5"/><circle cx="252" cy="142" r="3.5"/><circle cx="215.6" cy="142.8" r="3.5"/><circle cx="224.4" cy="143.8" r="3.5"/><circle cx="248.7" cy="146.5" r="3.5"/><circle cx="216.8" cy="146.8" r="3.5"/><circle cx="318" cy="147.3" r="3.5"/><circle cx="254" cy="149.6" r="3.5"/><circle cx="264.8" cy="150.2" r="3.5"/><circle cx="275.5" cy="151.9" r="3.5"/><circle cx="285.4" cy="152.2" r="3.5"/><circle cx="285.7" cy="152.6" r="3.5"/><circle cx="289" cy="152.6" r="3.5"/><circle cx="223.5" cy="152.6" r="3.5"/><circle cx="246.4" cy="153.2" r="3.5"/><circle cx="233.4" cy="153.4" r="3.5"/><circle cx="215.3" cy="153.6" r="3.5" fill="#000"/><circle cx="315.5" cy="153.8" r="3.5"/><circle cx="149.7" cy="154.1" r="3.5"/><circle cx="143.4" cy="154.6" r="3.5"/><circle cx="278.4" cy="155.2" r="3.5"/><circle cx="296.7" cy="155.5" r="3.5"/><circle cx="280" cy="155.5" r="3.5"/><circle cx="217.9" cy="155.9" r="3.5"/><circle cx="200.2" cy="157.5" r="3.5"/><circle cx="242.7" cy="160.1" r="3.5"/><circle cx="275.4" cy="160.7" r="3.5"/><circle cx="163.6" cy="160.9" r="3.5"/><circle cx="239.5" cy="162.4" r="3.5"/><circle cx="215" cy="162.6" r="3.5"/><circle cx="144.2" cy="162.6" r="3.5"/><circle cx="204" cy="163" r="3.5"/><circle cx="154.9" cy="163.6" r="3.5"/><circle cx="210.8" cy="164.1" r="3.5"/><circle cx="230.1" cy="164.8" r="3.5"/><circle cx="258.6" cy="164.9" r="3.5"/><circle cx="248.4" cy="165.1" r="3.5"/><circle cx="131.6" cy="165.1" r="3.5"/><circle cx="220.2" cy="165.3" r="3.5"/><circle cx="126.8" cy="165.4" r="3.5"/><circle cx="188.9" cy="165.6" r="3.5"/><circle cx="206.9" cy="167.2" r="3.5"/><circle cx="291.4" cy="168.1" r="3.5"/><circle cx="240.6" cy="168.6" r="3.5"/><circle cx="291.6" cy="168.7" r="3.5"/><circle cx="220.1" cy="170.6" r="3.5"/><circle cx="223.1" cy="172.2" r="3.5"/><circle cx="146.8" cy="172.4" r="3.5"/><circle cx="197.3" cy="174.1" r="3.5"/><circle cx="156.6" cy="174.1" r="3.5"/><circle cx="218.8" cy="175.9" r="3.5"/><circle cx="162.3" cy="176.6" r="3.5"/><circle cx="202.7" cy="177.3" r="3.5"/><circle cx="140.7" cy="177.7" r="3.5"/><circle cx="193.1" cy="177.8" r="3.5"/><circle cx="224.1" cy="178.6" r="3.5"/><circle cx="154.7" cy="178.9" r="3.5"/><circle cx="253.8" cy="179.5" r="3.5"/><circle cx="143.6" cy="179.5" r="3.5"/><circle cx="147.2" cy="180.1" r="3.5"/><circle cx="233.6" cy="180.1" r="3.5"/><circle cx="138" cy="180.4" r="3.5"/><circle cx="122.9" cy="180.8" r="3.5"/><circle cx="134.3" cy="180.8" r="3.5"/><circle cx="122.5" cy="180.9" r="3.5"/><circle cx="192.6" cy="182.7" r="3.5"/><circle cx="204.2" cy="182.9" r="3.5"/><circle cx="162.6" cy="183" r="3.5"/><circle cx="164.4" cy="183.8" r="3.5"/><circle cx="187.7" cy="184.1" r="3.5"/><circle cx="160.1" cy="184.2" r="3.5"/><circle cx="210.4" cy="184.3" r="3.5"/><circle cx="189.7" cy="184.3" r="3.5"/><circle cx="155.8" cy="184.4" r="3.5"/><circle cx="154.1" cy="184.4" r="3.5"/><circle cx="188.9" cy="185" r="3.5"/><circle cx="222" cy="185.8" r="3.5"/><circle cx="188.5" cy="186.1" r="3.5"/><circle cx="135.6" cy="186.1" r="3.5"/><circle cx="261.3" cy="186.4" r="3.5"/><circle cx="153.8" cy="186.6" r="3.5"/><circle cx="208" cy="186.7" r="3.5"/><circle cx="127.1" cy="186.9" r="3.5"/><circle cx="214.9" cy="186.9" r="3.5"/><circle cx="237.4" cy="187.1" r="3.5"/><circle cx="250.2" cy="187.5" r="3.5"/><circle cx="164.3" cy="187.7" r="3.5"/><circle cx="189.5" cy="187.9" r="3.5"/><circle cx="189.3" cy="188.8" r="3.5"/><circle cx="137.2" cy="189.3" r="3.5"/><circle cx="187.5" cy="189.4" r="3.5"/><circle cx="196" cy="189.6" r="3.5"/><circle cx="126.4" cy="189.6" r="3.5"/><circle cx="130.2" cy="190" r="3.5"/><circle cx="129.7" cy="190.1" r="3.5"/><circle cx="132.2" cy="190.5" r="3.5"/><circle cx="194" cy="190.6" r="3.5"/><circle cx="193.9" cy="190.7" r="3.5"/><circle cx="191" cy="190.9" r="3.5"/><circle cx="232.6" cy="191.3" r="3.5"/><circle cx="228.3" cy="191.7" r="3.5"/><circle cx="206.4" cy="191.8" r="3.5"/><circle cx="163.4" cy="191.8" r="3.5"/><circle cx="151.5" cy="192" r="3.5"/><circle cx="156.9" cy="192.2" r="3.5"/><circle cx="159.2" cy="192.2" r="3.5"/><circle cx="154.5" cy="192.4" r="3.5"/><circle cx="147.6" cy="192.4" r="3.5"/><circle cx="159.4" cy="192.5" r="3.5"/><circle cx="160.6" cy="192.5" r="3.5"/><circle cx="206.1" cy="192.8" r="3.5"/><circle cx="247.6" cy="193.2" r="3.5"/><circle cx="161.3" cy="193.5" r="3.5"/><circle cx="164.5" cy="193.5" r="3.5"/><circle cx="207.4" cy="193.5" r="3.5"/><circle cx="197.9" cy="193.8" r="3.5"/><circle cx="206.6" cy="194.1" r="3.5"/><circle cx="237.4" cy="194.2" r="3.5"/><circle cx="122.1" cy="194.4" r="3.5"/><circle cx="142.4" cy="194.6" r="3.5"/><circle cx="162.8" cy="194.7" r="3.5"/><circle cx="199.3" cy="194.7" r="3.5"/><circle cx="200.6" cy="194.8" r="3.5"/><circle cx="144.3" cy="194.9" r="3.5"/><circle cx="151.3" cy="195.2" r="3.5"/><circle cx="165.9" cy="195.2" r="3.5"/><circle cx="132.3" cy="195.6" r="3.5"/><circle cx="209.8" cy="195.7" r="3.5"/><circle cx="194.3" cy="196.5" r="3.5"/><circle cx="126" cy="196.5" r="3.5"/><circle cx="222" cy="196.7" r="3.5"/><circle cx="188.1" cy="196.7" r="3.5"/><circle cx="154" cy="196.7" r="3.5"/><circle cx="168.6" cy="196.7" r="3.5"/><circle cx="156.9" cy="196.7" r="3.5"/><circle cx="216" cy="196.8" r="3.5"/><circle cx="199.3" cy="196.8" r="3.5"/><circle cx="192.9" cy="197" r="3.5"/><circle cx="190.9" cy="197.1" r="3.5"/><circle cx="189.7" cy="197.1" r="3.5"/><circle cx="196.2" cy="197.2" r="3.5"/><circle cx="167.9" cy="197.4" r="3.5"/><circle cx="218.7" cy="197.6" r="3.5"/><circle cx="199.6" cy="197.7" r="3.5"/><circle cx="186.8" cy="197.8" r="3.5"/><circle cx="187.8" cy="197.9" r="3.5"/><circle cx="161.9" cy="198.3" r="3.5"/><circle cx="157.1" cy="198.3" r="3.5"/><circle cx="325.7" cy="198.3" r="3.5"/><circle cx="154.8" cy="198.4" r="3.5"/><circle cx="142.7" cy="198.4" r="3.5"/><circle cx="119.8" cy="198.5" r="3.5"/><circle cx="231.1" cy="198.5" r="3.5"/><circle cx="156.4" cy="198.7" r="3.5"/><circle cx="192.2" cy="198.8" r="3.5"/><circle cx="205.9" cy="198.8" r="3.5"/><circle cx="166.6" cy="198.9" r="3.5"/><circle cx="144.4" cy="199" r="3.5"/><circle cx="329" cy="199.1" r="3.5"/><circle cx="223.7" cy="199.1" r="3.5"/><circle cx="162.6" cy="199.2" r="3.5"/><circle cx="169" cy="199.2" r="3.5"/><circle cx="153.4" cy="199.3" r="3.5"/><circle cx="167.3" cy="199.3" r="3.5"/><circle cx="269.8" cy="199.4" r="3.5"/><circle cx="155.8" cy="199.5" r="3.5"/><circle cx="144.7" cy="199.8" r="3.5"/><circle cx="221.9" cy="199.9" r="3.5"/><circle cx="143.3" cy="199.9" r="3.5"/><circle cx="125.2" cy="199.9" r="3.5"/><circle cx="164.6" cy="200" r="3.5"/><circle cx="162.5" cy="200" r="3.5"/><circle cx="164.2" cy="200" r="3.5"/><circle cx="155.3" cy="200" r="3.5"/><circle cx="153.3" cy="200.1" r="3.5"/><circle cx="212.6" cy="200.1" r="3.5"/><circle cx="168.2" cy="200.1" r="3.5"/><circle cx="161.4" cy="200.3" r="3.5"/><circle cx="161.1" cy="200.3" r="3.5"/><circle cx="164.5" cy="200.3" r="3.5"/><circle cx="163.3" cy="200.3" r="3.5"/><circle cx="195.8" cy="200.3" r="3.5"/><circle cx="146.9" cy="200.4" r="3.5"/><circle cx="165.3" cy="200.4" r="3.5"/><circle cx="164" cy="200.4" r="3.5"/><circle cx="200.7" cy="200.4" r="3.5"/><circle cx="164.8" cy="200.5" r="3.5"/><circle cx="162.6" cy="200.6" r="3.5"/><circle cx="163.4" cy="200.6" r="3.5"/><circle cx="191.3" cy="200.7" r="3.5"/><circle cx="193.9" cy="200.7" r="3.5"/><circle cx="161.3" cy="200.7" r="3.5"/><circle cx="161" cy="200.8" r="3.5"/><circle cx="166.9" cy="200.8" r="3.5"/><circle cx="163.4" cy="200.8" r="3.5"/><circle cx="193.7" cy="200.9" r="3.5"/><circle cx="217.4" cy="200.9" r="3.5"/><circle cx="165.9" cy="200.9" r="3.5"/><circle cx="139.9" cy="200.9" r="3.5"/><circle cx="159.5" cy="201" r="3.5"/><circle cx="193.7" cy="201" r="3.5"/><circle cx="114.9" cy="201" r="3.5"/><circle cx="215.5" cy="201" r="3.5"/><circle cx="165.2" cy="201.1" r="3.5"/><circle cx="164.1" cy="201.1" r="3.5"/><circle cx="168.4" cy="201.2" r="3.5"/><circle cx="193" cy="201.2" r="3.5"/><circle cx="194.1" cy="201.2" r="3.5"/><circle cx="158.3" cy="201.2" r="3.5"/><circle cx="194.1" cy="201.3" r="3.5"/><circle cx="129.8" cy="201.3" r="3.5"/><circle cx="158.6" cy="201.3" r="3.5"/><circle cx="164.5" cy="201.3" r="3.5"/><circle cx="164.5" cy="201.3" r="3.5"/><circle cx="165.4" cy="201.3" r="3.5"/><circle cx="186.2" cy="201.4" r="3.5"/><circle cx="192.7" cy="201.4" r="3.5"/><circle cx="146.7" cy="201.4" r="3.5"/><circle cx="189.8" cy="201.4" r="3.5"/><circle cx="204.2" cy="201.4" r="3.5"/><circle cx="161" cy="201.4" r="3.5"/><circle cx="194.1" cy="201.4" r="3.5"/><circle cx="190.7" cy="201.5" r="3.5"/><circle cx="191.2" cy="201.5" r="3.5"/><circle cx="160.6" cy="201.6" r="3.5"/><circle cx="159.5" cy="201.6" r="3.5"/><circle cx="196.7" cy="201.7" r="3.5"/><circle cx="244.8" cy="201.7" r="3.5"/><circle cx="191.4" cy="201.7" r="3.5"/><circle cx="158.6" cy="201.8" r="3.5"/><circle cx="195.3" cy="201.8" r="3.5"/><circle cx="146" cy="201.8" r="3.5"/><circle cx="165.1" cy="201.8" r="3.5"/><circle cx="157.1" cy="201.8" r="3.5"/><circle cx="163.4" cy="201.9" r="3.5"/><circle cx="187.4" cy="201.9" r="3.5"/><circle cx="159.8" cy="201.9" r="3.5"/><circle cx="191.8" cy="201.9" r="3.5"/><circle cx="194" cy="201.9" r="3.5"/><circle cx="192.1" cy="202" r="3.5"/><circle cx="189" cy="202" r="3.5"/><circle cx="159.4" cy="202.1" r="3.5"/><circle cx="191.7" cy="202.1" r="3.5"/><circle cx="196.9" cy="202.1" r="3.5"/><circle cx="191.8" cy="202.1" r="3.5"/><circle cx="168.4" cy="202.2" r="3.5"/><circle cx="160.1" cy="202.2" r="3.5"/><circle cx="167.6" cy="202.2" r="3.5"/><circle cx="188.4" cy="202.2" r="3.5"/><circle cx="162" cy="202.2" r="3.5"/><circle cx="190.2" cy="202.2" r="3.5"/><circle cx="194.5" cy="202.3" r="3.5"/><circle cx="167.2" cy="202.3" r="3.5"/><circle cx="188" cy="202.3" r="3.5"/><circle cx="194.2" cy="202.3" r="3.5"/><circle cx="159.8" cy="202.4" r="3.5"/><circle cx="151.7" cy="202.4" r="3.5"/><circle cx="142.2" cy="202.4" r="3.5"/><circle cx="192.2" cy="202.4" r="3.5"/><circle cx="193" cy="202.4" r="3.5"/><circle cx="168.2" cy="202.4" r="3.5"/><circle cx="197.7" cy="202.4" r="3.5"/><circle cx="166" cy="202.4" r="3.5"/><circle cx="194.4" cy="202.4" r="3.5"/><circle cx="165.9" cy="202.4" r="3.5"/><circle cx="156.3" cy="202.4" r="3.5"/><circle cx="169" cy="202.4" r="3.5"/><circle cx="187.9" cy="202.4" r="3.5"/><circle cx="168.3" cy="202.5" r="3.5"/><circle cx="186.2" cy="202.5" r="3.5"/><circle cx="158.5" cy="202.5" r="3.5"/><circle cx="198.1" cy="202.5" r="3.5"/><circle cx="144.7" cy="202.5" r="3.5"/><circle cx="141.2" cy="202.5" r="3.5"/><circle cx="163.3" cy="202.5" r="3.5"/><circle cx="162.5" cy="202.6" r="3.5"/><circle cx="198.1" cy="202.6" r="3.5"/><circle cx="151.5" cy="202.6" r="3.5"/><circle cx="159.5" cy="202.6" r="3.5"/><circle cx="192.7" cy="202.6" r="3.5"/><circle cx="158.5" cy="202.6" r="3.5"/><circle cx="166.5" cy="202.7" r="3.5"/><circle cx="158.7" cy="202.7" r="3.5"/><circle cx="193.9" cy="202.7" r="3.5"/><circle cx="190.9" cy="202.7" r="3.5"/><circle cx="168.5" cy="202.7" r="3.5"/><circle cx="157.2" cy="202.7" r="3.5"/><circle cx="159.9" cy="202.7" r="3.5"/><circle cx="168.7" cy="202.8" r="3.5"/><circle cx="187.1" cy="202.8" r="3.5"/><circle cx="161.8" cy="202.8" r="3.5"/><circle cx="159" cy="202.8" r="3.5"/><circle cx="186.9" cy="202.8" r="3.5"/><circle cx="191.9" cy="202.8" r="3.5"/><circle cx="199.3" cy="202.8" r="3.5"/><circle cx="188.9" cy="202.9" r="3.5"/><circle cx="193.7" cy="202.9" r="3.5"/><circle cx="156" cy="202.9" r="3.5"/><circle cx="165.9" cy="202.9" r="3.5"/><circle cx="155.2" cy="202.9" r="3.5"/><circle cx="197.5" cy="202.9" r="3.5"/><circle cx="156.1" cy="202.9" r="3.5"/><circle cx="165.1" cy="202.9" r="3.5"/><circle cx="195.9" cy="203" r="3.5"/><circle cx="194.9" cy="203" r="3.5"/><circle cx="168.2" cy="203" r="3.5"/><circle cx="160.2" cy="203" r="3.5"/><circle cx="188.3" cy="203" r="3.5"/><circle cx="162.1" cy="203.1" r="3.5"/><circle cx="200.6" cy="203.1" r="3.5"/><circle cx="165.8" cy="203.1" r="3.5"/><circle cx="164.3" cy="203.1" r="3.5"/><circle cx="191.3" cy="203.1" r="3.5"/><circle cx="224.7" cy="203.1" r="3.5"/><circle cx="161.5" cy="203.1" r="3.5"/><circle cx="150.5" cy="203.2" r="3.5"/><circle cx="194.6" cy="203.2" r="3.5"/><circle cx="149.8" cy="203.2" r="3.5"/><circle cx="106.8" cy="203.2" r="3.5"/><circle cx="189" cy="203.2" r="3.5"/><circle cx="155.2" cy="203.2" r="3.5"/><circle cx="200.3" cy="203.2" r="3.5"/><circle cx="224.6" cy="203.3" r="3.5"/><circle cx="165.7" cy="203.3" r="3.5"/><circle cx="189.5" cy="203.3" r="3.5"/><circle cx="193.4" cy="203.4" r="3.5"/><circle cx="156.7" cy="203.4" r="3.5"/><circle cx="157.6" cy="203.4" r="3.5"/><circle cx="191.1" cy="203.4" r="3.5"/><circle cx="199.4" cy="203.4" r="3.5"/><circle cx="194" cy="203.4" r="3.5"/><circle cx="160.4" cy="203.5" r="3.5"/><circle cx="161.6" cy="203.5" r="3.5"/><circle cx="198.5" cy="203.6" r="3.5"/><circle cx="194.5" cy="203.6" r="3.5"/><circle cx="195.4" cy="203.6" r="3.5"/><circle cx="151.2" cy="203.6" r="3.5"/><circle cx="189.4" cy="203.6" r="3.5"/><circle cx="196.6" cy="203.6" r="3.5"/><circle cx="168.5" cy="203.6" r="3.5"/><circle cx="167.4" cy="203.7" r="3.5"/><circle cx="196.4" cy="203.7" r="3.5"/><circle cx="187.9" cy="203.7" r="3.5"/><circle cx="189.8" cy="203.7" r="3.5"/><circle cx="199.9" cy="203.8" r="3.5"/><circle cx="160.6" cy="203.8" r="3.5"/><circle cx="128.8" cy="203.8" r="3.5"/><circle cx="205.7" cy="203.8" r="3.5"/><circle cx="167.1" cy="203.8" r="3.5"/><circle cx="160.6" cy="203.8" r="3.5"/><circle cx="200.9" cy="203.8" r="3.5"/><circle cx="162.6" cy="203.9" r="3.5"/><circle cx="195.9" cy="203.9" r="3.5"/><circle cx="191.3" cy="203.9" r="3.5"/><circle cx="165.6" cy="203.9" r="3.5"/><circle cx="156" cy="203.9" r="3.5"/><circle cx="169.3" cy="203.9" r="3.5"/><circle cx="200.4" cy="203.9" r="3.5"/><circle cx="157.4" cy="203.9" r="3.5"/><circle cx="193.7" cy="203.9" r="3.5"/><circle cx="192.6" cy="203.9" r="3.5"/><circle cx="192.3" cy="203.9" r="3.5"/><circle cx="192.5" cy="203.9" r="3.5"/><circle cx="147.4" cy="204" r="3.5"/><circle cx="157.9" cy="204" r="3.5"/><circle cx="158.5" cy="204" r="3.5"/><circle cx="191.5" cy="204" r="3.5"/><circle cx="158.4" cy="204" r="3.5"/><circle cx="191.8" cy="204" r="3.5"/><circle cx="165.9" cy="204" r="3.5"/><circle cx="194.4" cy="204" r="3.5"/><circle cx="209.8" cy="204" r="3.5"/><circle cx="188" cy="204" r="3.5"/><circle cx="162.8" cy="204.1" r="3.5"/><circle cx="203.2" cy="204.1" r="3.5"/><circle cx="165.9" cy="204.1" r="3.5"/><circle cx="157.5" cy="204.1" r="3.5"/><circle cx="202.6" cy="204.1" r="3.5"/><circle cx="225.6" cy="204.2" r="3.5"/><circle cx="193.5" cy="204.2" r="3.5"/><circle cx="166" cy="204.2" r="3.5"/><circle cx="164.4" cy="204.2" r="3.5"/><circle cx="154.6" cy="204.2" r="3.5"/><circle cx="157.4" cy="204.2" r="3.5"/><circle cx="167.2" cy="204.3" r="3.5"/><circle cx="193.8" cy="204.3" r="3.5"/><circle cx="191.4" cy="204.3" r="3.5"/><circle cx="160.1" cy="204.3" r="3.5"/><circle cx="191" cy="204.3" r="3.5"/><circle cx="200.5" cy="204.3" r="3.5"/><circle cx="166.5" cy="204.4" r="3.5"/><circle cx="191" cy="204.4" r="3.5"/><circle cx="228.8" cy="204.4" r="3.5"/><circle cx="190.1" cy="204.4" r="3.5"/><circle cx="203.3" cy="204.4" r="3.5"/><circle cx="194.8" cy="204.5" r="3.5"/><circle cx="201.9" cy="204.5" r="3.5"/><circle cx="191" cy="204.5" r="3.5"/><circle cx="197.4" cy="204.5" r="3.5"/><circle cx="159.7" cy="204.5" r="3.5"/><circle cx="188.7" cy="204.6" r="3.5"/><circle cx="163.7" cy="204.6" r="3.5"/><circle cx="191.7" cy="204.6" r="3.5"/><circle cx="194.1" cy="204.6" r="3.5"/><circle cx="187.5" cy="204.7" r="3.5"/><circle cx="195.4" cy="204.7" r="3.5"/><circle cx="166.8" cy="204.7" r="3.5"/><circle cx="123.4" cy="204.7" r="3.5"/><circle cx="156" cy="204.7" r="3.5"/><circle cx="219" cy="204.7" r="3.5"/><circle cx="190.1" cy="204.8" r="3.5"/><circle cx="161.4" cy="204.8" r="3.5"/><circle cx="158.3" cy="204.8" r="3.5"/><circle cx="188.3" cy="204.8" r="3.5"/><circle cx="87" cy="204.8" r="3.5"/><circle cx="157.9" cy="204.8" r="3.5"/><circle cx="146" cy="204.8" r="3.5"/><circle cx="151.4" cy="204.8" r="3.5"/><circle cx="165.1" cy="204.8" r="3.5"/><circle cx="198.5" cy="204.9" r="3.5"/><circle cx="157.4" cy="204.9" r="3.5"/><circle cx="197.7" cy="204.9" r="3.5"/><circle cx="154.3" cy="204.9" r="3.5"/><circle cx="194.1" cy="204.9" r="3.5"/><circle cx="162.4" cy="204.9" r="3.5"/><circle cx="197.1" cy="205" r="3.5"/><circle cx="160.1" cy="205" r="3.5"/><circle cx="159.2" cy="205" r="3.5"/><circle cx="201.6" cy="205" r="3.5"/><circle cx="197" cy="205" r="3.5"/><circle cx="187.5" cy="205.1" r="3.5"/><circle cx="165.6" cy="205.1" r="3.5"/><circle cx="149.4" cy="205.1" r="3.5"/><circle cx="200.9" cy="205.1" r="3.5"/><circle cx="186.4" cy="205.1" r="3.5"/><circle cx="159.1" cy="205.1" r="3.5"/><circle cx="193.9" cy="205.1" r="3.5"/><circle cx="200.6" cy="205.1" r="3.5"/><circle cx="125.4" cy="205.1" r="3.5"/><circle cx="167.8" cy="205.1" r="3.5"/><circle cx="186.7" cy="205.2" r="3.5"/><circle cx="189.1" cy="205.2" r="3.5"/><circle cx="159.8" cy="205.2" r="3.5"/><circle cx="186.6" cy="205.2" r="3.5"/><circle cx="154.7" cy="205.2" r="3.5"/><circle cx="165.5" cy="205.2" r="3.5"/><circle cx="186.4" cy="205.2" r="3.5"/><circle cx="200.2" cy="205.2" r="3.5"/><circle cx="167.7" cy="205.2" r="3.5"/><circle cx="161" cy="205.3" r="3.5"/><circle cx="155.8" cy="205.3" r="3.5"/><circle cx="164" cy="205.3" r="3.5"/><circle cx="169.2" cy="205.3" r="3.5"/><circle cx="201.2" cy="205.4" r="3.5"/><circle cx="189.4" cy="205.4" r="3.5"/><circle cx="155.3" cy="205.4" r="3.5"/><circle cx="168.7" cy="205.4" r="3.5"/><circle cx="189.7" cy="205.4" r="3.5"/><circle cx="160.7" cy="205.4" r="3.5"/><circle cx="197.3" cy="205.4" r="3.5"/><circle cx="168.4" cy="205.5" r="3.5"/><circle cx="158.9" cy="205.5" r="3.5"/><circle cx="186.5" cy="205.5" r="3.5"/><circle cx="156.3" cy="205.5" r="3.5"/><circle cx="161.1" cy="205.5" r="3.5"/><circle cx="159.6" cy="205.5" r="3.5"/><circle cx="197" cy="205.6" r="3.5"/><circle cx="194.5" cy="205.6" r="3.5"/><circle cx="196.4" cy="205.6" r="3.5"/><circle cx="167" cy="205.6" r="3.5"/><circle cx="186.5" cy="205.6" r="3.5"/><circle cx="187.8" cy="205.6" r="3.5"/><circle cx="201.3" cy="205.6" r="3.5"/><circle cx="200" cy="205.6" r="3.5"/><circle cx="168.1" cy="205.6" r="3.5"/><circle cx="194.6" cy="205.6" r="3.5"/><circle cx="165.8" cy="205.6" r="3.5"/><circle cx="154.4" cy="205.7" r="3.5"/><circle cx="152.9" cy="205.7" r="3.5"/><circle cx="195.7" cy="205.7" r="3.5"/><circle cx="203.2" cy="205.7" r="3.5"/><circle cx="193.7" cy="205.7" r="3.5"/><circle cx="162.9" cy="205.7" r="3.5"/><circle cx="202.6" cy="205.7" r="3.5"/><circle cx="156" cy="205.7" r="3.5"/><circle cx="202.4" cy="205.7" r="3.5"/><circle cx="157.3" cy="205.8" r="3.5"/><circle cx="168" cy="205.8" r="3.5"/><circle cx="154.3" cy="205.8" r="3.5"/><circle cx="187.5" cy="205.8" r="3.5"/><circle cx="145.5" cy="205.9" r="3.5"/><circle cx="196.5" cy="205.9" r="3.5"/><circle cx="169.3" cy="205.9" r="3.5"/><circle cx="194.2" cy="205.9" r="3.5"/><circle cx="190.9" cy="205.9" r="3.5"/><circle cx="194.6" cy="205.9" r="3.5"/><circle cx="194.7" cy="205.9" r="3.5"/><circle cx="201.6" cy="205.9" r="3.5"/><circle cx="167.5" cy="205.9" r="3.5"/><circle cx="201.7" cy="206" r="3.5"/><circle cx="156.2" cy="206" r="3.5"/><circle cx="193.8" cy="206" r="3.5"/><circle cx="196" cy="206" r="3.5"/><circle cx="157.8" cy="206" r="3.5"/><circle cx="189" cy="206" r="3.5"/><circle cx="165.6" cy="206.1" r="3.5"/><circle cx="203.4" cy="206.1" r="3.5"/><circle cx="154.8" cy="206.1" r="3.5"/><circle cx="191.7" cy="206.1" r="3.5"/><circle cx="161.4" cy="206.1" r="3.5"/><circle cx="166.5" cy="206.2" r="3.5"/><circle cx="209.1" cy="206.2" r="3.5"/><circle cx="216.2" cy="206.2" r="3.5"/><circle cx="153.9" cy="206.2" r="3.5"/><circle cx="168.6" cy="206.2" r="3.5"/><circle cx="187.4" cy="206.2" r="3.5"/><circle cx="200.1" cy="206.2" r="3.5"/><circle cx="156.8" cy="206.3" r="3.5"/><circle cx="193.1" cy="206.3" r="3.5"/><circle cx="190.7" cy="206.3" r="3.5"/><circle cx="197.4" cy="206.3" r="3.5"/><circle cx="187.6" cy="206.3" r="3.5"/><circle cx="162.4" cy="206.3" r="3.5"/><circle cx="202.5" cy="206.3" r="3.5"/><circle cx="202.4" cy="206.4" r="3.5"/><circle cx="186.3" cy="206.4" r="3.5"/><circle cx="193.8" cy="206.4" r="3.5"/><circle cx="162.1" cy="206.4" r="3.5"/><circle cx="210.8" cy="206.4" r="3.5"/><circle cx="200.7" cy="206.4" r="3.5"/><circle cx="201.2" cy="206.5" r="3.5"/><circle cx="157.6" cy="206.5" r="3.5"/><circle cx="239.5" cy="206.5" r="3.5"/><circle cx="188.5" cy="206.5" r="3.5"/><circle cx="167.1" cy="206.5" r="3.5"/><circle cx="203.7" cy="206.6" r="3.5"/><circle cx="196" cy="206.6" r="3.5"/><circle cx="156.6" cy="206.6" r="3.5"/><circle cx="150.8" cy="206.6" r="3.5"/><circle cx="159.4" cy="206.6" r="3.5"/><circle cx="199.2" cy="206.6" r="3.5"/><circle cx="203.6" cy="206.6" r="3.5"/><circle cx="161.8" cy="206.6" r="3.5"/><circle cx="152.1" cy="206.6" r="3.5"/><circle cx="189.2" cy="206.7" r="3.5"/><circle cx="204.3" cy="206.7" r="3.5"/><circle cx="151" cy="206.7" r="3.5"/><circle cx="187.9" cy="206.7" r="3.5"/><circle cx="140.1" cy="206.8" r="3.5"/><circle cx="159.8" cy="206.8" r="3.5"/><circle cx="194.8" cy="206.8" r="3.5"/><circle cx="203.9" cy="206.8" r="3.5"/><circle cx="150.7" cy="206.8" r="3.5"/><circle cx="214.6" cy="206.9" r="3.5"/><circle cx="164.3" cy="206.9" r="3.5"/><circle cx="192" cy="206.9" r="3.5"/><circle cx="203.2" cy="206.9" r="3.5"/><circle cx="186.8" cy="206.9" r="3.5"/><circle cx="197.8" cy="206.9" r="3.5"/><circle cx="161.9" cy="206.9" r="3.5"/><circle cx="150.5" cy="206.9" r="3.5"/><circle cx="152.9" cy="206.9" r="3.5"/><circle cx="204.9" cy="206.9" r="3.5"/><circle cx="158.3" cy="206.9" r="3.5"/><circle cx="191.1" cy="207" r="3.5"/><circle cx="166.4" cy="207" r="3.5"/><circle cx="136.5" cy="207.1" r="3.5"/><circle cx="196.5" cy="207.1" r="3.5"/><circle cx="190.9" cy="207.1" r="3.5"/><circle cx="186.7" cy="207.1" r="3.5"/><circle cx="158.4" cy="207.1" r="3.5"/><circle cx="153" cy="207.1" r="3.5"/><circle cx="188.4" cy="207.1" r="3.5"/><circle cx="197.8" cy="207.2" r="3.5"/><circle cx="160" cy="207.2" r="3.5"/><circle cx="150.3" cy="207.2" r="3.5"/><circle cx="189.9" cy="207.2" r="3.5"/><circle cx="149" cy="207.2" r="3.5"/><circle cx="125.4" cy="207.2" r="3.5"/><circle cx="159.3" cy="207.2" r="3.5"/><circle cx="156.6" cy="207.2" r="3.5"/><circle cx="190.3" cy="207.2" r="3.5"/><circle cx="188.3" cy="207.3" r="3.5"/><circle cx="120.4" cy="207.3" r="3.5"/><circle cx="192.5" cy="207.3" r="3.5"/><circle cx="158.4" cy="207.3" r="3.5"/><circle cx="204.8" cy="207.3" r="3.5"/><circle cx="204.6" cy="207.3" r="3.5"/><circle cx="202.4" cy="207.3" r="3.5"/><circle cx="153.8" cy="207.3" r="3.5"/><circle cx="216.6" cy="207.3" r="3.5"/><circle cx="162.8" cy="207.3" r="3.5"/><circle cx="212.6" cy="207.4" r="3.5"/><circle cx="168.9" cy="207.4" r="3.5"/><circle cx="163.2" cy="207.4" r="3.5"/><circle cx="150.5" cy="207.4" r="3.5"/><circle cx="194.1" cy="207.4" r="3.5"/><circle cx="198.8" cy="207.4" r="3.5"/><circle cx="191.7" cy="207.5" r="3.5"/><circle cx="150.2" cy="207.5" r="3.5"/><circle cx="190.7" cy="207.5" r="3.5"/><circle cx="133.9" cy="207.5" r="3.5"/><circle cx="168.5" cy="207.5" r="3.5"/><circle cx="195.8" cy="207.6" r="3.5"/><circle cx="161.3" cy="207.6" r="3.5"/><circle cx="157.4" cy="207.6" r="3.5"/><circle cx="189" cy="207.6" r="3.5"/><circle cx="193.2" cy="207.6" r="3.5"/><circle cx="158.3" cy="207.6" r="3.5"/><circle cx="160.1" cy="207.6" r="3.5"/><circle cx="202.3" cy="207.6" r="3.5"/><circle cx="197" cy="207.6" r="3.5"/><circle cx="158.1" cy="207.6" r="3.5"/><circle cx="150.8" cy="207.7" r="3.5"/><circle cx="188.3" cy="207.7" r="3.5"/><circle cx="220.3" cy="207.7" r="3.5"/><circle cx="195.8" cy="207.7" r="3.5"/><circle cx="202" cy="207.7" r="3.5"/><circle cx="155.7" cy="207.7" r="3.5"/><circle cx="188.5" cy="207.7" r="3.5"/><circle cx="159.1" cy="207.8" r="3.5"/><circle cx="199" cy="207.8" r="3.5"/><circle cx="159.7" cy="207.8" r="3.5"/><circle cx="149.3" cy="207.8" r="3.5"/><circle cx="156.6" cy="207.8" r="3.5"/><circle cx="169.2" cy="207.8" r="3.5"/><circle cx="150.7" cy="207.8" r="3.5"/><circle cx="164.7" cy="207.8" r="3.5"/><circle cx="199.4" cy="207.9" r="3.5"/><circle cx="158.9" cy="207.9" r="3.5"/><circle cx="119.2" cy="207.9" r="3.5"/><circle cx="163.3" cy="207.9" r="3.5"/><circle cx="167.6" cy="207.9" r="3.5"/><circle cx="150.9" cy="207.9" r="3.5"/><circle cx="153.7" cy="207.9" r="3.5"/><circle cx="202.1" cy="207.9" r="3.5"/><circle cx="138.4" cy="207.9" r="3.5"/><circle cx="194.3" cy="207.9" r="3.5"/><circle cx="191.3" cy="208" r="3.5"/><circle cx="150.5" cy="208" r="3.5"/><circle cx="166.1" cy="208" r="3.5"/><circle cx="161.5" cy="208" r="3.5"/><circle cx="162.1" cy="208" r="3.5"/><circle cx="168.4" cy="208" r="3.5"/><circle cx="164.3" cy="208" r="3.5"/><circle cx="156.2" cy="208" r="3.5"/><circle cx="149.9" cy="208" r="3.5"/><circle cx="187.8" cy="208" r="3.5"/><circle cx="198.3" cy="208" r="3.5"/><circle cx="205.1" cy="208" r="3.5"/><circle cx="195.6" cy="208" r="3.5"/><circle cx="191" cy="208" r="3.5"/><circle cx="167.1" cy="208.1" r="3.5"/><circle cx="190" cy="208.1" r="3.5"/><circle cx="150.1" cy="208.1" r="3.5"/><circle cx="192.3" cy="208.1" r="3.5"/><circle cx="155.9" cy="208.1" r="3.5"/><circle cx="213.2" cy="208.1" r="3.5"/><circle cx="187.1" cy="208.1" r="3.5"/><circle cx="205.1" cy="208.2" r="3.5"/><circle cx="146" cy="208.2" r="3.5"/><circle cx="152.3" cy="208.2" r="3.5"/><circle cx="191.8" cy="208.2" r="3.5"/><circle cx="157.8" cy="208.2" r="3.5"/><circle cx="149.2" cy="208.3" r="3.5"/><circle cx="155.4" cy="208.3" r="3.5"/><circle cx="160.8" cy="208.3" r="3.5"/><circle cx="276.8" cy="208.4" r="3.5"/><circle cx="196.8" cy="208.4" r="3.5"/><circle cx="164" cy="208.4" r="3.5"/><circle cx="147.8" cy="208.4" r="3.5"/><circle cx="167.2" cy="208.5" r="3.5"/><circle cx="157" cy="208.5" r="3.5"/><circle cx="148.8" cy="208.5" r="3.5"/><circle cx="192.5" cy="208.5" r="3.5"/><circle cx="194.7" cy="208.5" r="3.5"/><circle cx="153.2" cy="208.5" r="3.5"/><circle cx="160.5" cy="208.5" r="3.5"/><circle cx="154.5" cy="208.5" r="3.5"/><circle cx="139.3" cy="208.6" r="3.5"/><circle cx="192.5" cy="208.6" r="3.5"/><circle cx="224.1" cy="208.6" r="3.5"/><circle cx="188.7" cy="208.6" r="3.5"/><circle cx="156.4" cy="208.6" r="3.5"/><circle cx="162.1" cy="208.6" r="3.5"/><circle cx="197.2" cy="208.7" r="3.5"/><circle cx="207.2" cy="208.7" r="3.5"/><circle cx="197.3" cy="208.7" r="3.5"/><circle cx="205.5" cy="208.7" r="3.5"/><circle cx="206" cy="208.7" r="3.5"/><circle cx="156.2" cy="208.8" r="3.5"/><circle cx="192.6" cy="208.8" r="3.5"/><circle cx="222.6" cy="208.8" r="3.5"/><circle cx="162.3" cy="208.8" r="3.5"/><circle cx="199.1" cy="208.8" r="3.5"/><circle cx="198.3" cy="208.8" r="3.5"/><circle cx="146.3" cy="208.9" r="3.5"/><circle cx="187.8" cy="208.9" r="3.5"/><circle cx="153" cy="208.9" r="3.5"/><circle cx="166.1" cy="208.9" r="3.5"/><circle cx="201.5" cy="208.9" r="3.5"/><circle cx="166.2" cy="208.9" r="3.5"/><circle cx="151.1" cy="208.9" r="3.5"/><circle cx="189.9" cy="208.9" r="3.5"/><circle cx="152.3" cy="209" r="3.5"/><circle cx="148.6" cy="209" r="3.5"/><circle cx="205.3" cy="209" r="3.5"/><circle cx="203.3" cy="209" r="3.5"/><circle cx="149.1" cy="209" r="3.5"/><circle cx="165.4" cy="209" r="3.5"/><circle cx="187.2" cy="209" r="3.5"/><circle cx="161" cy="209" r="3.5"/><circle cx="161.4" cy="209" r="3.5"/><circle cx="196.6" cy="209" r="3.5"/><circle cx="186.3" cy="209.1" r="3.5"/><circle cx="199" cy="209.1" r="3.5"/><circle cx="192.9" cy="209.1" r="3.5"/><circle cx="158.3" cy="209.1" r="3.5"/><circle cx="188.2" cy="209.1" r="3.5"/><circle cx="193.7" cy="209.2" r="3.5"/><circle cx="161.3" cy="209.2" r="3.5"/><circle cx="189.5" cy="209.2" r="3.5"/><circle cx="157.2" cy="209.2" r="3.5"/><circle cx="193.5" cy="209.2" r="3.5"/><circle cx="149" cy="209.2" r="3.5"/><circle cx="216.6" cy="209.2" r="3.5"/><circle cx="148.7" cy="209.3" r="3.5"/><circle cx="164.9" cy="209.3" r="3.5"/><circle cx="203.5" cy="209.3" r="3.5"/><circle cx="194.9" cy="209.3" r="3.5"/><circle cx="198.7" cy="209.3" r="3.5"/><circle cx="207.9" cy="209.3" r="3.5"/><circle cx="153.4" cy="209.3" r="3.5"/><circle cx="148.7" cy="209.4" r="3.5"/><circle cx="169" cy="209.4" r="3.5"/><circle cx="167.6" cy="209.4" r="3.5"/><circle cx="160.7" cy="209.4" r="3.5"/><circle cx="153.2" cy="209.5" r="3.5"/><circle cx="151.1" cy="209.5" r="3.5"/><circle cx="201.8" cy="209.5" r="3.5"/><circle cx="200.6" cy="209.5" r="3.5"/><circle cx="148.3" cy="209.5" r="3.5"/><circle cx="163.5" cy="209.5" r="3.5"/><circle cx="197.1" cy="209.5" r="3.5"/><circle cx="197.7" cy="209.5" r="3.5"/><circle cx="168.1" cy="209.6" r="3.5"/><circle cx="155.2" cy="209.6" r="3.5"/><circle cx="194.9" cy="209.6" r="3.5"/><circle cx="152.5" cy="209.6" r="3.5"/><circle cx="208.9" cy="209.6" r="3.5"/><circle cx="199.9" cy="209.6" r="3.5"/><circle cx="152.3" cy="209.6" r="3.5"/><circle cx="195.8" cy="209.6" r="3.5"/><circle cx="195.9" cy="209.6" r="3.5"/><circle cx="167.4" cy="209.6" r="3.5"/><circle cx="157.8" cy="209.7" r="3.5"/><circle cx="206.3" cy="209.7" r="3.5"/><circle cx="190.3" cy="209.7" r="3.5"/><circle cx="90.8" cy="209.7" r="3.5"/><circle cx="155.5" cy="209.7" r="3.5"/><circle cx="220.8" cy="209.8" r="3.5"/><circle cx="189.3" cy="209.8" r="3.5"/><circle cx="204.5" cy="209.8" r="3.5"/><circle cx="147.9" cy="209.8" r="3.5"/><circle cx="160" cy="209.8" r="3.5"/><circle cx="205.2" cy="209.8" r="3.5"/><circle cx="204.5" cy="209.8" r="3.5"/><circle cx="160.4" cy="209.8" r="3.5"/><circle cx="156.9" cy="209.8" r="3.5"/><circle cx="159.5" cy="209.8" r="3.5"/><circle cx="162.1" cy="209.9" r="3.5"/><circle cx="187.7" cy="209.9" r="3.5"/><circle cx="202.4" cy="209.9" r="3.5"/><circle cx="161.9" cy="209.9" r="3.5"/><circle cx="149.1" cy="209.9" r="3.5"/><circle cx="164.6" cy="209.9" r="3.5"/><circle cx="148.1" cy="209.9" r="3.5"/><circle cx="147.8" cy="209.9" r="3.5"/><circle cx="142.3" cy="209.9" r="3.5"/><circle cx="150.3" cy="210" r="3.5"/><circle cx="147.8" cy="210" r="3.5"/><circle cx="150.1" cy="210" r="3.5"/><circle cx="167.5" cy="210" r="3.5"/><circle cx="148.4" cy="210" r="3.5"/><circle cx="204.5" cy="210" r="3.5"/><circle cx="196.7" cy="210" r="3.5"/><circle cx="150.2" cy="210" r="3.5"/><circle cx="168.1" cy="210" r="3.5"/><circle cx="152.6" cy="210" r="3.5"/><circle cx="208.1" cy="210" r="3.5"/><circle cx="195.6" cy="210" r="3.5"/><circle cx="165.1" cy="210" r="3.5"/><circle cx="149.3" cy="210.1" r="3.5"/><circle cx="150.9" cy="210.1" r="3.5"/><circle cx="189.2" cy="210.1" r="3.5"/><circle cx="158.9" cy="210.1" r="3.5"/><circle cx="166.2" cy="210.1" r="3.5"/><circle cx="206.9" cy="210.1" r="3.5"/><circle cx="145.6" cy="210.1" r="3.5"/><circle cx="196.5" cy="210.2" r="3.5"/><circle cx="165" cy="210.2" r="3.5"/><circle cx="196.5" cy="210.2" r="3.5"/><circle cx="163.6" cy="210.2" r="3.5"/><circle cx="152.3" cy="210.2" r="3.5"/><circle cx="202.9" cy="210.2" r="3.5"/><circle cx="206.7" cy="210.2" r="3.5"/><circle cx="194.8" cy="210.3" r="3.5"/><circle cx="136" cy="210.3" r="3.5"/><circle cx="188.8" cy="210.3" r="3.5"/><circle cx="146.4" cy="210.3" r="3.5"/><circle cx="169.2" cy="210.4" r="3.5"/><circle cx="202.1" cy="210.4" r="3.5"/><circle cx="193.4" cy="210.4" r="3.5"/><circle cx="117.1" cy="210.4" r="3.5"/><circle cx="189.6" cy="210.4" r="3.5"/><circle cx="163.8" cy="210.4" r="3.5"/><circle cx="160.4" cy="210.4" r="3.5"/><circle cx="187" cy="210.4" r="3.5"/><circle cx="151.9" cy="210.4" r="3.5"/><circle cx="200.9" cy="210.4" r="3.5"/><circle cx="164" cy="210.4" r="3.5"/><circle cx="205.8" cy="210.4" r="3.5"/><circle cx="187.4" cy="210.4" r="3.5"/><circle cx="206.6" cy="210.5" r="3.5"/><circle cx="168.8" cy="210.5" r="3.5"/><circle cx="190.2" cy="210.5" r="3.5"/><circle cx="186.4" cy="210.5" r="3.5"/><circle cx="193.6" cy="210.5" r="3.5"/><circle cx="197.7" cy="210.5" r="3.5"/><circle cx="156.8" cy="210.5" r="3.5"/><circle cx="141" cy="210.5" r="3.5"/><circle cx="161.9" cy="210.5" r="3.5"/><circle cx="167.9" cy="210.6" r="3.5"/><circle cx="224.7" cy="210.6" r="3.5"/><circle cx="201.9" cy="210.6" r="3.5"/><circle cx="146" cy="210.6" r="3.5"/><circle cx="131.4" cy="210.6" r="3.5"/><circle cx="155.1" cy="210.6" r="3.5"/><circle cx="151" cy="210.6" r="3.5"/><circle cx="152.7" cy="210.6" r="3.5"/><circle cx="199.3" cy="210.7" r="3.5"/><circle cx="161.3" cy="210.7" r="3.5"/><circle cx="206.8" cy="210.7" r="3.5"/><circle cx="155.5" cy="210.7" r="3.5"/><circle cx="196.7" cy="210.7" r="3.5"/><circle cx="192.8" cy="210.7" r="3.5"/><circle cx="167.6" cy="210.7" r="3.5"/><circle cx="195.7" cy="210.8" r="3.5"/><circle cx="150.5" cy="210.9" r="3.5"/><circle cx="189.9" cy="210.9" r="3.5"/><circle cx="164" cy="210.9" r="3.5"/><circle cx="168.8" cy="210.9" r="3.5"/><circle cx="164.3" cy="210.9" r="3.5"/><circle cx="204.4" cy="210.9" r="3.5"/><circle cx="169.2" cy="210.9" r="3.5"/><circle cx="151.8" cy="211" r="3.5"/><circle cx="160.4" cy="211" r="3.5"/><circle cx="148.6" cy="211" r="3.5"/><circle cx="147.4" cy="211" r="3.5"/><circle cx="204.3" cy="211" r="3.5"/><circle cx="204.3" cy="211" r="3.5"/><circle cx="193.8" cy="211.1" r="3.5"/><circle cx="201.5" cy="211.1" r="3.5"/><circle cx="153.8" cy="211.1" r="3.5"/><circle cx="186.8" cy="211.1" r="3.5"/><circle cx="138.1" cy="211.1" r="3.5"/><circle cx="152.9" cy="211.1" r="3.5"/><circle cx="187.5" cy="211.1" r="3.5"/><circle cx="187.4" cy="211.1" r="3.5"/><circle cx="160.2" cy="211.1" r="3.5"/><circle cx="167.4" cy="211.1" r="3.5"/><circle cx="157.8" cy="211.1" r="3.5"/><circle cx="162.8" cy="211.1" r="3.5"/><circle cx="198.9" cy="211.1" r="3.5"/><circle cx="147.8" cy="211.1" r="3.5"/><circle cx="153" cy="211.1" r="3.5"/><circle cx="167.1" cy="211.2" r="3.5"/><circle cx="154.9" cy="211.2" r="3.5"/><circle cx="150.4" cy="211.2" r="3.5"/><circle cx="215.3" cy="211.2" r="3.5"/><circle cx="160.1" cy="211.2" r="3.5"/><circle cx="189.2" cy="211.2" r="3.5"/><circle cx="152.9" cy="211.3" r="3.5"/><circle cx="156.2" cy="211.3" r="3.5"/><circle cx="200.2" cy="211.3" r="3.5"/><circle cx="167.5" cy="211.3" r="3.5"/><circle cx="192.2" cy="211.3" r="3.5"/><circle cx="168" cy="211.3" r="3.5"/><circle cx="196.5" cy="211.3" r="3.5"/><circle cx="163.4" cy="211.4" r="3.5"/><circle cx="158.3" cy="211.4" r="3.5"/><circle cx="188" cy="211.4" r="3.5"/><circle cx="219.7" cy="211.4" r="3.5"/><circle cx="207.5" cy="211.4" r="3.5"/><circle cx="158.7" cy="211.4" r="3.5"/><circle cx="189.5" cy="211.4" r="3.5"/><circle cx="147.8" cy="211.4" r="3.5"/><circle cx="209.6" cy="211.4" r="3.5"/><circle cx="188.7" cy="211.5" r="3.5"/><circle cx="166.9" cy="211.5" r="3.5"/><circle cx="146.9" cy="211.5" r="3.5"/><circle cx="202.4" cy="211.5" r="3.5"/><circle cx="167.6" cy="211.5" r="3.5"/><circle cx="204" cy="211.5" r="3.5"/><circle cx="155.9" cy="211.6" r="3.5"/><circle cx="189.9" cy="211.6" r="3.5"/><circle cx="198.4" cy="211.6" r="3.5"/><circle cx="148.3" cy="211.6" r="3.5"/><circle cx="197.6" cy="211.6" r="3.5"/><circle cx="165.6" cy="211.6" r="3.5"/><circle cx="158.4" cy="211.7" r="3.5"/><circle cx="168.1" cy="211.7" r="3.5"/><circle cx="200.5" cy="211.7" r="3.5"/><circle cx="151.2" cy="211.7" r="3.5"/><circle cx="187.4" cy="211.7" r="3.5"/><circle cx="148.3" cy="211.7" r="3.5"/><circle cx="168.5" cy="211.7" r="3.5"/><circle cx="146.5" cy="211.8" r="3.5"/><circle cx="192.5" cy="211.8" r="3.5"/><circle cx="146.8" cy="211.8" r="3.5"/><circle cx="157.8" cy="211.8" r="3.5"/><circle cx="207.4" cy="211.8" r="3.5"/><circle cx="236.8" cy="211.8" r="3.5"/><circle cx="190" cy="211.8" r="3.5"/><circle cx="199.9" cy="211.8" r="3.5"/><circle cx="151.1" cy="211.8" r="3.5"/><circle cx="197" cy="211.8" r="3.5"/><circle cx="188.4" cy="211.8" r="3.5"/><circle cx="153.7" cy="211.8" r="3.5"/><circle cx="188.9" cy="211.8" r="3.5"/><circle cx="166.5" cy="211.8" r="3.5"/><circle cx="158.4" cy="211.9" r="3.5"/><circle cx="201.4" cy="211.9" r="3.5"/><circle cx="152.1" cy="211.9" r="3.5"/><circle cx="167.2" cy="211.9" r="3.5"/><circle cx="198.7" cy="211.9" r="3.5"/><circle cx="188.3" cy="211.9" r="3.5"/><circle cx="159.9" cy="211.9" r="3.5"/><circle cx="163.5" cy="211.9" r="3.5"/><circle cx="258.8" cy="211.9" r="3.5"/><circle cx="186.9" cy="211.9" r="3.5"/><circle cx="219.1" cy="211.9" r="3.5"/><circle cx="153.2" cy="212" r="3.5"/><circle cx="168.9" cy="212" r="3.5"/><circle cx="208" cy="212" r="3.5"/><circle cx="190.5" cy="212" r="3.5"/><circle cx="148.7" cy="212" r="3.5"/><circle cx="145.1" cy="212" r="3.5"/><circle cx="208.6" cy="212.1" r="3.5"/><circle cx="206.9" cy="212.1" r="3.5"/><circle cx="169.1" cy="212.1" r="3.5"/><circle cx="159.6" cy="212.1" r="3.5"/><circle cx="136.9" cy="212.1" r="3.5"/><circle cx="169.2" cy="212.1" r="3.5"/><circle cx="196.8" cy="212.1" r="3.5"/><circle cx="208" cy="212.1" r="3.5"/><circle cx="144.4" cy="212.1" r="3.5"/><circle cx="160" cy="212.2" r="3.5"/><circle cx="190.4" cy="212.2" r="3.5"/><circle cx="210.2" cy="212.2" r="3.5"/><circle cx="149.2" cy="212.2" r="3.5"/><circle cx="146.5" cy="212.2" r="3.5"/><circle cx="169.3" cy="212.2" r="3.5"/><circle cx="200.6" cy="212.2" r="3.5"/><circle cx="152.4" cy="212.2" r="3.5"/><circle cx="159.1" cy="212.2" r="3.5"/><circle cx="204.3" cy="212.3" r="3.5"/><circle cx="149.3" cy="212.3" r="3.5"/><circle cx="167.4" cy="212.3" r="3.5"/><circle cx="204.3" cy="212.3" r="3.5"/><circle cx="190.1" cy="212.3" r="3.5"/><circle cx="188.6" cy="212.3" r="3.5"/><circle cx="146" cy="212.3" r="3.5"/><circle cx="193.6" cy="212.3" r="3.5"/><circle cx="197.5" cy="212.3" r="3.5"/><circle cx="202.5" cy="212.4" r="3.5"/><circle cx="192.2" cy="212.4" r="3.5"/><circle cx="165.7" cy="212.4" r="3.5"/><circle cx="194.8" cy="212.4" r="3.5"/><circle cx="207.9" cy="212.4" r="3.5"/><circle cx="159" cy="212.5" r="3.5"/><circle cx="157.3" cy="212.5" r="3.5"/><circle cx="148" cy="212.5" r="3.5"/><circle cx="153.4" cy="212.5" r="3.5"/><circle cx="208" cy="212.5" r="3.5"/><circle cx="207.1" cy="212.5" r="3.5"/><circle cx="200.9" cy="212.6" r="3.5"/><circle cx="191.1" cy="212.6" r="3.5"/><circle cx="154" cy="212.6" r="3.5"/><circle cx="163.2" cy="212.6" r="3.5"/><circle cx="200.3" cy="212.6" r="3.5"/><circle cx="163.8" cy="212.6" r="3.5"/><circle cx="207.2" cy="212.6" r="3.5"/><circle cx="166.9" cy="212.6" r="3.5"/><circle cx="162.3" cy="212.6" r="3.5"/><circle cx="201.8" cy="212.6" r="3.5"/><circle cx="189.7" cy="212.7" r="3.5"/><circle cx="150.8" cy="212.7" r="3.5"/><circle cx="201.4" cy="212.7" r="3.5"/><circle cx="203.4" cy="212.7" r="3.5"/><circle cx="162.6" cy="212.7" r="3.5"/><circle cx="151.1" cy="212.7" r="3.5"/><circle cx="153.7" cy="212.7" r="3.5"/><circle cx="151.7" cy="212.7" r="3.5"/><circle cx="186.5" cy="212.8" r="3.5"/><circle cx="189.5" cy="212.8" r="3.5"/><circle cx="197.3" cy="212.8" r="3.5"/><circle cx="145.7" cy="212.8" r="3.5"/><circle cx="189.4" cy="212.8" r="3.5"/><circle cx="155.2" cy="212.8" r="3.5"/><circle cx="200.9" cy="212.8" r="3.5"/><circle cx="164.2" cy="212.8" r="3.5"/><circle cx="188.9" cy="212.8" r="3.5"/><circle cx="201.9" cy="212.8" r="3.5"/><circle cx="208.4" cy="212.8" r="3.5"/><circle cx="155.7" cy="212.9" r="3.5"/><circle cx="191.7" cy="212.9" r="3.5"/><circle cx="204.8" cy="212.9" r="3.5"/><circle cx="207" cy="212.9" r="3.5"/><circle cx="139.3" cy="212.9" r="3.5"/><circle cx="186.7" cy="212.9" r="3.5"/><circle cx="160.6" cy="212.9" r="3.5"/><circle cx="156.9" cy="212.9" r="3.5"/><circle cx="166.6" cy="212.9" r="3.5"/><circle cx="167.7" cy="212.9" r="3.5"/><circle cx="150" cy="212.9" r="3.5"/><circle cx="158.1" cy="212.9" r="3.5"/><circle cx="159.8" cy="212.9" r="3.5"/><circle cx="186.2" cy="212.9" r="3.5"/><circle cx="151" cy="212.9" r="3.5"/><circle cx="205.2" cy="213" r="3.5"/><circle cx="203.2" cy="213" r="3.5"/><circle cx="203.6" cy="213" r="3.5"/><circle cx="150.6" cy="213" r="3.5"/><circle cx="193.2" cy="213" r="3.5"/><circle cx="155.4" cy="213" r="3.5"/><circle cx="201" cy="213" r="3.5"/><circle cx="188" cy="213" r="3.5"/><circle cx="164.4" cy="213" r="3.5"/><circle cx="163.1" cy="213" r="3.5"/><circle cx="226.2" cy="213" r="3.5"/><circle cx="158.3" cy="213" r="3.5"/><circle cx="162.5" cy="213" r="3.5"/><circle cx="202.2" cy="213" r="3.5"/><circle cx="201.5" cy="213.1" r="3.5"/><circle cx="160.7" cy="213.1" r="3.5"/><circle cx="160.6" cy="213.1" r="3.5"/><circle cx="139.1" cy="213.1" r="3.5"/><circle cx="202.5" cy="213.1" r="3.5"/><circle cx="187.4" cy="213.1" r="3.5"/><circle cx="149.4" cy="213.1" r="3.5"/><circle cx="209.1" cy="213.1" r="3.5"/><circle cx="157.8" cy="213.2" r="3.5"/><circle cx="156.7" cy="213.2" r="3.5"/><circle cx="206.6" cy="213.2" r="3.5"/><circle cx="192.4" cy="213.2" r="3.5"/><circle cx="165.8" cy="213.2" r="3.5"/><circle cx="190.8" cy="213.2" r="3.5"/><circle cx="202.1" cy="213.3" r="3.5"/><circle cx="154.4" cy="213.3" r="3.5"/><circle cx="162.2" cy="213.3" r="3.5"/><circle cx="198" cy="213.3" r="3.5"/><circle cx="162.5" cy="213.3" r="3.5"/><circle cx="191.1" cy="213.3" r="3.5"/><circle cx="189.3" cy="213.4" r="3.5"/><circle cx="158.8" cy="213.4" r="3.5"/><circle cx="148.7" cy="213.4" r="3.5"/><circle cx="159.4" cy="213.4" r="3.5"/><circle cx="145.6" cy="213.4" r="3.5"/><circle cx="167.3" cy="213.4" r="3.5"/><circle cx="147.2" cy="213.4" r="3.5"/><circle cx="147.4" cy="213.5" r="3.5"/><circle cx="162.9" cy="213.5" r="3.5"/><circle cx="204.2" cy="213.5" r="3.5"/><circle cx="152.9" cy="213.5" r="3.5"/><circle cx="145" cy="213.5" r="3.5"/><circle cx="193.1" cy="213.5" r="3.5"/><circle cx="168.6" cy="213.5" r="3.5"/><circle cx="187.6" cy="213.5" r="3.5"/><circle cx="144.6" cy="213.5" r="3.5"/><circle cx="197.2" cy="213.5" r="3.5"/><circle cx="150.4" cy="213.6" r="3.5"/><circle cx="210" cy="213.6" r="3.5"/><circle cx="157.8" cy="213.6" r="3.5"/><circle cx="161" cy="213.6" r="3.5"/><circle cx="207.4" cy="213.7" r="3.5"/><circle cx="167.6" cy="213.7" r="3.5"/><circle cx="207.1" cy="213.7" r="3.5"/><circle cx="190.8" cy="213.7" r="3.5"/><circle cx="157.1" cy="213.7" r="3.5"/><circle cx="195.1" cy="213.8" r="3.5"/><circle cx="146.2" cy="213.8" r="3.5"/><circle cx="191.9" cy="213.8" r="3.5"/><circle cx="194.8" cy="213.8" r="3.5"/><circle cx="205.1" cy="213.8" r="3.5"/><circle cx="145" cy="213.8" r="3.5"/><circle cx="168.5" cy="213.8" r="3.5"/><circle cx="168.9" cy="213.8" r="3.5"/><circle cx="156" cy="213.8" r="3.5"/><circle cx="159.5" cy="213.9" r="3.5"/><circle cx="208.2" cy="213.9" r="3.5"/><circle cx="169.1" cy="213.9" r="3.5"/><circle cx="202" cy="213.9" r="3.5"/><circle cx="150.6" cy="213.9" r="3.5"/><circle cx="144.3" cy="213.9" r="3.5"/><circle cx="203.6" cy="213.9" r="3.5"/><circle cx="143.7" cy="213.9" r="3.5"/><circle cx="150.2" cy="213.9" r="3.5"/><circle cx="190.2" cy="213.9" r="3.5"/><circle cx="163.8" cy="214" r="3.5"/><circle cx="149.8" cy="214" r="3.5"/><circle cx="194" cy="214" r="3.5"/><circle cx="152.4" cy="214" r="3.5"/><circle cx="140.8" cy="214" r="3.5"/><circle cx="151.6" cy="214" r="3.5"/><circle cx="194" cy="214.1" r="3.5"/><circle cx="165.6" cy="214.1" r="3.5"/><circle cx="156.2" cy="214.1" r="3.5"/><circle cx="167.5" cy="214.1" r="3.5"/><circle cx="190" cy="214.1" r="3.5"/><circle cx="197.8" cy="214.1" r="3.5"/><circle cx="158.1" cy="214.1" r="3.5"/><circle cx="146.7" cy="214.1" r="3.5"/><circle cx="203.1" cy="214.1" r="3.5"/><circle cx="208.3" cy="214.1" r="3.5"/><circle cx="204.8" cy="214.1" r="3.5"/><circle cx="153" cy="214.1" r="3.5"/><circle cx="188.9" cy="214.2" r="3.5"/><circle cx="206" cy="214.2" r="3.5"/><circle cx="224.8" cy="214.2" r="3.5"/><circle cx="206.4" cy="214.2" r="3.5"/><circle cx="204.1" cy="214.2" r="3.5"/><circle cx="169.3" cy="214.2" r="3.5"/><circle cx="155.2" cy="214.2" r="3.5"/><circle cx="146.7" cy="214.2" r="3.5"/><circle cx="188.4" cy="214.2" r="3.5"/><circle cx="202.2" cy="214.2" r="3.5"/><circle cx="129.4" cy="214.2" r="3.5"/><circle cx="226" cy="214.3" r="3.5"/><circle cx="166.8" cy="214.3" r="3.5"/><circle cx="197.1" cy="214.3" r="3.5"/><circle cx="160" cy="214.3" r="3.5"/><circle cx="165.9" cy="214.3" r="3.5"/><circle cx="191.4" cy="214.3" r="3.5"/><circle cx="195.4" cy="214.3" r="3.5"/><circle cx="196.1" cy="214.3" r="3.5"/><circle cx="189.4" cy="214.4" r="3.5"/><circle cx="165.4" cy="214.4" r="3.5"/><circle cx="163.3" cy="214.4" r="3.5"/><circle cx="212.5" cy="214.4" r="3.5"/><circle cx="217.4" cy="214.4" r="3.5"/><circle cx="161.8" cy="214.4" r="3.5"/><circle cx="159.4" cy="214.4" r="3.5"/><circle cx="166.9" cy="214.4" r="3.5"/><circle cx="188.3" cy="214.5" r="3.5"/><circle cx="188.5" cy="214.5" r="3.5"/><circle cx="204.5" cy="214.5" r="3.5"/><circle cx="199.8" cy="214.5" r="3.5"/><circle cx="159.5" cy="214.5" r="3.5"/><circle cx="204.7" cy="214.5" r="3.5"/><circle cx="194.3" cy="214.6" r="3.5"/><circle cx="155.9" cy="214.6" r="3.5"/><circle cx="194.8" cy="214.6" r="3.5"/><circle cx="191.9" cy="214.6" r="3.5"/><circle cx="202.4" cy="214.6" r="3.5"/><circle cx="169.1" cy="214.6" r="3.5"/><circle cx="157.8" cy="214.6" r="3.5"/><circle cx="206" cy="214.6" r="3.5"/><circle cx="153.1" cy="214.6" r="3.5"/><circle cx="204.4" cy="214.6" r="3.5"/><circle cx="159.3" cy="214.6" r="3.5"/><circle cx="142.9" cy="214.6" r="3.5"/><circle cx="162.3" cy="214.6" r="3.5"/><circle cx="155.8" cy="214.6" r="3.5"/><circle cx="144.9" cy="214.7" r="3.5"/><circle cx="197.9" cy="214.7" r="3.5"/><circle cx="189.8" cy="214.7" r="3.5"/><circle cx="149.9" cy="214.7" r="3.5"/><circle cx="207.4" cy="214.7" r="3.5"/><circle cx="144.5" cy="214.7" r="3.5"/><circle cx="193.9" cy="214.7" r="3.5"/><circle cx="200.7" cy="214.7" r="3.5"/><circle cx="217.9" cy="214.7" r="3.5"/><circle cx="186.7" cy="214.7" r="3.5"/><circle cx="161.4" cy="214.8" r="3.5"/><circle cx="190.7" cy="214.8" r="3.5"/><circle cx="159" cy="214.8" r="3.5"/><circle cx="198.8" cy="214.8" r="3.5"/><circle cx="187.5" cy="214.8" r="3.5"/><circle cx="155" cy="214.8" r="3.5"/><circle cx="165.1" cy="214.8" r="3.5"/><circle cx="209.2" cy="214.8" r="3.5"/><circle cx="192" cy="214.8" r="3.5"/><circle cx="197.9" cy="214.8" r="3.5"/><circle cx="156.1" cy="214.9" r="3.5"/><circle cx="208.2" cy="214.9" r="3.5"/><circle cx="187" cy="214.9" r="3.5"/><circle cx="167.6" cy="214.9" r="3.5"/><circle cx="166.2" cy="214.9" r="3.5"/><circle cx="163.6" cy="214.9" r="3.5"/><circle cx="190" cy="214.9" r="3.5"/><circle cx="197.3" cy="214.9" r="3.5"/><circle cx="164.2" cy="214.9" r="3.5"/><circle cx="193" cy="214.9" r="3.5"/><circle cx="168.8" cy="214.9" r="3.5"/><circle cx="167.9" cy="214.9" r="3.5"/><circle cx="199.8" cy="215" r="3.5"/><circle cx="150.7" cy="215" r="3.5"/><circle cx="166.5" cy="215" r="3.5"/><circle cx="168.6" cy="215" r="3.5"/><circle cx="155.3" cy="215" r="3.5"/><circle cx="161.7" cy="215" r="3.5"/><circle cx="150.1" cy="215" r="3.5"/><circle cx="166.2" cy="215.1" r="3.5"/><circle cx="156.9" cy="215.1" r="3.5"/><circle cx="152.1" cy="215.1" r="3.5"/><circle cx="189.3" cy="215.1" r="3.5"/><circle cx="210.4" cy="215.1" r="3.5"/><circle cx="166.6" cy="215.2" r="3.5"/><circle cx="144.2" cy="215.2" r="3.5"/><circle cx="302.7" cy="215.2" r="3.5"/><circle cx="198.3" cy="215.2" r="3.5"/><circle cx="162.4" cy="215.2" r="3.5"/><circle cx="201.7" cy="215.2" r="3.5"/><circle cx="140.3" cy="215.2" r="3.5"/><circle cx="143" cy="215.3" r="3.5"/><circle cx="166.4" cy="215.3" r="3.5"/><circle cx="156.3" cy="215.3" r="3.5"/><circle cx="164.3" cy="215.3" r="3.5"/><circle cx="122.1" cy="215.3" r="3.5"/><circle cx="187.9" cy="215.3" r="3.5"/><circle cx="199" cy="215.3" r="3.5"/><circle cx="148.5" cy="215.3" r="3.5"/><circle cx="144.3" cy="215.3" r="3.5"/><circle cx="162.1" cy="215.4" r="3.5"/><circle cx="164.2" cy="215.4" r="3.5"/><circle cx="209.2" cy="215.4" r="3.5"/><circle cx="200.6" cy="215.4" r="3.5"/><circle cx="152.1" cy="215.4" r="3.5"/><circle cx="203.2" cy="215.4" r="3.5"/><circle cx="160" cy="215.4" r="3.5"/><circle cx="193.1" cy="215.4" r="3.5"/><circle cx="201.3" cy="215.4" r="3.5"/><circle cx="150.2" cy="215.4" r="3.5"/><circle cx="206.9" cy="215.4" r="3.5"/><circle cx="162.9" cy="215.4" r="3.5"/><circle cx="152.6" cy="215.5" r="3.5"/><circle cx="150.1" cy="215.5" r="3.5"/><circle cx="146.5" cy="215.5" r="3.5"/><circle cx="114.2" cy="215.5" r="3.5"/><circle cx="206.6" cy="215.5" r="3.5"/><circle cx="151" cy="215.5" r="3.5"/><circle cx="161.4" cy="215.5" r="3.5"/><circle cx="186.4" cy="215.5" r="3.5"/><circle cx="160.7" cy="215.6" r="3.5"/><circle cx="165" cy="215.6" r="3.5"/><circle cx="207.4" cy="215.6" r="3.5"/><circle cx="154.8" cy="215.6" r="3.5"/><circle cx="205.8" cy="215.6" r="3.5"/><circle cx="195.1" cy="215.6" r="3.5"/><circle cx="189.5" cy="215.6" r="3.5"/><circle cx="192.7" cy="215.7" r="3.5"/><circle cx="205.9" cy="215.7" r="3.5"/><circle cx="209.1" cy="215.7" r="3.5"/><circle cx="145.9" cy="215.8" r="3.5"/><circle cx="167.7" cy="215.8" r="3.5"/><circle cx="143.9" cy="215.8" r="3.5"/><circle cx="188.8" cy="215.8" r="3.5"/><circle cx="210" cy="215.8" r="3.5"/><circle cx="166.1" cy="215.8" r="3.5"/><circle cx="199.7" cy="215.8" r="3.5"/><circle cx="153.5" cy="215.8" r="3.5"/><circle cx="202" cy="215.9" r="3.5"/><circle cx="142.6" cy="215.9" r="3.5"/><circle cx="141.1" cy="215.9" r="3.5"/><circle cx="154.8" cy="215.9" r="3.5"/><circle cx="158.7" cy="215.9" r="3.5"/><circle cx="206.4" cy="215.9" r="3.5"/><circle cx="158.1" cy="215.9" r="3.5"/><circle cx="159.9" cy="215.9" r="3.5"/><circle cx="146.2" cy="215.9" r="3.5"/><circle cx="158.1" cy="216" r="3.5"/><circle cx="201.2" cy="216" r="3.5"/><circle cx="148.3" cy="216" r="3.5"/><circle cx="209.3" cy="216" r="3.5"/><circle cx="210.5" cy="216" r="3.5"/><circle cx="151" cy="216" r="3.5"/><circle cx="167.8" cy="216" r="3.5"/><circle cx="165.5" cy="216" r="3.5"/><circle cx="169.1" cy="216" r="3.5"/><circle cx="210.3" cy="216.1" r="3.5"/><circle cx="194.8" cy="216.1" r="3.5"/><circle cx="203.1" cy="216.1" r="3.5"/><circle cx="187.8" cy="216.1" r="3.5"/><circle cx="165.8" cy="216.1" r="3.5"/><circle cx="146.9" cy="216.1" r="3.5"/><circle cx="167.9" cy="216.1" r="3.5"/><circle cx="163.3" cy="216.1" r="3.5"/><circle cx="202.3" cy="216.1" r="3.5"/><circle cx="158.4" cy="216.1" r="3.5"/><circle cx="191" cy="216.2" r="3.5"/><circle cx="164.7" cy="216.2" r="3.5"/><circle cx="149.8" cy="216.2" r="3.5"/><circle cx="203.8" cy="216.2" r="3.5"/><circle cx="158.6" cy="216.3" r="3.5"/><circle cx="196.7" cy="216.3" r="3.5"/><circle cx="190" cy="216.3" r="3.5"/><circle cx="154.8" cy="216.3" r="3.5"/><circle cx="208.6" cy="216.4" r="3.5"/><circle cx="165.1" cy="216.4" r="3.5"/><circle cx="142.5" cy="216.4" r="3.5"/><circle cx="192.4" cy="216.4" r="3.5"/><circle cx="152.9" cy="216.4" r="3.5"/><circle cx="196.7" cy="216.5" r="3.5"/><circle cx="205.4" cy="216.5" r="3.5"/><circle cx="193" cy="216.5" r="3.5"/><circle cx="151.8" cy="216.5" r="3.5"/><circle cx="198.8" cy="216.5" r="3.5"/><circle cx="198.2" cy="216.5" r="3.5"/><circle cx="156.4" cy="216.5" r="3.5"/><circle cx="162.5" cy="216.5" r="3.5"/><circle cx="149.3" cy="216.5" r="3.5"/><circle cx="130.5" cy="216.5" r="3.5"/><circle cx="159.5" cy="216.5" r="3.5"/><circle cx="146" cy="216.6" r="3.5"/><circle cx="208.2" cy="216.6" r="3.5"/><circle cx="153.5" cy="216.6" r="3.5"/><circle cx="210.1" cy="216.6" r="3.5"/><circle cx="165.2" cy="216.6" r="3.5"/><circle cx="198.8" cy="216.6" r="3.5"/><circle cx="161.7" cy="216.6" r="3.5"/><circle cx="188.9" cy="216.6" r="3.5"/><circle cx="134.9" cy="216.7" r="3.5"/><circle cx="168.7" cy="216.7" r="3.5"/><circle cx="199.2" cy="216.7" r="3.5"/><circle cx="191.8" cy="216.7" r="3.5"/><circle cx="192.8" cy="216.7" r="3.5"/><circle cx="154.2" cy="216.7" r="3.5"/><circle cx="168.7" cy="216.7" r="3.5"/><circle cx="142.5" cy="216.7" r="3.5"/><circle cx="151.2" cy="216.7" r="3.5"/><circle cx="199.2" cy="216.7" r="3.5"/><circle cx="148.5" cy="216.7" r="3.5"/><circle cx="196.2" cy="216.7" r="3.5"/><circle cx="205.5" cy="216.7" r="3.5"/><circle cx="148.5" cy="216.7" r="3.5"/><circle cx="192.1" cy="216.8" r="3.5"/><circle cx="207.1" cy="216.8" r="3.5"/><circle cx="208.2" cy="216.8" r="3.5"/><circle cx="143.5" cy="216.8" r="3.5"/><circle cx="186.6" cy="216.9" r="3.5"/><circle cx="163.2" cy="216.9" r="3.5"/><circle cx="124.9" cy="216.9" r="3.5"/><circle cx="188.6" cy="216.9" r="3.5"/><circle cx="205" cy="216.9" r="3.5"/><circle cx="154.8" cy="216.9" r="3.5"/><circle cx="199.6" cy="216.9" r="3.5"/><circle cx="196.9" cy="216.9" r="3.5"/><circle cx="186.6" cy="216.9" r="3.5"/><circle cx="151.4" cy="216.9" r="3.5"/><circle cx="199.3" cy="216.9" r="3.5"/><circle cx="200.4" cy="217" r="3.5"/><circle cx="151.3" cy="217" r="3.5"/><circle cx="191" cy="217" r="3.5"/><circle cx="190.7" cy="217" r="3.5"/><circle cx="202.8" cy="217" r="3.5"/><circle cx="193.9" cy="217" r="3.5"/><circle cx="194" cy="217.1" r="3.5"/><circle cx="188.3" cy="217.1" r="3.5"/><circle cx="199.8" cy="217.1" r="3.5"/><circle cx="209.3" cy="217.1" r="3.5"/><circle cx="157.9" cy="217.1" r="3.5"/><circle cx="188.9" cy="217.1" r="3.5"/><circle cx="147.6" cy="217.1" r="3.5"/><circle cx="161.4" cy="217.1" r="3.5"/><circle cx="162.6" cy="217.1" r="3.5"/><circle cx="187.7" cy="217.2" r="3.5"/><circle cx="144.9" cy="217.2" r="3.5"/><circle cx="143.1" cy="217.2" r="3.5"/><circle cx="146.2" cy="217.2" r="3.5"/><circle cx="201.9" cy="217.2" r="3.5"/><circle cx="167.6" cy="217.2" r="3.5"/><circle cx="160.9" cy="217.2" r="3.5"/><circle cx="209.9" cy="217.2" r="3.5"/><circle cx="200.6" cy="217.3" r="3.5"/><circle cx="153.4" cy="217.3" r="3.5"/><circle cx="202" cy="217.3" r="3.5"/><circle cx="202.1" cy="217.3" r="3.5"/><circle cx="196.6" cy="217.3" r="3.5"/><circle cx="207.4" cy="217.3" r="3.5"/><circle cx="168.1" cy="217.3" r="3.5"/><circle cx="158.5" cy="217.3" r="3.5"/><circle cx="164.9" cy="217.4" r="3.5"/><circle cx="156.4" cy="217.4" r="3.5"/><circle cx="145.2" cy="217.4" r="3.5"/><circle cx="188.7" cy="217.4" r="3.5"/><circle cx="165.1" cy="217.4" r="3.5"/><circle cx="162.4" cy="217.4" r="3.5"/><circle cx="149.3" cy="217.4" r="3.5"/><circle cx="194" cy="217.4" r="3.5"/><circle cx="210.8" cy="217.4" r="3.5"/><circle cx="198.9" cy="217.4" r="3.5"/><circle cx="203.1" cy="217.4" r="3.5"/><circle cx="209.3" cy="217.4" r="3.5"/><circle cx="168.1" cy="217.5" r="3.5"/><circle cx="202.3" cy="217.5" r="3.5"/><circle cx="165.8" cy="217.5" r="3.5"/><circle cx="159.2" cy="217.5" r="3.5"/><circle cx="165.3" cy="217.5" r="3.5"/><circle cx="106.8" cy="217.5" r="3.5"/><circle cx="211.2" cy="217.5" r="3.5"/><circle cx="157.6" cy="217.5" r="3.5"/><circle cx="204.9" cy="217.5" r="3.5"/><circle cx="142" cy="217.5" r="3.5"/><circle cx="164.8" cy="217.5" r="3.5"/><circle cx="209.2" cy="217.5" r="3.5"/><circle cx="144.7" cy="217.5" r="3.5"/><circle cx="144.8" cy="217.6" r="3.5"/><circle cx="201.3" cy="217.6" r="3.5"/><circle cx="186.1" cy="217.6" r="3.5"/><circle cx="157" cy="217.7" r="3.5"/><circle cx="216.5" cy="217.7" r="3.5"/><circle cx="164.4" cy="217.7" r="3.5"/><circle cx="200.5" cy="217.7" r="3.5"/><circle cx="153.5" cy="217.7" r="3.5"/><circle cx="157.3" cy="217.7" r="3.5"/><circle cx="207" cy="217.7" r="3.5"/><circle cx="152.7" cy="217.8" r="3.5"/><circle cx="165.8" cy="217.8" r="3.5"/><circle cx="222.5" cy="217.8" r="3.5"/><circle cx="157.7" cy="217.8" r="3.5"/><circle cx="145.1" cy="217.8" r="3.5"/><circle cx="153.6" cy="217.8" r="3.5"/><circle cx="195" cy="217.8" r="3.5"/><circle cx="200.6" cy="217.8" r="3.5"/><circle cx="196.3" cy="217.9" r="3.5"/><circle cx="194.9" cy="217.9" r="3.5"/><circle cx="166.4" cy="217.9" r="3.5"/><circle cx="156.3" cy="217.9" r="3.5"/><circle cx="211.1" cy="217.9" r="3.5"/><circle cx="203.7" cy="218" r="3.5"/><circle cx="207.5" cy="218" r="3.5"/><circle cx="144.1" cy="218" r="3.5"/><circle cx="190.7" cy="218" r="3.5"/><circle cx="199.9" cy="218" r="3.5"/><circle cx="158.1" cy="218" r="3.5"/><circle cx="163.8" cy="218" r="3.5"/><circle cx="209.9" cy="218" r="3.5"/><circle cx="155.3" cy="218" r="3.5"/><circle cx="154.4" cy="218" r="3.5"/><circle cx="192.2" cy="218" r="3.5"/><circle cx="166.3" cy="218.1" r="3.5"/><circle cx="142.5" cy="218.1" r="3.5"/><circle cx="154.6" cy="218.1" r="3.5"/><circle cx="199.2" cy="218.1" r="3.5"/><circle cx="143.7" cy="218.1" r="3.5"/><circle cx="149.6" cy="218.2" r="3.5"/><circle cx="152" cy="218.2" r="3.5"/><circle cx="152.3" cy="218.2" r="3.5"/><circle cx="168.7" cy="218.2" r="3.5"/><circle cx="151.2" cy="218.2" r="3.5"/><circle cx="195.6" cy="218.2" r="3.5"/><circle cx="163.6" cy="218.3" r="3.5"/><circle cx="208.3" cy="218.3" r="3.5"/><circle cx="141.7" cy="218.3" r="3.5"/><circle cx="142.2" cy="218.3" r="3.5"/><circle cx="143.1" cy="218.3" r="3.5"/><circle cx="206.6" cy="218.3" r="3.5"/><circle cx="186.2" cy="218.3" r="3.5"/><circle cx="164.8" cy="218.3" r="3.5"/><circle cx="141.6" cy="218.3" r="3.5"/><circle cx="200.9" cy="218.3" r="3.5"/><circle cx="145" cy="218.3" r="3.5"/><circle cx="161.5" cy="218.3" r="3.5"/><circle cx="138.4" cy="218.3" r="3.5"/><circle cx="187.5" cy="218.4" r="3.5"/><circle cx="147" cy="218.4" r="3.5"/><circle cx="204.1" cy="218.4" r="3.5"/><circle cx="192.9" cy="218.4" r="3.5"/><circle cx="149.3" cy="218.4" r="3.5"/><circle cx="135.5" cy="218.4" r="3.5"/><circle cx="197.8" cy="218.4" r="3.5"/><circle cx="207.8" cy="218.4" r="3.5"/><circle cx="165.9" cy="218.4" r="3.5"/><circle cx="145.9" cy="218.5" r="3.5"/><circle cx="145.6" cy="218.5" r="3.5"/><circle cx="186.7" cy="218.5" r="3.5"/><circle cx="145.8" cy="218.5" r="3.5"/><circle cx="166.1" cy="218.5" r="3.5"/><circle cx="168.3" cy="218.5" r="3.5"/><circle cx="211.1" cy="218.6" r="3.5"/><circle cx="188.9" cy="218.6" r="3.5"/><circle cx="164.4" cy="218.6" r="3.5"/><circle cx="200.5" cy="218.6" r="3.5"/><circle cx="145.1" cy="218.6" r="3.5"/><circle cx="141.7" cy="218.6" r="3.5"/><circle cx="197.3" cy="218.6" r="3.5"/><circle cx="144.1" cy="218.7" r="3.5"/><circle cx="162.8" cy="218.7" r="3.5"/><circle cx="187.7" cy="218.7" r="3.5"/><circle cx="150.7" cy="218.7" r="3.5"/><circle cx="196.5" cy="218.7" r="3.5"/><circle cx="167.1" cy="218.8" r="3.5"/><circle cx="156.1" cy="218.8" r="3.5"/><circle cx="144.3" cy="218.8" r="3.5"/><circle cx="169.1" cy="218.9" r="3.5"/><circle cx="157.2" cy="218.9" r="3.5"/><circle cx="150.1" cy="218.9" r="3.5"/><circle cx="128.1" cy="218.9" r="3.5"/><circle cx="188.7" cy="218.9" r="3.5"/><circle cx="151.5" cy="218.9" r="3.5"/><circle cx="210" cy="218.9" r="3.5"/><circle cx="195.9" cy="218.9" r="3.5"/><circle cx="143.4" cy="218.9" r="3.5"/><circle cx="189.3" cy="218.9" r="3.5"/><circle cx="187.7" cy="218.9" r="3.5"/><circle cx="150.3" cy="219" r="3.5"/><circle cx="144.4" cy="219" r="3.5"/><circle cx="192.4" cy="219" r="3.5"/><circle cx="159.7" cy="219" r="3.5"/><circle cx="187.2" cy="219" r="3.5"/><circle cx="208.1" cy="219" r="3.5"/><circle cx="142.9" cy="219" r="3.5"/><circle cx="144.4" cy="219" r="3.5"/><circle cx="163.5" cy="219" r="3.5"/><circle cx="187.7" cy="219" r="3.5"/><circle cx="200" cy="219" r="3.5"/><circle cx="190.5" cy="219" r="3.5"/><circle cx="149.6" cy="219" r="3.5"/><circle cx="210.5" cy="219.1" r="3.5"/><circle cx="151.4" cy="219.1" r="3.5"/><circle cx="144" cy="219.1" r="3.5"/><circle cx="206.8" cy="219.1" r="3.5"/><circle cx="142.8" cy="219.1" r="3.5"/><circle cx="159.7" cy="219.1" r="3.5"/><circle cx="143.2" cy="219.2" r="3.5"/><circle cx="142.5" cy="219.2" r="3.5"/><circle cx="152.2" cy="219.2" r="3.5"/><circle cx="153" cy="219.2" r="3.5"/><circle cx="163.5" cy="219.3" r="3.5"/><circle cx="189.1" cy="219.3" r="3.5"/><circle cx="199.3" cy="219.3" r="3.5"/><circle cx="195.3" cy="219.3" r="3.5"/><circle cx="209.8" cy="219.3" r="3.5"/><circle cx="188.9" cy="219.3" r="3.5"/><circle cx="141.2" cy="219.3" r="3.5"/><circle cx="168.6" cy="219.3" r="3.5"/><circle cx="209.9" cy="219.3" r="3.5"/><circle cx="150.5" cy="219.3" r="3.5"/><circle cx="210.8" cy="219.4" r="3.5"/><circle cx="161.1" cy="219.4" r="3.5"/><circle cx="148.2" cy="219.4" r="3.5"/><circle cx="156.3" cy="219.4" r="3.5"/><circle cx="149.7" cy="219.4" r="3.5"/><circle cx="141.7" cy="219.4" r="3.5"/><circle cx="208.5" cy="219.4" r="3.5"/><circle cx="159.9" cy="219.4" r="3.5"/><circle cx="210.9" cy="219.4" r="3.5"/><circle cx="155.3" cy="219.5" r="3.5"/><circle cx="150.1" cy="219.5" r="3.5"/><circle cx="202.7" cy="219.5" r="3.5"/><circle cx="208.6" cy="219.5" r="3.5"/><circle cx="200.9" cy="219.5" r="3.5"/><circle cx="190.9" cy="219.5" r="3.5"/><circle cx="208.8" cy="219.5" r="3.5"/><circle cx="165.8" cy="219.5" r="3.5"/><circle cx="158.9" cy="219.6" r="3.5"/><circle cx="187.4" cy="219.6" r="3.5"/><circle cx="147.3" cy="219.6" r="3.5"/><circle cx="203.2" cy="219.6" r="3.5"/><circle cx="209.2" cy="219.6" r="3.5"/><circle cx="188.4" cy="219.6" r="3.5"/><circle cx="194.4" cy="219.6" r="3.5"/><circle cx="145.8" cy="219.6" r="3.5"/><circle cx="150.4" cy="219.6" r="3.5"/><circle cx="152" cy="219.6" r="3.5"/><circle cx="188.1" cy="219.7" r="3.5"/><circle cx="211.7" cy="219.7" r="3.5"/><circle cx="151.1" cy="219.7" r="3.5"/><circle cx="157.4" cy="219.7" r="3.5"/><circle cx="189.3" cy="219.7" r="3.5"/><circle cx="192.5" cy="219.7" r="3.5"/><circle cx="203.7" cy="219.7" r="3.5"/><circle cx="162.4" cy="219.7" r="3.5"/><circle cx="156.1" cy="219.7" r="3.5"/><circle cx="206.9" cy="219.8" r="3.5"/><circle cx="193.8" cy="219.8" r="3.5"/><circle cx="189.4" cy="219.8" r="3.5"/><circle cx="157.8" cy="219.8" r="3.5"/><circle cx="151.2" cy="219.8" r="3.5"/><circle cx="200.8" cy="219.8" r="3.5"/><circle cx="205.8" cy="219.8" r="3.5"/><circle cx="212" cy="219.8" r="3.5"/><circle cx="168" cy="219.9" r="3.5"/><circle cx="191.9" cy="219.9" r="3.5"/><circle cx="205.5" cy="219.9" r="3.5"/><circle cx="188.8" cy="219.9" r="3.5"/><circle cx="203" cy="219.9" r="3.5"/><circle cx="200.7" cy="219.9" r="3.5"/><circle cx="147.5" cy="219.9" r="3.5"/><circle cx="153.3" cy="219.9" r="3.5"/><circle cx="141.8" cy="219.9" r="3.5"/><circle cx="151.3" cy="220" r="3.5"/><circle cx="164.5" cy="220" r="3.5"/><circle cx="153.1" cy="220" r="3.5"/><circle cx="212" cy="220" r="3.5"/><circle cx="207.8" cy="220" r="3.5"/><circle cx="211.6" cy="220" r="3.5"/><circle cx="165.7" cy="220" r="3.5"/><circle cx="149.1" cy="220" r="3.5"/><circle cx="203.9" cy="220" r="3.5"/><circle cx="157.8" cy="220" r="3.5"/><circle cx="142" cy="220.1" r="3.5"/><circle cx="186.5" cy="220.1" r="3.5"/><circle cx="203.8" cy="220.1" r="3.5"/><circle cx="210.6" cy="220.1" r="3.5"/><circle cx="160.3" cy="220.1" r="3.5"/><circle cx="204.7" cy="220.1" r="3.5"/><circle cx="188.8" cy="220.2" r="3.5"/><circle cx="159.6" cy="220.2" r="3.5"/><circle cx="167.4" cy="220.2" r="3.5"/><circle cx="205.1" cy="220.2" r="3.5"/><circle cx="208.9" cy="220.2" r="3.5"/><circle cx="166" cy="220.2" r="3.5"/><circle cx="150" cy="220.2" r="3.5"/><circle cx="149.8" cy="220.2" r="3.5"/><circle cx="150.7" cy="220.2" r="3.5"/><circle cx="209.7" cy="220.3" r="3.5"/><circle cx="191.2" cy="220.3" r="3.5"/><circle cx="230" cy="220.3" r="3.5"/><circle cx="192.9" cy="220.3" r="3.5"/><circle cx="144.5" cy="220.3" r="3.5"/><circle cx="209.6" cy="220.3" r="3.5"/><circle cx="142.8" cy="220.4" r="3.5"/><circle cx="161" cy="220.4" r="3.5"/><circle cx="201.5" cy="220.4" r="3.5"/><circle cx="144.4" cy="220.4" r="3.5"/><circle cx="163.4" cy="220.4" r="3.5"/><circle cx="200.6" cy="220.5" r="3.5"/><circle cx="167.7" cy="220.5" r="3.5"/><circle cx="206" cy="220.5" r="3.5"/><circle cx="165.6" cy="220.5" r="3.5"/><circle cx="199.8" cy="220.5" r="3.5"/><circle cx="149.2" cy="220.5" r="3.5"/><circle cx="198.2" cy="220.5" r="3.5"/><circle cx="189.1" cy="220.5" r="3.5"/><circle cx="159.2" cy="220.5" r="3.5"/><circle cx="190.8" cy="220.5" r="3.5"/><circle cx="169.2" cy="220.5" r="3.5"/><circle cx="156.7" cy="220.5" r="3.5"/><circle cx="187.4" cy="220.5" r="3.5"/><circle cx="211.9" cy="220.5" r="3.5"/><circle cx="144.4" cy="220.6" r="3.5"/><circle cx="188.9" cy="220.6" r="3.5"/><circle cx="145.4" cy="220.6" r="3.5"/><circle cx="194.4" cy="220.6" r="3.5"/><circle cx="163.6" cy="220.6" r="3.5"/><circle cx="165.8" cy="220.6" r="3.5"/><circle cx="206.8" cy="220.6" r="3.5"/><circle cx="191.1" cy="220.6" r="3.5"/><circle cx="211.5" cy="220.6" r="3.5"/><circle cx="198.6" cy="220.6" r="3.5"/><circle cx="202.5" cy="220.7" r="3.5"/><circle cx="154.2" cy="220.7" r="3.5"/><circle cx="134.8" cy="220.7" r="3.5"/><circle cx="122.1" cy="220.7" r="3.5"/><circle cx="152.1" cy="220.7" r="3.5"/><circle cx="151" cy="220.7" r="3.5"/><circle cx="195.8" cy="220.8" r="3.5"/><circle cx="194.8" cy="220.8" r="3.5"/><circle cx="146.9" cy="220.8" r="3.5"/><circle cx="199" cy="220.8" r="3.5"/><circle cx="188.4" cy="220.8" r="3.5"/><circle cx="168" cy="220.8" r="3.5"/><circle cx="208.9" cy="220.8" r="3.5"/><circle cx="209.1" cy="220.8" r="3.5"/><circle cx="148.7" cy="220.8" r="3.5"/><circle cx="141.7" cy="220.8" r="3.5"/><circle cx="142.5" cy="220.8" r="3.5"/><circle cx="209.9" cy="220.8" r="3.5"/><circle cx="150.9" cy="220.8" r="3.5"/><circle cx="197.6" cy="220.8" r="3.5"/><circle cx="158.5" cy="220.9" r="3.5"/><circle cx="206.5" cy="220.9" r="3.5"/><circle cx="211.3" cy="220.9" r="3.5"/><circle cx="136.7" cy="220.9" r="3.5"/><circle cx="147.7" cy="220.9" r="3.5"/><circle cx="187.5" cy="220.9" r="3.5"/><circle cx="189.1" cy="220.9" r="3.5"/><circle cx="160.6" cy="220.9" r="3.5"/><circle cx="155.4" cy="220.9" r="3.5"/><circle cx="149.7" cy="220.9" r="3.5"/><circle cx="145.3" cy="221" r="3.5"/><circle cx="164.8" cy="221" r="3.5"/><circle cx="188" cy="221" r="3.5"/><circle cx="202.2" cy="221" r="3.5"/><circle cx="169" cy="221" r="3.5"/><circle cx="196.7" cy="221" r="3.5"/><circle cx="147.9" cy="221.1" r="3.5"/><circle cx="200.2" cy="221.1" r="3.5"/><circle cx="199.7" cy="221.1" r="3.5"/><circle cx="205.1" cy="221.1" r="3.5"/><circle cx="136.2" cy="221.1" r="3.5"/><circle cx="198.2" cy="221.1" r="3.5"/><circle cx="191.6" cy="221.1" r="3.5"/><circle cx="207.9" cy="221.1" r="3.5"/><circle cx="194.8" cy="221.1" r="3.5"/><circle cx="147.2" cy="221.1" r="3.5"/><circle cx="167.4" cy="221.1" r="3.5"/><circle cx="165.2" cy="221.2" r="3.5"/><circle cx="193.1" cy="221.2" r="3.5"/><circle cx="151" cy="221.2" r="3.5"/><circle cx="190.9" cy="221.2" r="3.5"/><circle cx="210.2" cy="221.2" r="3.5"/><circle cx="166.3" cy="221.2" r="3.5"/><circle cx="137.9" cy="221.2" r="3.5"/><circle cx="158.9" cy="221.2" r="3.5"/><circle cx="145.3" cy="221.2" r="3.5"/><circle cx="163.7" cy="221.2" r="3.5"/><circle cx="155.8" cy="221.2" r="3.5"/><circle cx="153.3" cy="221.2" r="3.5"/><circle cx="158.3" cy="221.3" r="3.5"/><circle cx="158.5" cy="221.3" r="3.5"/><circle cx="188.8" cy="221.3" r="3.5"/><circle cx="159.4" cy="221.3" r="3.5"/><circle cx="155.7" cy="221.3" r="3.5"/><circle cx="155.5" cy="221.3" r="3.5"/><circle cx="158.2" cy="221.3" r="3.5"/><circle cx="161.7" cy="221.4" r="3.5"/><circle cx="189.5" cy="221.4" r="3.5"/><circle cx="152.6" cy="221.4" r="3.5"/><circle cx="144" cy="221.4" r="3.5"/><circle cx="192.9" cy="221.5" r="3.5"/><circle cx="221.7" cy="221.5" r="3.5"/><circle cx="193.1" cy="221.5" r="3.5"/><circle cx="165.8" cy="221.5" r="3.5"/><circle cx="209" cy="221.5" r="3.5"/><circle cx="151.3" cy="221.5" r="3.5"/><circle cx="154.2" cy="221.5" r="3.5"/><circle cx="151.9" cy="221.5" r="3.5"/><circle cx="148.8" cy="221.5" r="3.5"/><circle cx="211.4" cy="221.6" r="3.5"/><circle cx="146.2" cy="221.6" r="3.5"/><circle cx="145.6" cy="221.6" r="3.5"/><circle cx="166.3" cy="221.6" r="3.5"/><circle cx="146.5" cy="221.6" r="3.5"/><circle cx="202.5" cy="221.6" r="3.5"/><circle cx="197.8" cy="221.6" r="3.5"/><circle cx="141.8" cy="221.6" r="3.5"/><circle cx="152.9" cy="221.6" r="3.5"/><circle cx="156.5" cy="221.6" r="3.5"/><circle cx="136" cy="221.7" r="3.5"/><circle cx="155.5" cy="221.7" r="3.5"/><circle cx="149.5" cy="221.7" r="3.5"/><circle cx="142.1" cy="221.7" r="3.5"/><circle cx="146.4" cy="221.7" r="3.5"/><circle cx="160.8" cy="221.7" r="3.5"/><circle cx="210.6" cy="221.7" r="3.5"/><circle cx="208" cy="221.7" r="3.5"/><circle cx="165.7" cy="221.7" r="3.5"/><circle cx="154.7" cy="221.7" r="3.5"/><circle cx="198" cy="221.7" r="3.5"/><circle cx="133.8" cy="221.7" r="3.5"/><circle cx="201.5" cy="221.7" r="3.5"/><circle cx="168" cy="221.8" r="3.5"/><circle cx="198.9" cy="221.8" r="3.5"/><circle cx="154" cy="221.8" r="3.5"/><circle cx="209.4" cy="221.8" r="3.5"/><circle cx="187.6" cy="221.8" r="3.5"/><circle cx="150.3" cy="221.8" r="3.5"/><circle cx="194.3" cy="221.9" r="3.5"/><circle cx="194.5" cy="221.9" r="3.5"/><circle cx="208.9" cy="221.9" r="3.5"/><circle cx="206.4" cy="221.9" r="3.5"/><circle cx="166.6" cy="222" r="3.5"/><circle cx="168.9" cy="222" r="3.5"/><circle cx="204.3" cy="222" r="3.5"/><circle cx="158.1" cy="222" r="3.5"/><circle cx="190.5" cy="222" r="3.5"/><circle cx="159.2" cy="222" r="3.5"/><circle cx="146.5" cy="222" r="3.5"/><circle cx="154.7" cy="222" r="3.5"/><circle cx="190.1" cy="222" r="3.5"/><circle cx="165.7" cy="222" r="3.5"/><circle cx="209.3" cy="222" r="3.5"/><circle cx="157.7" cy="222.1" r="3.5"/><circle cx="146.7" cy="222.1" r="3.5"/><circle cx="140.7" cy="222.1" r="3.5"/><circle cx="152.6" cy="222.1" r="3.5"/><circle cx="205.1" cy="222.1" r="3.5"/><circle cx="168.1" cy="222.1" r="3.5"/><circle cx="161.3" cy="222.1" r="3.5"/><circle cx="149.4" cy="222.1" r="3.5"/><circle cx="207.6" cy="222.1" r="3.5"/><circle cx="200.2" cy="222.1" r="3.5"/><circle cx="157.7" cy="222.2" r="3.5"/><circle cx="145.5" cy="222.2" r="3.5"/><circle cx="150.3" cy="222.2" r="3.5"/><circle cx="162.6" cy="222.2" r="3.5"/><circle cx="195.3" cy="222.2" r="3.5"/><circle cx="159.4" cy="222.2" r="3.5"/><circle cx="209.2" cy="222.2" r="3.5"/><circle cx="202.9" cy="222.2" r="3.5"/><circle cx="168.3" cy="222.2" r="3.5"/><circle cx="207.4" cy="222.2" r="3.5"/><circle cx="141.5" cy="222.3" r="3.5"/><circle cx="166.1" cy="222.3" r="3.5"/><circle cx="154.5" cy="222.3" r="3.5"/><circle cx="208.4" cy="222.3" r="3.5"/><circle cx="157.2" cy="222.3" r="3.5"/><circle cx="188.2" cy="222.3" r="3.5"/><circle cx="202.2" cy="222.3" r="3.5"/><circle cx="168.5" cy="222.3" r="3.5"/><circle cx="192.8" cy="222.3" r="3.5"/><circle cx="202.4" cy="222.4" r="3.5"/><circle cx="209.9" cy="222.4" r="3.5"/><circle cx="199.8" cy="222.4" r="3.5"/><circle cx="208.6" cy="222.4" r="3.5"/><circle cx="140.1" cy="222.4" r="3.5"/><circle cx="147.5" cy="222.4" r="3.5"/><circle cx="150.5" cy="222.4" r="3.5"/><circle cx="190" cy="222.4" r="3.5"/><circle cx="168.6" cy="222.4" r="3.5"/><circle cx="208.8" cy="222.4" r="3.5"/><circle cx="165.3" cy="222.4" r="3.5"/><circle cx="208.3" cy="222.4" r="3.5"/><circle cx="146.1" cy="222.4" r="3.5"/><circle cx="156.4" cy="222.4" r="3.5"/><circle cx="206.8" cy="222.5" r="3.5"/><circle cx="189.2" cy="222.5" r="3.5"/><circle cx="148.3" cy="222.5" r="3.5"/><circle cx="167.5" cy="222.5" r="3.5"/><circle cx="165.9" cy="222.5" r="3.5"/><circle cx="155.2" cy="222.5" r="3.5"/><circle cx="199.8" cy="222.5" r="3.5"/><circle cx="186.2" cy="222.5" r="3.5"/><circle cx="159.9" cy="222.5" r="3.5"/><circle cx="160.3" cy="222.6" r="3.5"/><circle cx="160.3" cy="222.6" r="3.5"/><circle cx="190.9" cy="222.6" r="3.5"/><circle cx="150.5" cy="222.6" r="3.5"/><circle cx="146.5" cy="222.6" r="3.5"/><circle cx="161.8" cy="222.6" r="3.5"/><circle cx="164.9" cy="222.6" r="3.5"/><circle cx="202.4" cy="222.6" r="3.5"/><circle cx="193.1" cy="222.7" r="3.5"/><circle cx="200.5" cy="222.7" r="3.5"/><circle cx="160.6" cy="222.7" r="3.5"/><circle cx="195.1" cy="222.7" r="3.5"/><circle cx="198.4" cy="222.7" r="3.5"/><circle cx="162.1" cy="222.8" r="3.5"/><circle cx="156.8" cy="222.8" r="3.5"/><circle cx="204.1" cy="222.8" r="3.5"/><circle cx="147" cy="222.8" r="3.5"/><circle cx="143.7" cy="222.8" r="3.5"/><circle cx="212.9" cy="222.8" r="3.5"/><circle cx="159.2" cy="222.8" r="3.5"/><circle cx="157.4" cy="222.8" r="3.5"/><circle cx="207.6" cy="222.8" r="3.5"/><circle cx="204" cy="222.9" r="3.5"/><circle cx="146.9" cy="222.9" r="3.5"/><circle cx="153.2" cy="222.9" r="3.5"/><circle cx="144.4" cy="222.9" r="3.5"/><circle cx="202.9" cy="222.9" r="3.5"/><circle cx="186.9" cy="223" r="3.5"/><circle cx="165.5" cy="223" r="3.5"/><circle cx="195.4" cy="223" r="3.5"/><circle cx="195" cy="223" r="3.5"/><circle cx="165.1" cy="223" r="3.5"/><circle cx="143.6" cy="223" r="3.5"/><circle cx="204.1" cy="223" r="3.5"/><circle cx="204.2" cy="223" r="3.5"/><circle cx="212.2" cy="223.1" r="3.5"/><circle cx="191.2" cy="223.1" r="3.5"/><circle cx="215.6" cy="223.1" r="3.5"/><circle cx="145.7" cy="223.1" r="3.5"/><circle cx="150.3" cy="223.1" r="3.5"/><circle cx="157.4" cy="223.1" r="3.5"/><circle cx="190.9" cy="223.1" r="3.5"/><circle cx="157.1" cy="223.2" r="3.5"/><circle cx="168.6" cy="223.2" r="3.5"/><circle cx="205.4" cy="223.2" r="3.5"/><circle cx="158.3" cy="223.2" r="3.5"/><circle cx="166.4" cy="223.2" r="3.5"/><circle cx="161" cy="223.2" r="3.5"/><circle cx="156.4" cy="223.2" r="3.5"/><circle cx="211.3" cy="223.2" r="3.5"/><circle cx="166.2" cy="223.2" r="3.5"/><circle cx="152.5" cy="223.2" r="3.5"/><circle cx="205.3" cy="223.3" r="3.5"/><circle cx="151.5" cy="223.3" r="3.5"/><circle cx="162.1" cy="223.3" r="3.5"/><circle cx="206.7" cy="223.3" r="3.5"/><circle cx="147.1" cy="223.3" r="3.5"/><circle cx="190.6" cy="223.3" r="3.5"/><circle cx="154.8" cy="223.3" r="3.5"/><circle cx="142" cy="223.3" r="3.5"/><circle cx="155.3" cy="223.4" r="3.5"/><circle cx="205.8" cy="223.4" r="3.5"/><circle cx="143.1" cy="223.4" r="3.5"/><circle cx="167.8" cy="223.4" r="3.5"/><circle cx="157.8" cy="223.4" r="3.5"/><circle cx="207" cy="223.5" r="3.5"/><circle cx="143.3" cy="223.5" r="3.5"/><circle cx="155.6" cy="223.5" r="3.5"/><circle cx="192.8" cy="223.5" r="3.5"/><circle cx="197" cy="223.5" r="3.5"/><circle cx="199.6" cy="223.5" r="3.5"/><circle cx="166.2" cy="223.5" r="3.5"/><circle cx="212.1" cy="223.5" r="3.5"/><circle cx="205.2" cy="223.5" r="3.5"/><circle cx="166.1" cy="223.5" r="3.5"/><circle cx="146.3" cy="223.5" r="3.5"/><circle cx="186.6" cy="223.6" r="3.5"/><circle cx="190.5" cy="223.6" r="3.5"/><circle cx="148.7" cy="223.6" r="3.5"/><circle cx="169.3" cy="223.6" r="3.5"/><circle cx="151.3" cy="223.6" r="3.5"/><circle cx="195.9" cy="223.6" r="3.5"/><circle cx="204" cy="223.6" r="3.5"/><circle cx="165.3" cy="223.6" r="3.5"/><circle cx="188.7" cy="223.6" r="3.5"/><circle cx="208.5" cy="223.6" r="3.5"/><circle cx="204.6" cy="223.6" r="3.5"/><circle cx="159.9" cy="223.6" r="3.5"/><circle cx="190.6" cy="223.6" r="3.5"/><circle cx="143.2" cy="223.7" r="3.5"/><circle cx="156" cy="223.7" r="3.5"/><circle cx="142.8" cy="223.7" r="3.5"/><circle cx="167.7" cy="223.7" r="3.5"/><circle cx="205.7" cy="223.7" r="3.5"/><circle cx="201.9" cy="223.7" r="3.5"/><circle cx="207.2" cy="223.7" r="3.5"/><circle cx="165.5" cy="223.7" r="3.5"/><circle cx="133.7" cy="223.8" r="3.5"/><circle cx="213.8" cy="223.8" r="3.5"/><circle cx="211.2" cy="223.8" r="3.5"/><circle cx="156" cy="223.8" r="3.5"/><circle cx="211.2" cy="223.8" r="3.5"/><circle cx="197.4" cy="223.8" r="3.5"/><circle cx="161.3" cy="223.8" r="3.5"/><circle cx="209.9" cy="223.9" r="3.5"/><circle cx="160.4" cy="223.9" r="3.5"/><circle cx="193.8" cy="223.9" r="3.5"/><circle cx="165.6" cy="223.9" r="3.5"/><circle cx="211.5" cy="223.9" r="3.5"/><circle cx="191.7" cy="223.9" r="3.5"/><circle cx="150.1" cy="223.9" r="3.5"/><circle cx="161.9" cy="223.9" r="3.5"/><circle cx="202.2" cy="223.9" r="3.5"/><circle cx="160.8" cy="223.9" r="3.5"/><circle cx="155.5" cy="223.9" r="3.5"/><circle cx="215" cy="223.9" r="3.5"/><circle cx="205.3" cy="223.9" r="3.5"/><circle cx="197" cy="223.9" r="3.5"/><circle cx="190.4" cy="224" r="3.5"/><circle cx="210.6" cy="224" r="3.5"/><circle cx="196.8" cy="224" r="3.5"/><circle cx="199.2" cy="224" r="3.5"/><circle cx="153.1" cy="224" r="3.5"/><circle cx="146.1" cy="224" r="3.5"/><circle cx="186.2" cy="224" r="3.5"/><circle cx="165.9" cy="224" r="3.5"/><circle cx="169.2" cy="224" r="3.5"/><circle cx="145.8" cy="224" r="3.5"/><circle cx="153" cy="224" r="3.5"/><circle cx="161.8" cy="224" r="3.5"/><circle cx="152.6" cy="224" r="3.5"/><circle cx="166.7" cy="224" r="3.5"/><circle cx="148.7" cy="224.1" r="3.5"/><circle cx="144" cy="224.1" r="3.5"/><circle cx="187.4" cy="224.1" r="3.5"/><circle cx="168.6" cy="224.1" r="3.5"/><circle cx="190.5" cy="224.1" r="3.5"/><circle cx="203.4" cy="224.1" r="3.5"/><circle cx="144.5" cy="224.1" r="3.5"/><circle cx="202.5" cy="224.2" r="3.5"/><circle cx="199" cy="224.2" r="3.5"/><circle cx="186.9" cy="224.2" r="3.5"/><circle cx="140.1" cy="224.2" r="3.5"/><circle cx="186.6" cy="224.2" r="3.5"/><circle cx="194.5" cy="224.2" r="3.5"/><circle cx="213.1" cy="224.2" r="3.5"/><circle cx="160.9" cy="224.2" r="3.5"/><circle cx="197.1" cy="224.2" r="3.5"/><circle cx="141.7" cy="224.2" r="3.5"/><circle cx="146.2" cy="224.3" r="3.5"/><circle cx="198" cy="224.3" r="3.5"/><circle cx="194.3" cy="224.3" r="3.5"/><circle cx="210" cy="224.3" r="3.5"/><circle cx="192.6" cy="224.3" r="3.5"/><circle cx="150.6" cy="224.3" r="3.5"/><circle cx="149.5" cy="224.3" r="3.5"/><circle cx="197.3" cy="224.3" r="3.5"/><circle cx="212.3" cy="224.3" r="3.5"/><circle cx="149.3" cy="224.4" r="3.5"/><circle cx="220.9" cy="224.4" r="3.5"/><circle cx="202.9" cy="224.4" r="3.5"/><circle cx="167" cy="224.4" r="3.5"/><circle cx="162" cy="224.4" r="3.5"/><circle cx="152.9" cy="224.4" r="3.5"/><circle cx="145" cy="224.4" r="3.5"/><circle cx="151.6" cy="224.4" r="3.5"/><circle cx="146.7" cy="224.4" r="3.5"/><circle cx="160.5" cy="224.5" r="3.5"/><circle cx="162.2" cy="224.5" r="3.5"/><circle cx="206.3" cy="224.5" r="3.5"/><circle cx="210.3" cy="224.5" r="3.5"/><circle cx="150.6" cy="224.5" r="3.5"/><circle cx="193.9" cy="224.5" r="3.5"/><circle cx="161.7" cy="224.5" r="3.5"/><circle cx="147.5" cy="224.5" r="3.5"/><circle cx="108" cy="224.5" r="3.5"/><circle cx="141.9" cy="224.5" r="3.5"/><circle cx="196.6" cy="224.5" r="3.5"/><circle cx="200.1" cy="224.5" r="3.5"/><circle cx="203.9" cy="224.5" r="3.5"/><circle cx="212.3" cy="224.6" r="3.5"/><circle cx="199.4" cy="224.6" r="3.5"/><circle cx="134.6" cy="224.6" r="3.5"/><circle cx="197.9" cy="224.6" r="3.5"/><circle cx="198.6" cy="224.6" r="3.5"/><circle cx="142.4" cy="224.6" r="3.5"/><circle cx="150.7" cy="224.6" r="3.5"/><circle cx="155.6" cy="224.6" r="3.5"/><circle cx="164.8" cy="224.7" r="3.5"/><circle cx="200.9" cy="224.7" r="3.5"/><circle cx="149.8" cy="224.7" r="3.5"/><circle cx="166.7" cy="224.7" r="3.5"/><circle cx="145.3" cy="224.7" r="3.5"/><circle cx="160.7" cy="224.7" r="3.5"/><circle cx="206" cy="224.7" r="3.5"/><circle cx="203.6" cy="224.7" r="3.5"/><circle cx="142.2" cy="224.8" r="3.5"/><circle cx="122.1" cy="224.8" r="3.5"/><circle cx="160.2" cy="224.8" r="3.5"/><circle cx="199.8" cy="224.8" r="3.5"/><circle cx="199.1" cy="224.8" r="3.5"/><circle cx="146.4" cy="224.9" r="3.5"/><circle cx="218.6" cy="224.9" r="3.5"/><circle cx="163.8" cy="224.9" r="3.5"/><circle cx="209.3" cy="225" r="3.5"/><circle cx="208.2" cy="225" r="3.5"/><circle cx="196.1" cy="225" r="3.5"/><circle cx="147.8" cy="225" r="3.5"/><circle cx="152.2" cy="225" r="3.5"/><circle cx="163.8" cy="225" r="3.5"/><circle cx="210.4" cy="225" r="3.5"/><circle cx="142.1" cy="225" r="3.5"/><circle cx="207.3" cy="225" r="3.5"/><circle cx="130.5" cy="225" r="3.5"/><circle cx="207.3" cy="225" r="3.5"/><circle cx="192.3" cy="225" r="3.5"/><circle cx="189.1" cy="225.1" r="3.5"/><circle cx="196.3" cy="225.1" r="3.5"/><circle cx="151.1" cy="225.1" r="3.5"/><circle cx="192" cy="225.1" r="3.5"/><circle cx="189.3" cy="225.1" r="3.5"/><circle cx="186.8" cy="225.2" r="3.5"/><circle cx="203.9" cy="225.2" r="3.5"/><circle cx="193.3" cy="225.2" r="3.5"/><circle cx="205.6" cy="225.2" r="3.5"/><circle cx="199.5" cy="225.2" r="3.5"/><circle cx="151.9" cy="225.2" r="3.5"/><circle cx="162.8" cy="225.3" r="3.5"/><circle cx="134.8" cy="225.3" r="3.5"/><circle cx="193.9" cy="225.3" r="3.5"/><circle cx="213.2" cy="225.3" r="3.5"/><circle cx="140.1" cy="225.3" r="3.5"/><circle cx="213" cy="225.3" r="3.5"/><circle cx="147.8" cy="225.3" r="3.5"/><circle cx="127" cy="225.3" r="3.5"/><circle cx="155.8" cy="225.3" r="3.5"/><circle cx="206.8" cy="225.3" r="3.5"/><circle cx="193.9" cy="225.4" r="3.5"/><circle cx="209.3" cy="225.4" r="3.5"/><circle cx="149.9" cy="225.4" r="3.5"/><circle cx="158.3" cy="225.4" r="3.5"/><circle cx="190.3" cy="225.4" r="3.5"/><circle cx="212.4" cy="225.4" r="3.5"/><circle cx="163.4" cy="225.4" r="3.5"/><circle cx="150.2" cy="225.4" r="3.5"/><circle cx="193.4" cy="225.4" r="3.5"/><circle cx="164.4" cy="225.4" r="3.5"/><circle cx="158.7" cy="225.4" r="3.5"/><circle cx="152.4" cy="225.4" r="3.5"/><circle cx="204.9" cy="225.4" r="3.5"/><circle cx="148.2" cy="225.4" r="3.5"/><circle cx="192.9" cy="225.5" r="3.5"/><circle cx="141" cy="225.5" r="3.5"/><circle cx="150.7" cy="225.5" r="3.5"/><circle cx="199.5" cy="225.5" r="3.5"/><circle cx="143.1" cy="225.5" r="3.5"/><circle cx="154.9" cy="225.5" r="3.5"/><circle cx="141.4" cy="225.5" r="3.5"/><circle cx="204" cy="225.5" r="3.5"/><circle cx="202.8" cy="225.5" r="3.5"/><circle cx="204" cy="225.5" r="3.5"/><circle cx="191.8" cy="225.6" r="3.5"/><circle cx="140.4" cy="225.6" r="3.5"/><circle cx="190.9" cy="225.6" r="3.5"/><circle cx="155.4" cy="225.6" r="3.5"/><circle cx="208.1" cy="225.6" r="3.5"/><circle cx="207" cy="225.6" r="3.5"/><circle cx="191.2" cy="225.6" r="3.5"/><circle cx="156.7" cy="225.6" r="3.5"/><circle cx="145.5" cy="225.6" r="3.5"/><circle cx="159.3" cy="225.6" r="3.5"/><circle cx="188.9" cy="225.6" r="3.5"/><circle cx="199.6" cy="225.6" r="3.5"/><circle cx="141.1" cy="225.6" r="3.5"/><circle cx="141.8" cy="225.6" r="3.5"/><circle cx="141.9" cy="225.6" r="3.5"/><circle cx="197.9" cy="225.6" r="3.5"/><circle cx="192.3" cy="225.6" r="3.5"/><circle cx="162" cy="225.6" r="3.5"/><circle cx="149.7" cy="225.6" r="3.5"/><circle cx="168.2" cy="225.7" r="3.5"/><circle cx="162" cy="225.7" r="3.5"/><circle cx="203.4" cy="225.7" r="3.5"/><circle cx="208" cy="225.7" r="3.5"/><circle cx="154.3" cy="225.7" r="3.5"/><circle cx="195.2" cy="225.7" r="3.5"/><circle cx="156.7" cy="225.7" r="3.5"/><circle cx="141.3" cy="225.7" r="3.5"/><circle cx="190.6" cy="225.7" r="3.5"/><circle cx="211" cy="225.7" r="3.5"/><circle cx="223" cy="225.7" r="3.5"/><circle cx="206.5" cy="225.7" r="3.5"/><circle cx="207.3" cy="225.7" r="3.5"/><circle cx="160" cy="225.8" r="3.5"/><circle cx="196.4" cy="225.8" r="3.5"/><circle cx="140.5" cy="225.8" r="3.5"/><circle cx="167.1" cy="225.8" r="3.5"/><circle cx="117" cy="225.8" r="3.5"/><circle cx="213.2" cy="225.8" r="3.5"/><circle cx="217.4" cy="225.8" r="3.5"/><circle cx="209.3" cy="225.8" r="3.5"/><circle cx="212.3" cy="225.8" r="3.5"/><circle cx="159" cy="225.8" r="3.5"/><circle cx="158.6" cy="225.9" r="3.5"/><circle cx="195.9" cy="225.9" r="3.5"/><circle cx="195.4" cy="225.9" r="3.5"/><circle cx="143.5" cy="225.9" r="3.5"/><circle cx="199" cy="225.9" r="3.5"/><circle cx="202.2" cy="225.9" r="3.5"/><circle cx="152.3" cy="226" r="3.5"/><circle cx="153.5" cy="226" r="3.5"/><circle cx="144.2" cy="226" r="3.5"/><circle cx="195.5" cy="226" r="3.5"/><circle cx="200.8" cy="226" r="3.5"/><circle cx="191.8" cy="226" r="3.5"/><circle cx="146.2" cy="226.1" r="3.5"/><circle cx="201.8" cy="226.1" r="3.5"/><circle cx="143.5" cy="226.1" r="3.5"/><circle cx="206.5" cy="226.1" r="3.5"/><circle cx="152.1" cy="226.1" r="3.5"/><circle cx="207.1" cy="226.1" r="3.5"/><circle cx="145.6" cy="226.1" r="3.5"/><circle cx="208.3" cy="226.1" r="3.5"/><circle cx="152.4" cy="226.1" r="3.5"/><circle cx="195.9" cy="226.1" r="3.5"/><circle cx="189.6" cy="226.2" r="3.5"/><circle cx="165.7" cy="226.2" r="3.5"/><circle cx="155.6" cy="226.2" r="3.5"/><circle cx="141" cy="226.2" r="3.5"/><circle cx="150.9" cy="226.2" r="3.5"/><circle cx="211.2" cy="226.2" r="3.5"/><circle cx="194.6" cy="226.2" r="3.5"/><circle cx="147" cy="226.2" r="3.5"/><circle cx="193.8" cy="226.2" r="3.5"/><circle cx="143.9" cy="226.2" r="3.5"/><circle cx="144.6" cy="226.2" r="3.5"/><circle cx="203.7" cy="226.3" r="3.5"/><circle cx="158.1" cy="226.3" r="3.5"/><circle cx="126.9" cy="226.3" r="3.5"/><circle cx="145" cy="226.3" r="3.5"/><circle cx="197.6" cy="226.3" r="3.5"/><circle cx="165.9" cy="226.3" r="3.5"/><circle cx="188.2" cy="226.3" r="3.5"/><circle cx="208.9" cy="226.3" r="3.5"/><circle cx="158.9" cy="226.3" r="3.5"/><circle cx="149.9" cy="226.3" r="3.5"/><circle cx="166.4" cy="226.3" r="3.5"/><circle cx="197.2" cy="226.3" r="3.5"/><circle cx="201.7" cy="226.3" r="3.5"/><circle cx="209.5" cy="226.3" r="3.5"/><circle cx="207.1" cy="226.3" r="3.5"/><circle cx="154.6" cy="226.3" r="3.5"/><circle cx="189.6" cy="226.3" r="3.5"/><circle cx="132.2" cy="226.3" r="3.5"/><circle cx="145.9" cy="226.3" r="3.5"/><circle cx="196.7" cy="226.3" r="3.5"/><circle cx="193.1" cy="226.3" r="3.5"/><circle cx="154.2" cy="226.4" r="3.5"/><circle cx="209.6" cy="226.4" r="3.5"/><circle cx="141.4" cy="226.4" r="3.5"/><circle cx="205.5" cy="226.4" r="3.5"/><circle cx="205.2" cy="226.4" r="3.5"/><circle cx="144" cy="226.4" r="3.5"/><circle cx="162.6" cy="226.4" r="3.5"/><circle cx="145.9" cy="226.4" r="3.5"/><circle cx="186.4" cy="226.5" r="3.5"/><circle cx="152.4" cy="226.5" r="3.5"/><circle cx="203.2" cy="226.5" r="3.5"/><circle cx="199.2" cy="226.5" r="3.5"/><circle cx="156.9" cy="226.5" r="3.5"/><circle cx="153.1" cy="226.5" r="3.5"/><circle cx="156.1" cy="226.5" r="3.5"/><circle cx="143.3" cy="226.5" r="3.5"/><circle cx="211.3" cy="226.5" r="3.5"/><circle cx="146" cy="226.5" r="3.5"/><circle cx="188.1" cy="226.5" r="3.5"/><circle cx="161.7" cy="226.5" r="3.5"/><circle cx="204.6" cy="226.6" r="3.5"/><circle cx="206" cy="226.6" r="3.5"/><circle cx="160.3" cy="226.6" r="3.5"/><circle cx="143.2" cy="226.6" r="3.5"/><circle cx="211.4" cy="226.6" r="3.5"/><circle cx="160.9" cy="226.6" r="3.5"/><circle cx="209.2" cy="226.6" r="3.5"/><circle cx="199.6" cy="226.6" r="3.5"/><circle cx="205.9" cy="226.7" r="3.5"/><circle cx="155.9" cy="226.7" r="3.5"/><circle cx="191.9" cy="226.7" r="3.5"/><circle cx="142.7" cy="226.7" r="3.5"/><circle cx="163.4" cy="226.7" r="3.5"/><circle cx="146.4" cy="226.7" r="3.5"/><circle cx="213.7" cy="226.7" r="3.5"/><circle cx="198.9" cy="226.7" r="3.5"/><circle cx="159.3" cy="226.7" r="3.5"/><circle cx="193.6" cy="226.7" r="3.5"/><circle cx="158" cy="226.7" r="3.5"/><circle cx="155.4" cy="226.8" r="3.5"/><circle cx="145.7" cy="226.8" r="3.5"/><circle cx="190.9" cy="226.8" r="3.5"/><circle cx="154.7" cy="226.8" r="3.5"/><circle cx="163" cy="226.8" r="3.5"/><circle cx="152.6" cy="226.8" r="3.5"/><circle cx="156.9" cy="226.8" r="3.5"/><circle cx="210.6" cy="226.8" r="3.5"/><circle cx="196.3" cy="226.9" r="3.5"/><circle cx="187.9" cy="226.9" r="3.5"/><circle cx="208.6" cy="226.9" r="3.5"/><circle cx="190.6" cy="226.9" r="3.5"/><circle cx="156.6" cy="226.9" r="3.5"/><circle cx="140.7" cy="226.9" r="3.5"/><circle cx="212.9" cy="227" r="3.5"/><circle cx="153.2" cy="227" r="3.5"/><circle cx="167.2" cy="227" r="3.5"/><circle cx="160" cy="227" r="3.5"/><circle cx="210.9" cy="227" r="3.5"/><circle cx="209.7" cy="227" r="3.5"/><circle cx="157.5" cy="227" r="3.5"/><circle cx="195" cy="227" r="3.5"/><circle cx="194.4" cy="227" r="3.5"/><circle cx="152.7" cy="227.1" r="3.5"/><circle cx="209.4" cy="227.1" r="3.5"/><circle cx="165.8" cy="227.1" r="3.5"/><circle cx="187.7" cy="227.1" r="3.5"/><circle cx="168.1" cy="227.1" r="3.5"/><circle cx="160.5" cy="227.1" r="3.5"/><circle cx="204.9" cy="227.1" r="3.5"/><circle cx="197.9" cy="227.1" r="3.5"/><circle cx="156.5" cy="227.1" r="3.5"/><circle cx="210.8" cy="227.1" r="3.5"/><circle cx="158.2" cy="227.1" r="3.5"/><circle cx="141.7" cy="227.2" r="3.5"/><circle cx="190" cy="227.2" r="3.5"/><circle cx="190.2" cy="227.2" r="3.5"/><circle cx="154.4" cy="227.2" r="3.5"/><circle cx="155.1" cy="227.2" r="3.5"/><circle cx="148.6" cy="227.2" r="3.5"/><circle cx="156.4" cy="227.2" r="3.5"/><circle cx="203.8" cy="227.2" r="3.5"/><circle cx="148.7" cy="227.3" r="3.5"/><circle cx="150.4" cy="227.3" r="3.5"/><circle cx="155.4" cy="227.3" r="3.5"/><circle cx="208.9" cy="227.3" r="3.5"/><circle cx="161.3" cy="227.3" r="3.5"/><circle cx="145.9" cy="227.3" r="3.5"/><circle cx="210" cy="227.3" r="3.5"/><circle cx="212.6" cy="227.3" r="3.5"/><circle cx="199.9" cy="227.3" r="3.5"/><circle cx="149.2" cy="227.4" r="3.5"/><circle cx="144" cy="227.4" r="3.5"/><circle cx="204.6" cy="227.4" r="3.5"/><circle cx="143" cy="227.4" r="3.5"/><circle cx="140.7" cy="227.4" r="3.5"/><circle cx="186.9" cy="227.4" r="3.5"/><circle cx="204.9" cy="227.4" r="3.5"/><circle cx="213.7" cy="227.4" r="3.5"/><circle cx="197" cy="227.4" r="3.5"/><circle cx="194.8" cy="227.5" r="3.5"/><circle cx="190.9" cy="227.5" r="3.5"/><circle cx="195" cy="227.5" r="3.5"/><circle cx="144.8" cy="227.5" r="3.5"/><circle cx="197.8" cy="227.5" r="3.5"/><circle cx="122.9" cy="227.5" r="3.5"/><circle cx="150.3" cy="227.5" r="3.5"/><circle cx="193.2" cy="227.5" r="3.5"/><circle cx="196.4" cy="227.5" r="3.5"/><circle cx="140.1" cy="227.5" r="3.5"/><circle cx="135.8" cy="227.5" r="3.5"/><circle cx="155.9" cy="227.5" r="3.5"/><circle cx="164.8" cy="227.5" r="3.5"/><circle cx="167.9" cy="227.5" r="3.5"/><circle cx="197.6" cy="227.6" r="3.5"/><circle cx="160.9" cy="227.6" r="3.5"/><circle cx="194" cy="227.6" r="3.5"/><circle cx="192.7" cy="227.6" r="3.5"/><circle cx="140.4" cy="227.6" r="3.5"/><circle cx="199.6" cy="227.6" r="3.5"/><circle cx="144.6" cy="227.6" r="3.5"/><circle cx="206.1" cy="227.6" r="3.5"/><circle cx="167.8" cy="227.6" r="3.5"/><circle cx="147.4" cy="227.6" r="3.5"/><circle cx="193.1" cy="227.6" r="3.5"/><circle cx="201.3" cy="227.7" r="3.5"/><circle cx="207.3" cy="227.7" r="3.5"/><circle cx="190.9" cy="227.7" r="3.5"/><circle cx="193" cy="227.7" r="3.5"/><circle cx="222" cy="227.7" r="3.5"/><circle cx="142.5" cy="227.7" r="3.5"/><circle cx="141.9" cy="227.7" r="3.5"/><circle cx="210.8" cy="227.7" r="3.5"/><circle cx="160.9" cy="227.7" r="3.5"/><circle cx="154" cy="227.8" r="3.5"/><circle cx="156.9" cy="227.8" r="3.5"/><circle cx="147.4" cy="227.8" r="3.5"/><circle cx="147.9" cy="227.8" r="3.5"/><circle cx="212.1" cy="227.8" r="3.5"/><circle cx="205.7" cy="227.8" r="3.5"/><circle cx="142.9" cy="227.8" r="3.5"/><circle cx="151" cy="227.8" r="3.5"/><circle cx="157.9" cy="227.8" r="3.5"/><circle cx="197.2" cy="227.8" r="3.5"/><circle cx="141" cy="227.8" r="3.5"/><circle cx="145.1" cy="227.9" r="3.5"/><circle cx="150.1" cy="227.9" r="3.5"/><circle cx="148.5" cy="227.9" r="3.5"/><circle cx="200.2" cy="227.9" r="3.5"/><circle cx="142.7" cy="227.9" r="3.5"/><circle cx="168.2" cy="227.9" r="3.5"/><circle cx="162" cy="227.9" r="3.5"/><circle cx="216.6" cy="227.9" r="3.5"/><circle cx="155.2" cy="227.9" r="3.5"/><circle cx="196.4" cy="228" r="3.5"/><circle cx="149.4" cy="228" r="3.5"/><circle cx="155.3" cy="228" r="3.5"/><circle cx="166.9" cy="228" r="3.5"/><circle cx="157.6" cy="228" r="3.5"/><circle cx="202.3" cy="228" r="3.5"/><circle cx="202.6" cy="228" r="3.5"/><circle cx="211.6" cy="228" r="3.5"/><circle cx="199.7" cy="228" r="3.5"/><circle cx="213.3" cy="228" r="3.5"/><circle cx="210.2" cy="228" r="3.5"/><circle cx="201.8" cy="228" r="3.5"/><circle cx="155.9" cy="228" r="3.5"/><circle cx="138.5" cy="228.1" r="3.5"/><circle cx="161.6" cy="228.1" r="3.5"/><circle cx="195.9" cy="228.1" r="3.5"/><circle cx="150.9" cy="228.1" r="3.5"/><circle cx="142.9" cy="228.1" r="3.5"/><circle cx="162.3" cy="228.1" r="3.5"/><circle cx="211.9" cy="228.1" r="3.5"/><circle cx="210.4" cy="228.1" r="3.5"/><circle cx="200.7" cy="228.1" r="3.5"/><circle cx="145.4" cy="228.1" r="3.5"/><circle cx="147" cy="228.1" r="3.5"/><circle cx="159.9" cy="228.1" r="3.5"/><circle cx="187" cy="228.1" r="3.5"/><circle cx="155.4" cy="228.1" r="3.5"/><circle cx="162.1" cy="228.2" r="3.5"/><circle cx="195.6" cy="228.2" r="3.5"/><circle cx="208.4" cy="228.2" r="3.5"/><circle cx="198.4" cy="228.2" r="3.5"/><circle cx="201.7" cy="228.2" r="3.5"/><circle cx="208.5" cy="228.2" r="3.5"/><circle cx="209.7" cy="228.2" r="3.5"/><circle cx="144.6" cy="228.3" r="3.5"/><circle cx="206.8" cy="228.3" r="3.5"/><circle cx="160.6" cy="228.3" r="3.5"/><circle cx="188.9" cy="228.3" r="3.5"/><circle cx="201.3" cy="228.3" r="3.5"/><circle cx="209.6" cy="228.3" r="3.5"/><circle cx="208.5" cy="228.3" r="3.5"/><circle cx="201" cy="228.3" r="3.5"/><circle cx="154" cy="228.3" r="3.5"/><circle cx="193.5" cy="228.3" r="3.5"/><circle cx="191.8" cy="228.3" r="3.5"/><circle cx="211.5" cy="228.4" r="3.5"/><circle cx="188.6" cy="228.4" r="3.5"/><circle cx="155.2" cy="228.4" r="3.5"/><circle cx="145.4" cy="228.4" r="3.5"/><circle cx="200.2" cy="228.4" r="3.5"/><circle cx="196.6" cy="228.4" r="3.5"/><circle cx="206" cy="228.4" r="3.5"/><circle cx="163.1" cy="228.4" r="3.5"/><circle cx="193.5" cy="228.4" r="3.5"/><circle cx="142.7" cy="228.5" r="3.5"/><circle cx="167.4" cy="228.5" r="3.5"/><circle cx="151.9" cy="228.5" r="3.5"/><circle cx="187.3" cy="228.5" r="3.5"/><circle cx="153.5" cy="228.5" r="3.5"/><circle cx="195.9" cy="228.5" r="3.5"/><circle cx="139.4" cy="228.5" r="3.5"/><circle cx="202" cy="228.5" r="3.5"/><circle cx="152.7" cy="228.6" r="3.5"/><circle cx="168.4" cy="228.6" r="3.5"/><circle cx="205.4" cy="228.6" r="3.5"/><circle cx="158.5" cy="228.6" r="3.5"/><circle cx="155" cy="228.6" r="3.5"/><circle cx="210.9" cy="228.6" r="3.5"/><circle cx="156.5" cy="228.6" r="3.5"/><circle cx="200.3" cy="228.6" r="3.5"/><circle cx="186.3" cy="228.6" r="3.5"/><circle cx="151.2" cy="228.6" r="3.5"/><circle cx="207.7" cy="228.7" r="3.5"/><circle cx="161.9" cy="228.7" r="3.5"/><circle cx="211.4" cy="228.7" r="3.5"/><circle cx="209.5" cy="228.7" r="3.5"/><circle cx="162.6" cy="228.7" r="3.5"/><circle cx="142.4" cy="228.7" r="3.5"/><circle cx="206.2" cy="228.7" r="3.5"/><circle cx="146.1" cy="228.7" r="3.5"/><circle cx="199" cy="228.7" r="3.5"/><circle cx="156.2" cy="228.7" r="3.5"/><circle cx="156.1" cy="228.7" r="3.5"/><circle cx="200.8" cy="228.8" r="3.5"/><circle cx="144" cy="228.8" r="3.5"/><circle cx="139.6" cy="228.8" r="3.5"/><circle cx="165.8" cy="228.8" r="3.5"/><circle cx="188.2" cy="228.8" r="3.5"/><circle cx="193" cy="228.8" r="3.5"/><circle cx="161" cy="228.8" r="3.5"/><circle cx="156.6" cy="228.8" r="3.5"/><circle cx="165.1" cy="228.8" r="3.5"/><circle cx="167.6" cy="228.8" r="3.5"/><circle cx="144.7" cy="228.9" r="3.5"/><circle cx="213" cy="228.9" r="3.5"/><circle cx="192.3" cy="228.9" r="3.5"/><circle cx="168.8" cy="228.9" r="3.5"/><circle cx="153.8" cy="228.9" r="3.5"/><circle cx="207.5" cy="228.9" r="3.5"/><circle cx="206.5" cy="228.9" r="3.5"/><circle cx="211.7" cy="229" r="3.5"/><circle cx="196.3" cy="229" r="3.5"/><circle cx="144.3" cy="229" r="3.5"/><circle cx="187.1" cy="229" r="3.5"/><circle cx="200" cy="229" r="3.5"/><circle cx="194.7" cy="229" r="3.5"/><circle cx="161.8" cy="229" r="3.5"/><circle cx="187.4" cy="229" r="3.5"/><circle cx="190.9" cy="229" r="3.5"/><circle cx="189.2" cy="229" r="3.5"/><circle cx="158.7" cy="229" r="3.5"/><circle cx="157.3" cy="229.1" r="3.5"/><circle cx="167" cy="229.1" r="3.5"/><circle cx="197.6" cy="229.1" r="3.5"/><circle cx="208.5" cy="229.1" r="3.5"/><circle cx="206.5" cy="229.1" r="3.5"/><circle cx="154" cy="229.1" r="3.5"/><circle cx="148.3" cy="229.1" r="3.5"/><circle cx="187.9" cy="229.1" r="3.5"/><circle cx="141.6" cy="229.2" r="3.5"/><circle cx="162.3" cy="229.2" r="3.5"/><circle cx="159.4" cy="229.2" r="3.5"/><circle cx="211.1" cy="229.2" r="3.5"/><circle cx="166.4" cy="229.2" r="3.5"/><circle cx="142.8" cy="229.2" r="3.5"/><circle cx="167.9" cy="229.2" r="3.5"/><circle cx="159.7" cy="229.2" r="3.5"/><circle cx="150.3" cy="229.2" r="3.5"/><circle cx="187" cy="229.2" r="3.5"/><circle cx="201.1" cy="229.3" r="3.5"/><circle cx="208.1" cy="229.3" r="3.5"/><circle cx="199.5" cy="229.3" r="3.5"/><circle cx="148.2" cy="229.3" r="3.5"/><circle cx="211.3" cy="229.3" r="3.5"/><circle cx="192" cy="229.3" r="3.5"/><circle cx="233.6" cy="229.3" r="3.5"/><circle cx="156.6" cy="229.3" r="3.5"/><circle cx="214" cy="229.3" r="3.5"/><circle cx="163.4" cy="229.3" r="3.5"/><circle cx="154.5" cy="229.3" r="3.5"/><circle cx="139.5" cy="229.4" r="3.5"/><circle cx="213.8" cy="229.4" r="3.5"/><circle cx="189.4" cy="229.4" r="3.5"/><circle cx="156.3" cy="229.4" r="3.5"/><circle cx="211.6" cy="229.4" r="3.5"/><circle cx="200.4" cy="229.4" r="3.5"/><circle cx="190.3" cy="229.4" r="3.5"/><circle cx="112" cy="229.4" r="3.5"/><circle cx="166.6" cy="229.4" r="3.5"/><circle cx="166.1" cy="229.4" r="3.5"/><circle cx="153.8" cy="229.4" r="3.5"/><circle cx="141" cy="229.4" r="3.5"/><circle cx="157.7" cy="229.4" r="3.5"/><circle cx="189.6" cy="229.5" r="3.5"/><circle cx="157.9" cy="229.5" r="3.5"/><circle cx="145.3" cy="229.5" r="3.5"/><circle cx="199" cy="229.5" r="3.5"/><circle cx="194" cy="229.5" r="3.5"/><circle cx="131" cy="229.5" r="3.5"/><circle cx="212.8" cy="229.5" r="3.5"/><circle cx="150" cy="229.5" r="3.5"/><circle cx="206.9" cy="229.5" r="3.5"/><circle cx="143.9" cy="229.5" r="3.5"/><circle cx="187.4" cy="229.5" r="3.5"/><circle cx="156.2" cy="229.6" r="3.5"/><circle cx="197.1" cy="229.6" r="3.5"/><circle cx="151.2" cy="229.6" r="3.5"/><circle cx="197.7" cy="229.6" r="3.5"/><circle cx="147.6" cy="229.6" r="3.5"/><circle cx="210.7" cy="229.7" r="3.5"/><circle cx="203.4" cy="229.7" r="3.5"/><circle cx="140.9" cy="229.7" r="3.5"/><circle cx="141.7" cy="229.7" r="3.5"/><circle cx="195.1" cy="229.7" r="3.5"/><circle cx="157.4" cy="229.7" r="3.5"/><circle cx="151.8" cy="229.7" r="3.5"/><circle cx="141.4" cy="229.7" r="3.5"/><circle cx="195.3" cy="229.7" r="3.5"/><circle cx="149.5" cy="229.7" r="3.5"/><circle cx="214.2" cy="229.7" r="3.5"/><circle cx="135" cy="229.7" r="3.5"/><circle cx="199.8" cy="229.7" r="3.5"/><circle cx="151.6" cy="229.8" r="3.5"/><circle cx="195.6" cy="229.8" r="3.5"/><circle cx="162.9" cy="229.8" r="3.5"/><circle cx="189.3" cy="229.8" r="3.5"/><circle cx="195" cy="229.8" r="3.5"/><circle cx="200" cy="229.8" r="3.5"/><circle cx="210.9" cy="229.8" r="3.5"/><circle cx="210.5" cy="229.8" r="3.5"/><circle cx="209.3" cy="229.8" r="3.5"/><circle cx="148.5" cy="229.9" r="3.5"/><circle cx="149.5" cy="229.9" r="3.5"/><circle cx="158.1" cy="229.9" r="3.5"/><circle cx="204.1" cy="229.9" r="3.5"/><circle cx="153.3" cy="229.9" r="3.5"/><circle cx="188.7" cy="229.9" r="3.5"/><circle cx="154" cy="229.9" r="3.5"/><circle cx="210.7" cy="229.9" r="3.5"/><circle cx="147.7" cy="229.9" r="3.5"/><circle cx="203.7" cy="229.9" r="3.5"/><circle cx="191.1" cy="229.9" r="3.5"/><circle cx="199.7" cy="229.9" r="3.5"/><circle cx="158" cy="230" r="3.5"/><circle cx="205.6" cy="230" r="3.5"/><circle cx="158.3" cy="230" r="3.5"/><circle cx="197.7" cy="230" r="3.5"/><circle cx="210.1" cy="230" r="3.5"/><circle cx="167.8" cy="230" r="3.5"/><circle cx="199.2" cy="230" r="3.5"/><circle cx="159.3" cy="230" r="3.5"/><circle cx="195.2" cy="230" r="3.5"/><circle cx="188" cy="230" r="3.5"/><circle cx="211.3" cy="230" r="3.5"/><circle cx="188.7" cy="230" r="3.5"/><circle cx="207.9" cy="230" r="3.5"/><circle cx="193.9" cy="230" r="3.5"/><circle cx="210.4" cy="230.1" r="3.5"/><circle cx="163.9" cy="230.1" r="3.5"/><circle cx="210.3" cy="230.1" r="3.5"/><circle cx="199.9" cy="230.1" r="3.5"/><circle cx="141" cy="230.1" r="3.5"/><circle cx="139.7" cy="230.1" r="3.5"/><circle cx="203" cy="230.1" r="3.5"/><circle cx="146.7" cy="230.1" r="3.5"/><circle cx="120.3" cy="230.1" r="3.5"/><circle cx="140.4" cy="230.2" r="3.5"/><circle cx="198.7" cy="230.2" r="3.5"/><circle cx="146.9" cy="230.2" r="3.5"/><circle cx="193.2" cy="230.2" r="3.5"/><circle cx="208.1" cy="230.2" r="3.5"/><circle cx="149" cy="230.2" r="3.5"/><circle cx="167.1" cy="230.2" r="3.5"/><circle cx="205.7" cy="230.2" r="3.5"/><circle cx="148.5" cy="230.2" r="3.5"/><circle cx="146.8" cy="230.2" r="3.5"/><circle cx="144.9" cy="230.3" r="3.5"/><circle cx="145.7" cy="230.3" r="3.5"/><circle cx="189.4" cy="230.3" r="3.5"/><circle cx="166.2" cy="230.3" r="3.5"/><circle cx="164" cy="230.3" r="3.5"/><circle cx="190.7" cy="230.3" r="3.5"/><circle cx="163.9" cy="230.3" r="3.5"/><circle cx="199.2" cy="230.3" r="3.5"/><circle cx="146.3" cy="230.3" r="3.5"/><circle cx="203.1" cy="230.3" r="3.5"/><circle cx="142" cy="230.4" r="3.5"/><circle cx="153.2" cy="230.4" r="3.5"/><circle cx="210.6" cy="230.4" r="3.5"/><circle cx="135.9" cy="230.4" r="3.5"/><circle cx="147.3" cy="230.4" r="3.5"/><circle cx="141" cy="230.4" r="3.5"/><circle cx="164.1" cy="230.4" r="3.5"/><circle cx="228" cy="230.4" r="3.5"/><circle cx="168.7" cy="230.5" r="3.5"/><circle cx="167.1" cy="230.5" r="3.5"/><circle cx="203" cy="230.5" r="3.5"/><circle cx="168.3" cy="230.5" r="3.5"/><circle cx="143.7" cy="230.5" r="3.5"/><circle cx="117.6" cy="230.5" r="3.5"/><circle cx="201" cy="230.5" r="3.5"/><circle cx="192.4" cy="230.5" r="3.5"/><circle cx="161.3" cy="230.5" r="3.5"/><circle cx="167.6" cy="230.5" r="3.5"/><circle cx="199.2" cy="230.6" r="3.5"/><circle cx="201.6" cy="230.6" r="3.5"/><circle cx="165.5" cy="230.6" r="3.5"/><circle cx="154.2" cy="230.6" r="3.5"/><circle cx="150.8" cy="230.7" r="3.5"/><circle cx="152.7" cy="230.7" r="3.5"/><circle cx="161.6" cy="230.7" r="3.5"/><circle cx="203.1" cy="230.7" r="3.5"/><circle cx="153.8" cy="230.7" r="3.5"/><circle cx="150.2" cy="230.7" r="3.5"/><circle cx="162.3" cy="230.7" r="3.5"/><circle cx="167.6" cy="230.7" r="3.5"/><circle cx="191.3" cy="230.7" r="3.5"/><circle cx="144.9" cy="230.7" r="3.5"/><circle cx="142.6" cy="230.7" r="3.5"/><circle cx="210.9" cy="230.7" r="3.5"/><circle cx="159.6" cy="230.7" r="3.5"/><circle cx="203.8" cy="230.7" r="3.5"/><circle cx="145.2" cy="230.7" r="3.5"/><circle cx="206.3" cy="230.8" r="3.5"/><circle cx="143.5" cy="230.8" r="3.5"/><circle cx="195.1" cy="230.8" r="3.5"/><circle cx="189.2" cy="230.8" r="3.5"/><circle cx="201.4" cy="230.8" r="3.5"/><circle cx="210.6" cy="230.8" r="3.5"/><circle cx="210.3" cy="230.8" r="3.5"/><circle cx="227.3" cy="230.8" r="3.5"/><circle cx="156.3" cy="230.8" r="3.5"/><circle cx="146" cy="230.8" r="3.5"/><circle cx="141.9" cy="230.8" r="3.5"/><circle cx="164.8" cy="230.8" r="3.5"/><circle cx="140.4" cy="230.8" r="3.5"/><circle cx="194.2" cy="230.9" r="3.5"/><circle cx="167.7" cy="230.9" r="3.5"/><circle cx="146.7" cy="230.9" r="3.5"/><circle cx="165" cy="230.9" r="3.5"/><circle cx="155.3" cy="230.9" r="3.5"/><circle cx="153.7" cy="231" r="3.5"/><circle cx="144.6" cy="231" r="3.5"/><circle cx="142.5" cy="231" r="3.5"/><circle cx="200" cy="231" r="3.5"/><circle cx="153.7" cy="231" r="3.5"/><circle cx="189" cy="231" r="3.5"/><circle cx="207.5" cy="231" r="3.5"/><circle cx="145.4" cy="231" r="3.5"/><circle cx="162.7" cy="231" r="3.5"/><circle cx="163" cy="231.1" r="3.5"/><circle cx="211.3" cy="231.1" r="3.5"/><circle cx="215.2" cy="231.1" r="3.5"/><circle cx="162.7" cy="231.1" r="3.5"/><circle cx="153.5" cy="231.1" r="3.5"/><circle cx="151.7" cy="231.1" r="3.5"/><circle cx="202" cy="231.2" r="3.5"/><circle cx="213.7" cy="231.2" r="3.5"/><circle cx="198.9" cy="231.2" r="3.5"/><circle cx="188.7" cy="231.2" r="3.5"/><circle cx="148.5" cy="231.2" r="3.5"/><circle cx="166.6" cy="231.2" r="3.5"/><circle cx="212.7" cy="231.2" r="3.5"/><circle cx="188.9" cy="231.3" r="3.5"/><circle cx="156.5" cy="231.3" r="3.5"/><circle cx="193.2" cy="231.3" r="3.5"/><circle cx="151.4" cy="231.3" r="3.5"/><circle cx="144.4" cy="231.3" r="3.5"/><circle cx="151.3" cy="231.3" r="3.5"/><circle cx="196.1" cy="231.3" r="3.5"/><circle cx="158.4" cy="231.4" r="3.5"/><circle cx="161.5" cy="231.4" r="3.5"/><circle cx="205.4" cy="231.4" r="3.5"/><circle cx="208.4" cy="231.4" r="3.5"/><circle cx="167.7" cy="231.4" r="3.5"/><circle cx="161.3" cy="231.4" r="3.5"/><circle cx="199.8" cy="231.4" r="3.5"/><circle cx="148.2" cy="231.4" r="3.5"/><circle cx="205.2" cy="231.4" r="3.5"/><circle cx="216.3" cy="231.4" r="3.5"/><circle cx="160" cy="231.4" r="3.5"/><circle cx="187.3" cy="231.4" r="3.5"/><circle cx="220.1" cy="231.5" r="3.5"/><circle cx="145.4" cy="231.5" r="3.5"/><circle cx="159.3" cy="231.5" r="3.5"/><circle cx="210.3" cy="231.5" r="3.5"/><circle cx="149.8" cy="231.5" r="3.5"/><circle cx="216.6" cy="231.5" r="3.5"/><circle cx="157.5" cy="231.6" r="3.5"/><circle cx="210.8" cy="231.6" r="3.5"/><circle cx="193.2" cy="231.6" r="3.5"/><circle cx="199.7" cy="231.6" r="3.5"/><circle cx="139.5" cy="231.6" r="3.5"/><circle cx="209.6" cy="231.6" r="3.5"/><circle cx="206.4" cy="231.6" r="3.5"/><circle cx="206" cy="231.6" r="3.5"/><circle cx="140.6" cy="231.6" r="3.5"/><circle cx="145.7" cy="231.6" r="3.5"/><circle cx="164.5" cy="231.6" r="3.5"/><circle cx="143" cy="231.6" r="3.5"/><circle cx="197.5" cy="231.7" r="3.5"/><circle cx="165.6" cy="231.7" r="3.5"/><circle cx="153.8" cy="231.7" r="3.5"/><circle cx="202.7" cy="231.7" r="3.5"/><circle cx="155.6" cy="231.7" r="3.5"/><circle cx="200" cy="231.7" r="3.5"/><circle cx="208.5" cy="231.7" r="3.5"/><circle cx="196.8" cy="231.8" r="3.5"/><circle cx="153.1" cy="231.8" r="3.5"/><circle cx="145.3" cy="231.8" r="3.5"/><circle cx="139.1" cy="231.8" r="3.5"/><circle cx="207.1" cy="231.8" r="3.5"/><circle cx="166.8" cy="231.8" r="3.5"/><circle cx="143.4" cy="231.8" r="3.5"/><circle cx="154.5" cy="231.8" r="3.5"/><circle cx="196" cy="231.8" r="3.5"/><circle cx="190.4" cy="231.8" r="3.5"/><circle cx="142.3" cy="231.9" r="3.5"/><circle cx="187.6" cy="231.9" r="3.5"/><circle cx="201.4" cy="231.9" r="3.5"/><circle cx="213.9" cy="231.9" r="3.5"/><circle cx="140.1" cy="231.9" r="3.5"/><circle cx="186.2" cy="231.9" r="3.5"/><circle cx="188.8" cy="231.9" r="3.5"/><circle cx="198.7" cy="231.9" r="3.5"/><circle cx="158.3" cy="231.9" r="3.5"/><circle cx="213" cy="231.9" r="3.5"/><circle cx="148.7" cy="231.9" r="3.5"/><circle cx="149.9" cy="231.9" r="3.5"/><circle cx="158.3" cy="231.9" r="3.5"/><circle cx="156.1" cy="232" r="3.5"/><circle cx="199.5" cy="232" r="3.5"/><circle cx="141" cy="232" r="3.5"/><circle cx="186.2" cy="232" r="3.5"/><circle cx="151.4" cy="232" r="3.5"/><circle cx="133" cy="232" r="3.5"/><circle cx="149.4" cy="232" r="3.5"/><circle cx="203.6" cy="232" r="3.5"/><circle cx="146.7" cy="232.1" r="3.5"/><circle cx="192.2" cy="232.1" r="3.5"/><circle cx="165.8" cy="232.1" r="3.5"/><circle cx="205.6" cy="232.1" r="3.5"/><circle cx="142.2" cy="232.1" r="3.5"/><circle cx="206.6" cy="232.1" r="3.5"/><circle cx="207.9" cy="232.1" r="3.5"/><circle cx="161.6" cy="232.1" r="3.5"/><circle cx="202.9" cy="232.1" r="3.5"/><circle cx="163.2" cy="232.1" r="3.5"/><circle cx="197.7" cy="232.1" r="3.5"/><circle cx="210" cy="232.1" r="3.5"/><circle cx="206.6" cy="232.2" r="3.5"/><circle cx="141.9" cy="232.2" r="3.5"/><circle cx="201.8" cy="232.2" r="3.5"/><circle cx="200.1" cy="232.2" r="3.5"/><circle cx="139.6" cy="232.2" r="3.5"/><circle cx="167.4" cy="232.2" r="3.5"/><circle cx="160.2" cy="232.2" r="3.5"/><circle cx="158.3" cy="232.2" r="3.5"/><circle cx="195.4" cy="232.3" r="3.5"/><circle cx="146.3" cy="232.3" r="3.5"/><circle cx="194.4" cy="232.3" r="3.5"/><circle cx="209.7" cy="232.3" r="3.5"/><circle cx="198.4" cy="232.3" r="3.5"/><circle cx="161.2" cy="232.3" r="3.5"/><circle cx="187.3" cy="232.3" r="3.5"/><circle cx="214.5" cy="232.3" r="3.5"/><circle cx="195.1" cy="232.3" r="3.5"/><circle cx="164.2" cy="232.3" r="3.5"/><circle cx="191.7" cy="232.3" r="3.5"/><circle cx="142.1" cy="232.3" r="3.5"/><circle cx="216.2" cy="232.3" r="3.5"/><circle cx="207.9" cy="232.3" r="3.5"/><circle cx="190" cy="232.4" r="3.5"/><circle cx="155.3" cy="232.4" r="3.5"/><circle cx="210.5" cy="232.4" r="3.5"/><circle cx="201.3" cy="232.4" r="3.5"/><circle cx="199.4" cy="232.4" r="3.5"/><circle cx="166.4" cy="232.4" r="3.5"/><circle cx="198" cy="232.4" r="3.5"/><circle cx="212.8" cy="232.4" r="3.5"/><circle cx="197.6" cy="232.4" r="3.5"/><circle cx="153.6" cy="232.5" r="3.5"/><circle cx="136.1" cy="232.5" r="3.5"/><circle cx="160" cy="232.5" r="3.5"/><circle cx="153.2" cy="232.5" r="3.5"/><circle cx="160.9" cy="232.5" r="3.5"/><circle cx="148.8" cy="232.5" r="3.5"/><circle cx="197.6" cy="232.5" r="3.5"/><circle cx="139.3" cy="232.5" r="3.5"/><circle cx="190.2" cy="232.5" r="3.5"/><circle cx="155.6" cy="232.5" r="3.5"/><circle cx="214.5" cy="232.6" r="3.5"/><circle cx="161" cy="232.6" r="3.5"/><circle cx="160.4" cy="232.6" r="3.5"/><circle cx="192.7" cy="232.6" r="3.5"/><circle cx="159.8" cy="232.6" r="3.5"/><circle cx="169.2" cy="232.6" r="3.5"/><circle cx="147.9" cy="232.6" r="3.5"/><circle cx="189" cy="232.6" r="3.5"/><circle cx="165.2" cy="232.6" r="3.5"/><circle cx="163.8" cy="232.6" r="3.5"/><circle cx="142.3" cy="232.6" r="3.5"/><circle cx="162.7" cy="232.6" r="3.5"/><circle cx="168.9" cy="232.6" r="3.5"/><circle cx="200" cy="232.7" r="3.5"/><circle cx="204" cy="232.7" r="3.5"/><circle cx="205.3" cy="232.7" r="3.5"/><circle cx="168.1" cy="232.7" r="3.5"/><circle cx="156.9" cy="232.7" r="3.5"/><circle cx="163.7" cy="232.7" r="3.5"/><circle cx="146.4" cy="232.7" r="3.5"/><circle cx="151.6" cy="232.7" r="3.5"/><circle cx="159.8" cy="232.8" r="3.5"/><circle cx="151" cy="232.8" r="3.5"/><circle cx="135.7" cy="232.8" r="3.5"/><circle cx="186.4" cy="232.8" r="3.5"/><circle cx="139.2" cy="232.8" r="3.5"/><circle cx="147.5" cy="232.8" r="3.5"/><circle cx="137.3" cy="232.8" r="3.5"/><circle cx="207.7" cy="232.8" r="3.5"/><circle cx="140.3" cy="232.8" r="3.5"/><circle cx="151.3" cy="232.8" r="3.5"/><circle cx="190.2" cy="232.8" r="3.5"/><circle cx="157.2" cy="232.8" r="3.5"/><circle cx="206.9" cy="232.8" r="3.5"/><circle cx="208.5" cy="232.9" r="3.5"/><circle cx="208.3" cy="232.9" r="3.5"/><circle cx="198.6" cy="232.9" r="3.5"/><circle cx="146.1" cy="232.9" r="3.5"/><circle cx="124.6" cy="232.9" r="3.5"/><circle cx="152.6" cy="232.9" r="3.5"/><circle cx="154" cy="232.9" r="3.5"/><circle cx="205.8" cy="232.9" r="3.5"/><circle cx="164.4" cy="232.9" r="3.5"/><circle cx="160.1" cy="232.9" r="3.5"/><circle cx="163.8" cy="232.9" r="3.5"/><circle cx="211.9" cy="233" r="3.5"/><circle cx="158.7" cy="233" r="3.5"/><circle cx="141.8" cy="233" r="3.5"/><circle cx="156.1" cy="233" r="3.5"/><circle cx="166.2" cy="233" r="3.5"/><circle cx="207.4" cy="233" r="3.5"/><circle cx="201.6" cy="233" r="3.5"/><circle cx="148.9" cy="233" r="3.5"/><circle cx="162.6" cy="233" r="3.5"/><circle cx="211.1" cy="233.1" r="3.5"/><circle cx="207.8" cy="233.1" r="3.5"/><circle cx="195.6" cy="233.1" r="3.5"/><circle cx="167" cy="233.1" r="3.5"/><circle cx="157.4" cy="233.2" r="3.5"/><circle cx="156.3" cy="233.2" r="3.5"/><circle cx="163.2" cy="233.2" r="3.5"/><circle cx="167.9" cy="233.2" r="3.5"/><circle cx="148.3" cy="233.2" r="3.5"/><circle cx="150" cy="233.2" r="3.5"/><circle cx="205.4" cy="233.2" r="3.5"/><circle cx="165.1" cy="233.2" r="3.5"/><circle cx="206.9" cy="233.2" r="3.5"/><circle cx="201.3" cy="233.3" r="3.5"/><circle cx="192" cy="233.3" r="3.5"/><circle cx="195.8" cy="233.3" r="3.5"/><circle cx="143.6" cy="233.3" r="3.5"/><circle cx="188.4" cy="233.3" r="3.5"/><circle cx="165.7" cy="233.3" r="3.5"/><circle cx="199.8" cy="233.3" r="3.5"/><circle cx="162.1" cy="233.3" r="3.5"/><circle cx="141.8" cy="233.3" r="3.5"/><circle cx="209.4" cy="233.4" r="3.5"/><circle cx="140.3" cy="233.4" r="3.5"/><circle cx="142.2" cy="233.4" r="3.5"/><circle cx="156.2" cy="233.4" r="3.5"/><circle cx="146.7" cy="233.4" r="3.5"/><circle cx="139.4" cy="233.4" r="3.5"/><circle cx="208.9" cy="233.4" r="3.5"/><circle cx="152.3" cy="233.4" r="3.5"/><circle cx="203.4" cy="233.4" r="3.5"/><circle cx="144.6" cy="233.4" r="3.5"/><circle cx="207.9" cy="233.4" r="3.5"/><circle cx="213.5" cy="233.4" r="3.5"/><circle cx="158.8" cy="233.4" r="3.5"/><circle cx="150.2" cy="233.4" r="3.5"/><circle cx="208.8" cy="233.4" r="3.5"/><circle cx="163.9" cy="233.5" r="3.5"/><circle cx="194.5" cy="233.5" r="3.5"/><circle cx="163.5" cy="233.5" r="3.5"/><circle cx="147.4" cy="233.5" r="3.5"/><circle cx="155.1" cy="233.5" r="3.5"/><circle cx="204.3" cy="233.5" r="3.5"/><circle cx="186.4" cy="233.5" r="3.5"/><circle cx="192" cy="233.5" r="3.5"/><circle cx="207.9" cy="233.5" r="3.5"/><circle cx="197.1" cy="233.5" r="3.5"/><circle cx="142.6" cy="233.6" r="3.5"/><circle cx="167.1" cy="233.6" r="3.5"/><circle cx="155.3" cy="233.6" r="3.5"/><circle cx="214.5" cy="233.6" r="3.5"/><circle cx="207.6" cy="233.6" r="3.5"/><circle cx="161.2" cy="233.6" r="3.5"/><circle cx="188.4" cy="233.6" r="3.5"/><circle cx="195" cy="233.6" r="3.5"/><circle cx="163.4" cy="233.7" r="3.5"/><circle cx="164.6" cy="233.7" r="3.5"/><circle cx="209.6" cy="233.7" r="3.5"/><circle cx="141.3" cy="233.7" r="3.5"/><circle cx="144.8" cy="233.7" r="3.5"/><circle cx="213.2" cy="233.7" r="3.5"/><circle cx="196.3" cy="233.7" r="3.5"/><circle cx="148.5" cy="233.7" r="3.5"/><circle cx="166.4" cy="233.7" r="3.5"/><circle cx="187.2" cy="233.7" r="3.5"/><circle cx="212.4" cy="233.7" r="3.5"/><circle cx="159.9" cy="233.7" r="3.5"/><circle cx="160" cy="233.8" r="3.5"/><circle cx="141.9" cy="233.8" r="3.5"/><circle cx="161.9" cy="233.8" r="3.5"/><circle cx="139.7" cy="233.8" r="3.5"/><circle cx="189.9" cy="233.8" r="3.5"/><circle cx="149.8" cy="233.8" r="3.5"/><circle cx="139.3" cy="233.8" r="3.5"/><circle cx="162.1" cy="233.9" r="3.5"/><circle cx="208" cy="233.9" r="3.5"/><circle cx="151.9" cy="233.9" r="3.5"/><circle cx="210.2" cy="233.9" r="3.5"/><circle cx="152.1" cy="233.9" r="3.5"/><circle cx="192.9" cy="234" r="3.5"/><circle cx="198.2" cy="234" r="3.5"/><circle cx="162.1" cy="234" r="3.5"/><circle cx="153.1" cy="234" r="3.5"/><circle cx="191.9" cy="234" r="3.5"/><circle cx="211.5" cy="234" r="3.5"/><circle cx="151.8" cy="234" r="3.5"/><circle cx="205.2" cy="234" r="3.5"/><circle cx="148.2" cy="234" r="3.5"/><circle cx="193.4" cy="234" r="3.5"/><circle cx="202.6" cy="234" r="3.5"/><circle cx="191.2" cy="234.1" r="3.5"/><circle cx="187.7" cy="234.1" r="3.5"/><circle cx="197.8" cy="234.1" r="3.5"/><circle cx="146.8" cy="234.1" r="3.5"/><circle cx="214" cy="234.1" r="3.5"/><circle cx="210.6" cy="234.1" r="3.5"/><circle cx="197.8" cy="234.1" r="3.5"/><circle cx="160.1" cy="234.1" r="3.5"/><circle cx="143.6" cy="234.1" r="3.5"/><circle cx="208.7" cy="234.1" r="3.5"/><circle cx="157.3" cy="234.1" r="3.5"/><circle cx="213.3" cy="234.1" r="3.5"/><circle cx="194.8" cy="234.2" r="3.5"/><circle cx="195.8" cy="234.2" r="3.5"/><circle cx="188.6" cy="234.2" r="3.5"/><circle cx="149.1" cy="234.2" r="3.5"/><circle cx="168.3" cy="234.2" r="3.5"/><circle cx="210.1" cy="234.2" r="3.5"/><circle cx="194.7" cy="234.2" r="3.5"/><circle cx="205" cy="234.2" r="3.5"/><circle cx="164.4" cy="234.2" r="3.5"/><circle cx="205.2" cy="234.2" r="3.5"/><circle cx="203.1" cy="234.2" r="3.5"/><circle cx="161.3" cy="234.3" r="3.5"/><circle cx="203.1" cy="234.3" r="3.5"/><circle cx="204" cy="234.3" r="3.5"/><circle cx="197.5" cy="234.3" r="3.5"/><circle cx="210.1" cy="234.3" r="3.5"/><circle cx="167.5" cy="234.3" r="3.5"/><circle cx="125" cy="234.3" r="3.5"/><circle cx="187.1" cy="234.3" r="3.5"/><circle cx="145.3" cy="234.3" r="3.5"/><circle cx="157.6" cy="234.3" r="3.5"/><circle cx="205.3" cy="234.3" r="3.5"/><circle cx="199.9" cy="234.4" r="3.5"/><circle cx="139.5" cy="234.4" r="3.5"/><circle cx="151.9" cy="234.4" r="3.5"/><circle cx="156.4" cy="234.4" r="3.5"/><circle cx="166.7" cy="234.4" r="3.5"/><circle cx="188.2" cy="234.4" r="3.5"/><circle cx="200.3" cy="234.4" r="3.5"/><circle cx="169.2" cy="234.4" r="3.5"/><circle cx="196.2" cy="234.5" r="3.5"/><circle cx="152" cy="234.5" r="3.5"/><circle cx="156" cy="234.5" r="3.5"/><circle cx="148" cy="234.5" r="3.5"/><circle cx="200.1" cy="234.5" r="3.5"/><circle cx="148.5" cy="234.5" r="3.5"/><circle cx="148.6" cy="234.5" r="3.5"/><circle cx="214.1" cy="234.5" r="3.5"/><circle cx="162.4" cy="234.5" r="3.5"/><circle cx="196.7" cy="234.5" r="3.5"/><circle cx="196.1" cy="234.6" r="3.5"/><circle cx="163.8" cy="234.6" r="3.5"/><circle cx="153.5" cy="234.6" r="3.5"/><circle cx="188.5" cy="234.6" r="3.5"/><circle cx="195.9" cy="234.6" r="3.5"/><circle cx="163.1" cy="234.6" r="3.5"/><circle cx="156.7" cy="234.6" r="3.5"/><circle cx="147.9" cy="234.6" r="3.5"/><circle cx="127.2" cy="234.6" r="3.5"/><circle cx="157.8" cy="234.6" r="3.5"/><circle cx="156.1" cy="234.6" r="3.5"/><circle cx="152.3" cy="234.7" r="3.5"/><circle cx="202.9" cy="234.7" r="3.5"/><circle cx="153.1" cy="234.7" r="3.5"/><circle cx="152.9" cy="234.7" r="3.5"/><circle cx="194.4" cy="234.7" r="3.5"/><circle cx="149.5" cy="234.7" r="3.5"/><circle cx="208.7" cy="234.7" r="3.5"/><circle cx="158.1" cy="234.7" r="3.5"/><circle cx="157" cy="234.7" r="3.5"/><circle cx="151" cy="234.8" r="3.5"/><circle cx="207.5" cy="234.8" r="3.5"/><circle cx="142.9" cy="234.8" r="3.5"/><circle cx="199.6" cy="234.8" r="3.5"/><circle cx="201.1" cy="234.8" r="3.5"/><circle cx="151.9" cy="234.8" r="3.5"/><circle cx="214.3" cy="234.8" r="3.5"/><circle cx="208.9" cy="234.8" r="3.5"/><circle cx="187.7" cy="234.8" r="3.5"/><circle cx="145" cy="234.8" r="3.5"/><circle cx="144" cy="234.8" r="3.5"/><circle cx="208.9" cy="234.8" r="3.5"/><circle cx="203.4" cy="234.9" r="3.5"/><circle cx="192.1" cy="234.9" r="3.5"/><circle cx="162.2" cy="234.9" r="3.5"/><circle cx="198.1" cy="234.9" r="3.5"/><circle cx="199" cy="235" r="3.5"/><circle cx="199.2" cy="235" r="3.5"/><circle cx="203.5" cy="235" r="3.5"/><circle cx="165.7" cy="235" r="3.5"/><circle cx="146" cy="235" r="3.5"/><circle cx="113.5" cy="235" r="3.5"/><circle cx="198.6" cy="235" r="3.5"/><circle cx="206.4" cy="235" r="3.5"/><circle cx="211.9" cy="235" r="3.5"/><circle cx="139.6" cy="235" r="3.5"/><circle cx="161.8" cy="235" r="3.5"/><circle cx="187.7" cy="235" r="3.5"/><circle cx="151.2" cy="235" r="3.5"/><circle cx="148.1" cy="235" r="3.5"/><circle cx="207.8" cy="235.1" r="3.5"/><circle cx="164.6" cy="235.1" r="3.5"/><circle cx="167.3" cy="235.1" r="3.5"/><circle cx="259.2" cy="235.1" r="3.5"/><circle cx="143.4" cy="235.1" r="3.5"/><circle cx="141" cy="235.1" r="3.5"/><circle cx="167.2" cy="235.2" r="3.5"/><circle cx="150.2" cy="235.2" r="3.5"/><circle cx="147.5" cy="235.2" r="3.5"/><circle cx="205.9" cy="235.2" r="3.5"/><circle cx="163.9" cy="235.2" r="3.5"/><circle cx="163.5" cy="235.2" r="3.5"/><circle cx="148.5" cy="235.2" r="3.5"/><circle cx="165.3" cy="235.2" r="3.5"/><circle cx="189.8" cy="235.2" r="3.5"/><circle cx="201.4" cy="235.3" r="3.5"/><circle cx="158.1" cy="235.3" r="3.5"/><circle cx="205.4" cy="235.3" r="3.5"/><circle cx="157.3" cy="235.3" r="3.5"/><circle cx="203.8" cy="235.3" r="3.5"/><circle cx="187.3" cy="235.3" r="3.5"/><circle cx="192.7" cy="235.3" r="3.5"/><circle cx="189.1" cy="235.4" r="3.5"/><circle cx="162.2" cy="235.4" r="3.5"/><circle cx="144.3" cy="235.4" r="3.5"/><circle cx="213.4" cy="235.4" r="3.5"/><circle cx="187.3" cy="235.4" r="3.5"/><circle cx="195.8" cy="235.4" r="3.5"/><circle cx="213.3" cy="235.4" r="3.5"/><circle cx="157.3" cy="235.4" r="3.5"/><circle cx="144.4" cy="235.4" r="3.5"/><circle cx="149.2" cy="235.4" r="3.5"/><circle cx="161.7" cy="235.4" r="3.5"/><circle cx="198.5" cy="235.4" r="3.5"/><circle cx="142.7" cy="235.5" r="3.5"/><circle cx="194.9" cy="235.5" r="3.5"/><circle cx="189" cy="235.5" r="3.5"/><circle cx="201.8" cy="235.5" r="3.5"/><circle cx="200.9" cy="235.5" r="3.5"/><circle cx="165" cy="235.5" r="3.5"/><circle cx="199.7" cy="235.6" r="3.5"/><circle cx="140.6" cy="235.6" r="3.5"/><circle cx="146.9" cy="235.6" r="3.5"/><circle cx="161.5" cy="235.6" r="3.5"/><circle cx="198.8" cy="235.6" r="3.5"/><circle cx="212.8" cy="235.6" r="3.5"/><circle cx="156.1" cy="235.6" r="3.5"/><circle cx="204.7" cy="235.6" r="3.5"/><circle cx="162.9" cy="235.6" r="3.5"/><circle cx="211.8" cy="235.6" r="3.5"/><circle cx="214.3" cy="235.6" r="3.5"/><circle cx="205.7" cy="235.6" r="3.5"/><circle cx="156.5" cy="235.7" r="3.5"/><circle cx="157.6" cy="235.7" r="3.5"/><circle cx="156.3" cy="235.7" r="3.5"/><circle cx="208.8" cy="235.7" r="3.5"/><circle cx="145.7" cy="235.7" r="3.5"/><circle cx="210.8" cy="235.7" r="3.5"/><circle cx="161.4" cy="235.8" r="3.5"/><circle cx="186.9" cy="235.8" r="3.5"/><circle cx="167.3" cy="235.8" r="3.5"/><circle cx="200.4" cy="235.8" r="3.5"/><circle cx="164.8" cy="235.8" r="3.5"/><circle cx="160.8" cy="235.8" r="3.5"/><circle cx="209.6" cy="235.8" r="3.5"/><circle cx="197.3" cy="235.8" r="3.5"/><circle cx="154.8" cy="235.8" r="3.5"/><circle cx="156.5" cy="235.8" r="3.5"/><circle cx="159.2" cy="235.9" r="3.5"/><circle cx="196" cy="235.9" r="3.5"/><circle cx="163.1" cy="235.9" r="3.5"/><circle cx="146.2" cy="235.9" r="3.5"/><circle cx="158.3" cy="235.9" r="3.5"/><circle cx="197.9" cy="235.9" r="3.5"/><circle cx="206.8" cy="235.9" r="3.5"/><circle cx="209" cy="235.9" r="3.5"/><circle cx="167.3" cy="235.9" r="3.5"/><circle cx="203" cy="235.9" r="3.5"/><circle cx="147.5" cy="235.9" r="3.5"/><circle cx="200.1" cy="236" r="3.5"/><circle cx="160.9" cy="236" r="3.5"/><circle cx="145.7" cy="236" r="3.5"/><circle cx="210.9" cy="236" r="3.5"/><circle cx="193.4" cy="236.1" r="3.5"/><circle cx="155.2" cy="236.1" r="3.5"/><circle cx="195.4" cy="236.1" r="3.5"/><circle cx="143.7" cy="236.1" r="3.5"/><circle cx="206.2" cy="236.1" r="3.5"/><circle cx="194.2" cy="236.1" r="3.5"/><circle cx="159" cy="236.1" r="3.5"/><circle cx="159.7" cy="236.1" r="3.5"/><circle cx="158.2" cy="236.1" r="3.5"/><circle cx="197.9" cy="236.1" r="3.5"/><circle cx="148" cy="236.1" r="3.5"/><circle cx="124.6" cy="236.2" r="3.5"/><circle cx="152.7" cy="236.2" r="3.5"/><circle cx="157" cy="236.2" r="3.5"/><circle cx="165.2" cy="236.2" r="3.5"/><circle cx="151.3" cy="236.2" r="3.5"/><circle cx="160.5" cy="236.2" r="3.5"/><circle cx="145.9" cy="236.2" r="3.5"/><circle cx="201.4" cy="236.2" r="3.5"/><circle cx="147.7" cy="236.2" r="3.5"/><circle cx="157.4" cy="236.2" r="3.5"/><circle cx="193.3" cy="236.2" r="3.5"/><circle cx="133.4" cy="236.3" r="3.5"/><circle cx="149.2" cy="236.3" r="3.5"/><circle cx="144.7" cy="236.3" r="3.5"/><circle cx="139.4" cy="236.3" r="3.5"/><circle cx="154.3" cy="236.4" r="3.5"/><circle cx="198.8" cy="236.4" r="3.5"/><circle cx="205.8" cy="236.4" r="3.5"/><circle cx="159.7" cy="236.4" r="3.5"/><circle cx="144.7" cy="236.4" r="3.5"/><circle cx="187" cy="236.4" r="3.5"/><circle cx="193.4" cy="236.4" r="3.5"/><circle cx="146.5" cy="236.4" r="3.5"/><circle cx="196.3" cy="236.4" r="3.5"/><circle cx="191.6" cy="236.4" r="3.5"/><circle cx="142.9" cy="236.4" r="3.5"/><circle cx="204.2" cy="236.5" r="3.5"/><circle cx="155.2" cy="236.5" r="3.5"/><circle cx="143.7" cy="236.5" r="3.5"/><circle cx="167.1" cy="236.5" r="3.5"/><circle cx="144.9" cy="236.5" r="3.5"/><circle cx="162.6" cy="236.5" r="3.5"/><circle cx="109.3" cy="237.9" r="3.5"/><circle cx="136.4" cy="239.8" r="3.5"/><circle cx="145.7" cy="240.2" r="3.5"/><circle cx="156.2" cy="240.6" r="3.5"/><circle cx="163.6" cy="240.6" r="3.5"/><circle cx="190.4" cy="240.8" r="3.5"/><circle cx="197.5" cy="240.8" r="3.5"/><circle cx="205.2" cy="240.8" r="3.5"/><circle cx="213.2" cy="240.8" r="3.5"/></g><circle cx="169.6" cy="189.5" r="3.5" fill="#999999" stroke="#000" stroke-width="1.3"/><circle cx="170.2" cy="193" r="3.5" fill="#999999" stroke="#000" stroke-width="1.3"/><circle cx="170.6" cy="196.5" r="3.5" fill="#999999" stroke="#000" stroke-width="1.3"/><circle cx="170.9" cy="200" r="3.5" fill="#999999" stroke="#000" stroke-width="1.3"/><circle cx="171.1" cy="203.5" r="3.5" fill="#999999" stroke="#000" stroke-width="1.3"/><circle cx="171.3" cy="207" r="3.5" fill="#999999" stroke="#000" stroke-width="1.3"/><circle cx="166.2" cy="190.7" r="3.9" fill="#000"/><circle cx="166.8" cy="194.2" r="3.9" fill="#000"/><circle cx="167.2" cy="197.7" r="3.9" fill="#000"/><circle cx="167.5" cy="201.2" r="3.9" fill="#000"/><circle cx="167.7" cy="204.7" r="3.9" fill="#000"/><circle cx="167.9" cy="208.2" r="3.9" fill="#000"/><circle cx="186" cy="183.5" r="3.5" fill="#999999" stroke="#000" stroke-width="1.3"/><circle cx="185.7" cy="187" r="3.5" fill="#999999" stroke="#000" stroke-width="1.3"/><circle cx="185.4" cy="190.5" r="3.5" fill="#999999" stroke="#000" stroke-width="1.3"/><circle cx="185.2" cy="194" r="3.5" fill="#999999" stroke="#000" stroke-width="1.3"/><circle cx="189.8" cy="184.8" r="3.5" fill="#ff0000" stroke="#000" stroke-width="1.3"/><circle cx="190.1" cy="188.3" r="3.5" fill="#000" stroke="#000" stroke-width="1.3"/><circle cx="189.2" cy="191.8" r="3.5" fill="#ff0000" stroke="#000" stroke-width="1.3"/><circle cx="189.6" cy="195.3" r="3.5" fill="#000" stroke="#000" stroke-width="1.3"/>
<path d="M169.4 52.1V241M185.9 52.1V241" stroke="#000" stroke-width="1.5" stroke-dasharray="5.4 3.17"/>
<path d="M53.6 241.5H457.5" stroke="#000" stroke-width="1.5" stroke-dasharray="5 3.47"/>
<text class="r" x="111" y="74" text-anchor="middle" font-size="12">947 unique down-</text>
<text class="r" x="111" y="88" text-anchor="middle" font-size="12">regulated genes</text>
<text class="r" x="250.5" y="74" text-anchor="middle" font-size="12">790 unique up-</text>
<text class="r" x="250.5" y="88" text-anchor="middle" font-size="12">regulated genes</text>
<text class="r" x="147.5" y="45" text-anchor="middle" font-size="12">-1.2-fold</text>
<text class="r" x="206" y="45" text-anchor="middle" font-size="12">+1.2-fold</text>
<text class="r" x="446" y="236" text-anchor="middle" font-size="12">p&lt;0.05</text>
<text class="r" x="46" y="58" text-anchor="end" font-size="12">10<tspan font-size="7.5" dy="-4.2" letter-spacing="-0.2">&#8722;12</tspan></text><text class="r" x="46" y="93.3" text-anchor="end" font-size="12">10<tspan font-size="7.5" dy="-4.2" letter-spacing="-0.2">&#8722;10</tspan></text><text class="r" x="46" y="128.6" text-anchor="end" font-size="12">10<tspan font-size="7.5" dy="-4.2" letter-spacing="-0.2">&#8722;8</tspan></text><text class="r" x="46" y="163.9" text-anchor="end" font-size="12">10<tspan font-size="7.5" dy="-4.2" letter-spacing="-0.2">&#8722;6</tspan></text><text class="r" x="46" y="199.2" text-anchor="end" font-size="12">10<tspan font-size="7.5" dy="-4.2" letter-spacing="-0.2">&#8722;4</tspan></text><text class="r" x="46" y="234.5" text-anchor="end" font-size="12">10<tspan font-size="7.5" dy="-4.2" letter-spacing="-0.2">&#8722;2</tspan></text><text class="r" x="46" y="269.8" text-anchor="end" font-size="12">10<tspan font-size="7.5" dy="-4.2" letter-spacing="-0.2">0</tspan></text>
<text class="r" x="54.8" y="282.6" text-anchor="middle" font-size="11.5">-8</text><text class="r" x="95.4" y="282.6" text-anchor="middle" font-size="11.5">-4</text><text class="r" x="136" y="282.6" text-anchor="middle" font-size="11.5">-2</text><text class="r" x="176.6" y="282.6" text-anchor="middle" font-size="11.5">1</text><text class="r" x="217.2" y="282.6" text-anchor="middle" font-size="11.5">2</text><text class="r" x="257.8" y="282.6" text-anchor="middle" font-size="11.5">4</text><text class="r" x="298.4" y="282.6" text-anchor="middle" font-size="11.5">8</text><text class="r" x="339" y="282.6" text-anchor="middle" font-size="11.5">16</text><text class="r" x="379.6" y="282.6" text-anchor="middle" font-size="11.5">32</text><text class="r" x="420.2" y="282.6" text-anchor="middle" font-size="11.5">64</text><text class="r" x="460.8" y="282.6" text-anchor="middle" font-size="11.5">128</text>
<text class="b" transform="translate(11.6 155.8) rotate(-90)" text-anchor="middle" font-size="13.3" letter-spacing="0.6">p value (&#8722;log<tspan font-size="9.5" dy="3" letter-spacing="0">10</tspan><tspan dy="-3">)</tspan></text>
<text class="b" x="258.2" y="302" text-anchor="middle" font-size="13.3" letter-spacing="0.65">Fold-change (log<tspan font-size="9.5" dy="3">2</tspan><tspan dy="-3">)</tspan></text>
<circle cx="128" cy="318.7" r="3.6" fill="#999999" stroke="#000" stroke-width="1.5"/>
<text class="b" x="138.5" y="325" font-size="14.5">Not significant</text>
<circle cx="258.6" cy="319" r="3.6" fill="#ff0000" stroke="#000" stroke-width="1.5"/>
<text class="b" x="268.5" y="325" font-size="14.5">Significant</text>
<text class="b" x="8.7" y="369" font-size="17">B. Hierarchical cluster</text>
<text class="b" x="241.5" y="388.8" text-anchor="middle" font-size="14.5">Probesets</text>
<text class="b" transform="translate(14.5 480) rotate(-90)" text-anchor="middle" font-size="14">Subjects</text>
<rect x="30" y="401" width="4.9" height="161.5" fill="#8a8a92"/>
<rect x="30.9" y="401" width="3.4" height="80.8" fill="#ff8000"/>
<rect x="30.9" y="481.8" width="3.4" height="80.7" fill="#007800"/>
<rect x="30" y="401" width="4.9" height="1" fill="#333"/>
<rect x="30.5" y="481.3" width="4" height="1" fill="#333"/>
<rect x="30" y="561.5" width="4.9" height="1" fill="#222"/>
<filter id="hm" x="44" y="401" width="424" height="161" filterUnits="userSpaceOnUse" primitiveUnits="userSpaceOnUse" color-interpolation-filters="sRGB">
<feTurbulence type="fractalNoise" baseFrequency="0.55 0.55" numOctaves="1" seed="5" result="n1"/>
<feTurbulence type="fractalNoise" baseFrequency="0.02 0.45" numOctaves="1" seed="9" result="n2"/>
<feColorMatrix in="n1" type="matrix" values="1 0 0 0 0 1 0 0 0 0 1 0 0 0 0 0 0 0 0 1" result="g1"/>
<feColorMatrix in="n2" type="matrix" values="0 1 0 0 0 0 1 0 0 0 0 1 0 0 0 0 0 0 0 1" result="g2"/>
<feGaussianBlur in="SourceGraphic" stdDeviation="2.5 0.3" edgeMode="duplicate" result="sg"/>
<feComposite in="g1" in2="sg" operator="arithmetic" k1="0" k2="0.65" k3="1" k4="-0.325" result="v1"/>
<feComposite in="g2" in2="v1" operator="arithmetic" k1="0" k2="0.8" k3="1" k4="-0.400" result="v2"/>
<feTurbulence type="fractalNoise" baseFrequency="0.33 0.02" numOctaves="1" seed="3" result="n3"/>
<feColorMatrix in="n3" type="matrix" values="0 0 1 0 0 0 0 1 0 0 0 0 1 0 0 0 0 0 0 1" result="g3"/>
<feComposite in="g3" in2="v2" operator="arithmetic" k1="0" k2="0.3" k3="1" k4="-0.150" result="v"/>
<feComponentTransfer in="v">
<feFuncR type="table" tableValues="0.282 0.416 0.557 0.706 0.831"/>
<feFuncG type="table" tableValues="0.259 0.376 0.475 0.384 0.267"/>
<feFuncB type="table" tableValues="0.800 0.690 0.541 0.400 0.235"/>
<feFuncA type="linear" slope="0" intercept="1"/>
</feComponentTransfer>
<feComponentTransfer result="col"><feFuncA type="linear" slope="0" intercept="1"/></feComponentTransfer>
<feFlood x="45" y="401" width="1" height="1" flood-color="#fff" result="d0"/>
<feComposite in="d0" in2="d0" operator="over" x="44" y="401" width="3" height="1" result="d1"/>
<feTile in="d1" x="44" y="401" width="424" height="161" result="grid"/>
<feComposite in="col" in2="grid" operator="in" result="dots"/>
<feMorphology in="dots" operator="dilate" radius="1 0"/>
</filter>
<g filter="url(#hm)"><rect x="44" y="401" width="193.2" height="80.2" fill="#9e9e9e"/><rect x="237.2" y="401" width="230.8" height="80.2" fill="#636363"/><rect x="44" y="481.2" width="193.2" height="80.8" fill="#636363"/><rect x="237.2" y="481.2" width="230.8" height="80.8" fill="#9c9c9c"/><rect x="44" y="402" width="193" height="12" fill="#a3a3a3"/><rect x="49" y="414" width="121" height="16" fill="#b8b8b8"/><rect x="55" y="418" width="65" height="7" fill="#c7c7c7"/><rect x="124" y="453" width="56" height="5" fill="#bdbdbd"/><rect x="61" y="478.6" width="60" height="2.7999999999999545" fill="#ffffff"/><rect x="124" y="462" width="37" height="10" fill="#8c8c8c"/><rect x="180" y="432" width="57" height="19" fill="#8f8f8f"/><rect x="193" y="455" width="44" height="24" fill="#b0b0b0"/><rect x="124" y="544" width="28" height="9" fill="#292929"/><rect x="170" y="500" width="65" height="9" fill="#7a7a7a"/><rect x="189" y="530" width="46" height="23" fill="#6b6b6b"/><rect x="264" y="402" width="172" height="14" fill="#454545"/><rect x="320" y="402" width="51" height="7" fill="#333333"/><rect x="250" y="439" width="23" height="5" fill="#808080"/><rect x="237" y="455" width="231" height="21" fill="#4c4c4c"/><rect x="237" y="479" width="231" height="3" fill="#383838"/><rect x="422" y="414" width="28" height="32" fill="#737373"/><rect x="237" y="482" width="231" height="6" fill="#808080"/><rect x="237" y="497" width="231" height="28" fill="#b2b2b2"/><rect x="237" y="535" width="28" height="27" fill="#858585"/><rect x="445" y="482" width="23" height="80" fill="#858585"/></g>
<rect x="62" y="479" width="59" height="2.6" fill="#de3e34" opacity="0.8"/>
<rect x="136.6" y="571" width="8.6" height="8.6" fill="#1f801f" stroke="#000" stroke-width="1.2"/>
<text class="b" x="151.8" y="580.3" font-size="14.5">Nonsmokers</text>
<rect x="266.6" y="570.8" width="8.6" height="8.6" fill="#e0a47c" stroke="#000" stroke-width="1.2"/>
<text class="b" x="281.5" y="580.3" font-size="14.5">Smokers</text>
</svg>
</body></html>
